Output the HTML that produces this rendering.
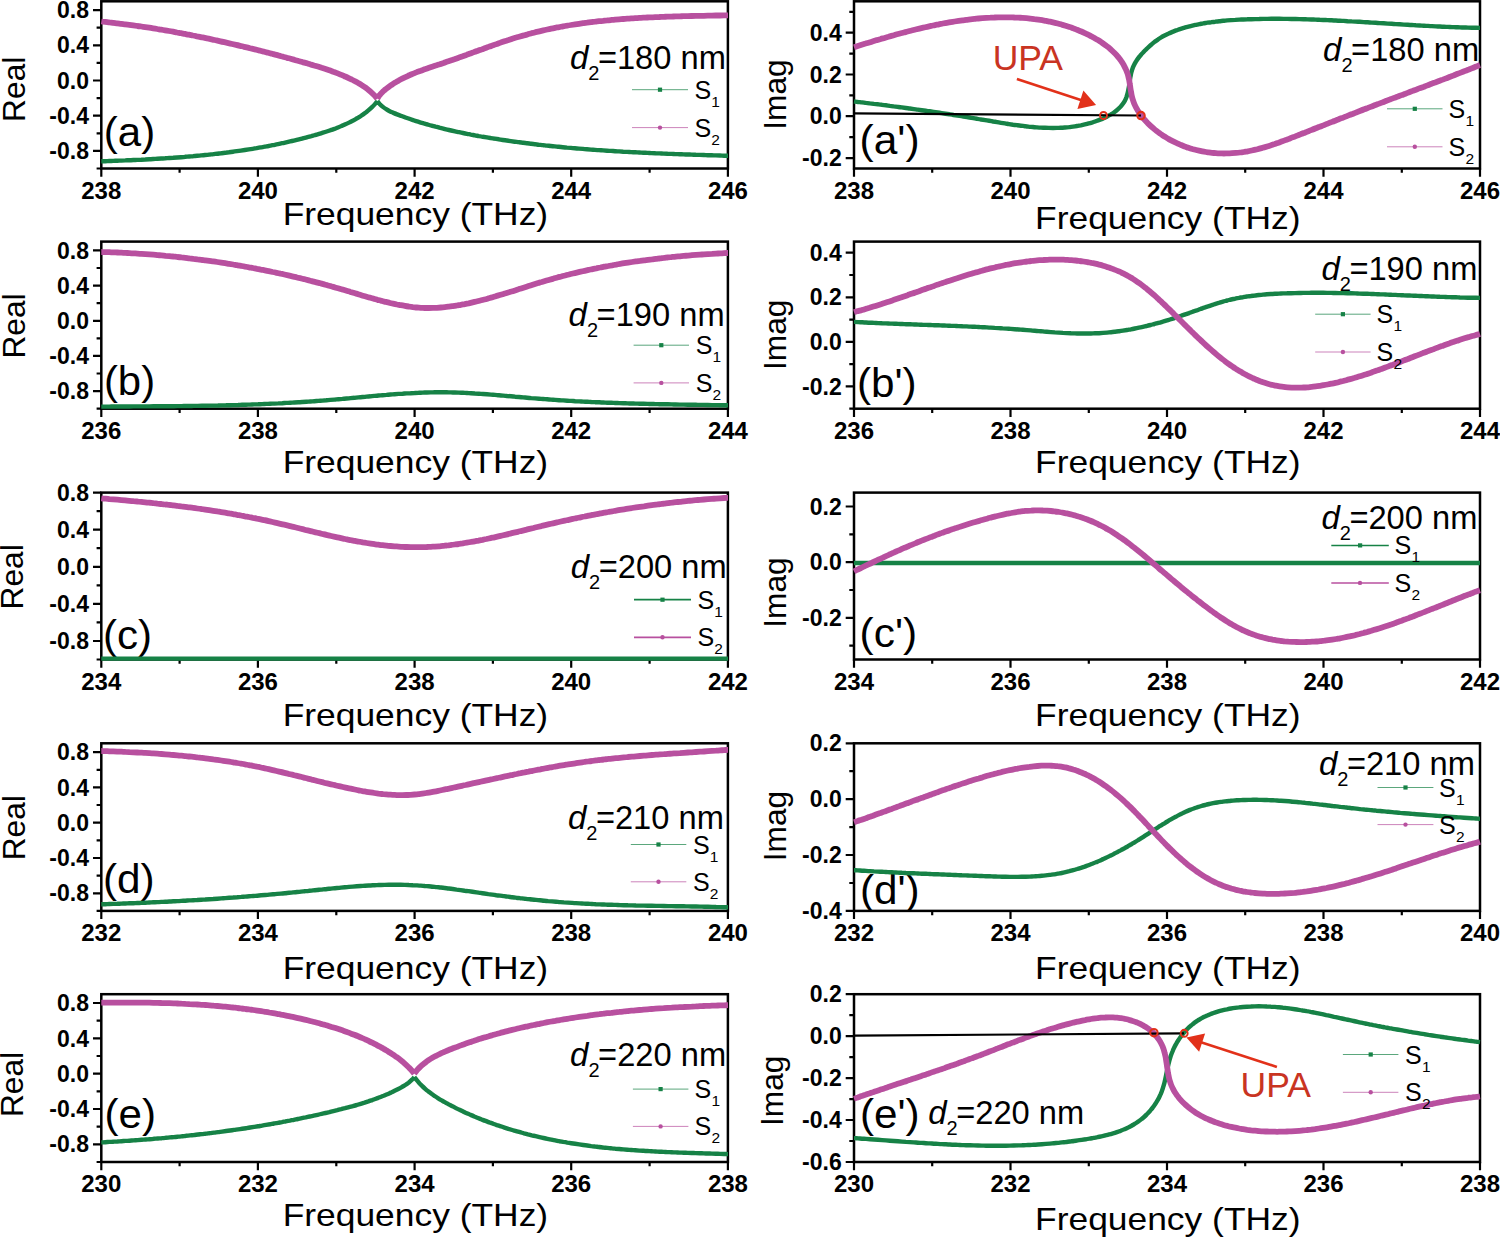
<!DOCTYPE html><html><head><meta charset="utf-8"><title>Figure</title><style>html,body{margin:0;padding:0;background:#fff;width:1500px;height:1237px;overflow:hidden}svg{display:block}text{font-family:"Liberation Sans",sans-serif}</style></head><body>
<svg xmlns="http://www.w3.org/2000/svg" width="1500" height="1237" viewBox="0 0 1500 1237">
<rect width="1500" height="1237" fill="#fff"/>
<defs><clipPath id="c0L"><rect x="100.1" y="0.1" width="629" height="169.6"/></clipPath><clipPath id="c0R"><rect x="852.8" y="0.1" width="628.4" height="169.6"/></clipPath><clipPath id="c1L"><rect x="100.1" y="240.4" width="629" height="169.5"/></clipPath><clipPath id="c1R"><rect x="852.8" y="240.4" width="628.4" height="169.5"/></clipPath><clipPath id="c2L"><rect x="100.1" y="491.4" width="629" height="169.3"/></clipPath><clipPath id="c2R"><rect x="852.8" y="491.4" width="628.4" height="169.3"/></clipPath><clipPath id="c3L"><rect x="100.1" y="742.1" width="629" height="170"/></clipPath><clipPath id="c3R"><rect x="852.8" y="742.1" width="628.4" height="170"/></clipPath><clipPath id="c4L"><rect x="100.1" y="993" width="629" height="170.2"/></clipPath><clipPath id="c4R"><rect x="852.8" y="993" width="628.4" height="170.2"/></clipPath></defs>
<text transform="translate(103.8,145.8) scale(1.051,1)" font-size="40">(a)</text><text x="569.9" y="68.9" font-size="33" font-style="italic">d</text><text x="588.2" y="79.9" font-size="20">2</text><text x="597.9" y="68.9" font-size="33" textLength="128" lengthAdjust="spacingAndGlyphs">=180 nm</text><rect x="101.3" y="1.3" width="626.6" height="167.2" fill="none" stroke="#000" stroke-width="2.5"/><path d="M93,150.9H101.3M93,115.7H101.3M93,80.5H101.3M93,45.3H101.3M93,10.1H101.3M96.6,168.5H101.3M96.6,133.3H101.3M96.6,98.1H101.3M96.6,62.9H101.3M96.6,27.7H101.3M101.3,168.5V176.7M179.6,168.5V172.8M257.9,168.5V176.7M336.3,168.5V172.8M414.6,168.5V176.7M492.9,168.5V172.8M571.2,168.5V176.7M649.6,168.5V172.8M727.9,168.5V176.7" stroke="#000" stroke-width="2.2" fill="none"/><text x="89" y="159" font-size="23" font-weight="bold" text-anchor="end">-0.8</text><text x="89" y="123.8" font-size="23" font-weight="bold" text-anchor="end">-0.4</text><text x="89" y="88.6" font-size="23" font-weight="bold" text-anchor="end">0.0</text><text x="89" y="53.4" font-size="23" font-weight="bold" text-anchor="end">0.4</text><text x="89" y="18.2" font-size="23" font-weight="bold" text-anchor="end">0.8</text><text x="101.3" y="198.5" font-size="24" font-weight="bold" text-anchor="middle">238</text><text x="257.9" y="198.5" font-size="24" font-weight="bold" text-anchor="middle">240</text><text x="414.6" y="198.5" font-size="24" font-weight="bold" text-anchor="middle">242</text><text x="571.2" y="198.5" font-size="24" font-weight="bold" text-anchor="middle">244</text><text x="727.9" y="198.5" font-size="24" font-weight="bold" text-anchor="middle">246</text><text x="415.4" y="224.8" font-size="32" text-anchor="middle" textLength="265.5" lengthAdjust="spacingAndGlyphs">Frequency (THz)</text><text transform="translate(24.7,89.3) rotate(-90)" font-size="31.7" text-anchor="middle">Real</text><g clip-path="url(#c0L)" fill="none" stroke-linejoin="round"><path d="M101.3,161.3C102,161.3 104,161.2 105.3,161.2C106.6,161.1 108,161.1 109.3,161C110.6,161 112,160.9 113.3,160.9C114.6,160.8 116,160.8 117.3,160.7C118.6,160.7 120,160.6 121.3,160.6C122.6,160.5 124,160.4 125.3,160.4C126.6,160.3 128,160.3 129.3,160.2C130.6,160.2 132,160.1 133.3,160C134.6,160 136,159.9 137.3,159.9C138.6,159.8 140,159.7 141.3,159.7C142.6,159.6 143.9,159.5 145.3,159.5C146.6,159.4 147.9,159.3 149.3,159.2C150.6,159.2 151.9,159.1 153.3,159C154.6,158.9 155.9,158.9 157.3,158.8C158.6,158.7 159.9,158.6 161.3,158.5C162.6,158.5 163.9,158.4 165.3,158.3C166.6,158.2 167.9,158.1 169.2,158C170.6,157.9 171.9,157.8 173.2,157.8C174.6,157.7 175.9,157.6 177.2,157.5C178.6,157.4 179.9,157.3 181.2,157.2C182.6,157.1 183.9,157 185.2,156.8C186.5,156.7 187.9,156.6 189.2,156.5C190.5,156.4 191.9,156.3 193.2,156.2C194.5,156 195.8,155.9 197.2,155.8C198.5,155.7 199.8,155.6 201.2,155.4C202.5,155.3 203.8,155.2 205.1,155C206.5,154.9 207.8,154.8 209.1,154.6C210.4,154.5 211.8,154.3 213.1,154.2C214.4,154 215.7,153.9 217.1,153.7C218.4,153.6 219.7,153.4 221,153.3C222.4,153.1 223.7,152.9 225,152.8C226.3,152.6 227.7,152.4 229,152.3C230.3,152.1 231.6,151.9 233,151.7C234.3,151.6 235.6,151.4 236.9,151.2C238.2,151 239.6,150.8 240.9,150.6C242.2,150.4 243.5,150.2 244.8,150C246.2,149.8 247.5,149.6 248.8,149.4C250.1,149.2 251.4,149 252.7,148.8C254.1,148.6 255.4,148.3 256.7,148.1C258,147.9 259.3,147.7 260.6,147.4C261.9,147.2 263.3,146.9 264.6,146.7C265.9,146.5 267.2,146.2 268.5,146C269.8,145.7 271.1,145.5 272.4,145.2C273.7,145 275,144.7 276.4,144.4C277.7,144.2 279,143.9 280.3,143.6C281.6,143.3 282.9,143.1 284.2,142.8C285.5,142.5 286.8,142.2 288.1,141.9C289.4,141.6 290.7,141.3 292,141C293.3,140.7 294.6,140.4 295.9,140.1C297.2,139.8 298.5,139.4 299.8,139.1C301.1,138.8 302.4,138.5 303.6,138.1C304.9,137.8 306.2,137.5 307.5,137.1C308.8,136.8 310.1,136.4 311.4,136.1C312.7,135.7 314,135.4 315.2,135C316.5,134.7 317.8,134.3 319.1,133.9C320.4,133.5 321.6,133.1 322.9,132.7C324.2,132.3 325.5,131.9 326.7,131.5C328,131.1 329.3,130.7 330.5,130.2C331.8,129.8 333,129.4 334.3,128.9C335.5,128.4 336.8,128 338,127.5C339.3,127 340.5,126.5 341.7,125.9C343,125.4 344.2,124.9 345.4,124.3C346.6,123.8 347.8,123.2 349,122.6C350.2,122 351.4,121.4 352.6,120.8C353.7,120.2 354.9,119.5 356.1,118.8C357.2,118.2 358.4,117.5 359.5,116.8C360.6,116.1 361.7,115.3 362.8,114.6C363.9,113.8 365,113 366.1,112.2C367.1,111.4 368.2,110.6 369.2,109.7C370.2,108.8 371.2,107.9 372.1,107C373.1,106.1 374,105.1 374.9,104.1C375.8,103.1 377,101.5 377.4,101M377.4,101C377.8,101.5 379,103.2 379.9,104.2C380.8,105.1 381.8,106 382.9,106.9C383.9,107.7 385,108.5 386.2,109.2C387.3,109.9 388.5,110.6 389.7,111.2C390.9,111.8 392.1,112.3 393.4,112.9C394.6,113.4 395.8,113.9 397.1,114.4C398.3,114.9 399.6,115.4 400.9,115.8C402.1,116.3 403.4,116.8 404.7,117.2C405.9,117.7 407.2,118.1 408.5,118.5C409.7,119 411,119.4 412.3,119.8C413.6,120.2 414.8,120.7 416.1,121.1C417.4,121.5 418.7,121.9 420,122.3C421.3,122.7 422.6,123 423.8,123.4C425.1,123.8 426.4,124.2 427.7,124.5C429,124.9 430.3,125.3 431.6,125.6C432.9,126 434.2,126.3 435.5,126.7C436.8,127 438.1,127.3 439.4,127.7C440.7,128 442,128.3 443.3,128.6C444.6,129 445.9,129.3 447.2,129.6C448.6,129.9 449.9,130.2 451.2,130.5C452.5,130.8 453.8,131.1 455.1,131.4C456.4,131.7 457.7,131.9 459.1,132.2C460.4,132.5 461.7,132.8 463,133C464.3,133.3 465.7,133.6 467,133.8C468.3,134.1 469.6,134.3 470.9,134.6C472.3,134.8 473.6,135.1 474.9,135.3C476.2,135.6 477.5,135.8 478.9,136.1C480.2,136.3 481.5,136.5 482.8,136.8C484.2,137 485.5,137.2 486.8,137.4C488.1,137.7 489.5,137.9 490.8,138.1C492.1,138.3 493.5,138.5 494.8,138.7C496.1,138.9 497.4,139.1 498.8,139.3C500.1,139.6 501.4,139.8 502.8,140C504.1,140.2 505.4,140.4 506.7,140.5C508.1,140.7 509.4,140.9 510.7,141.1C512.1,141.3 513.4,141.5 514.7,141.7C516.1,141.9 517.4,142 518.7,142.2C520.1,142.4 521.4,142.6 522.7,142.7C524.1,142.9 525.4,143.1 526.7,143.2C528.1,143.4 529.4,143.6 530.7,143.7C532.1,143.9 533.4,144.1 534.8,144.2C536.1,144.4 537.4,144.5 538.8,144.7C540.1,144.8 541.4,145 542.8,145.1C544.1,145.3 545.4,145.4 546.8,145.6C548.1,145.7 549.5,145.9 550.8,146C552.1,146.1 553.5,146.3 554.8,146.4C556.1,146.5 557.5,146.7 558.8,146.8C560.2,146.9 561.5,147.1 562.8,147.2C564.2,147.3 565.5,147.4 566.9,147.6C568.2,147.7 569.5,147.8 570.9,147.9C572.2,148.1 573.5,148.2 574.9,148.3C576.2,148.4 577.6,148.5 578.9,148.6C580.3,148.7 581.6,148.8 582.9,148.9C584.3,149.1 585.6,149.2 587,149.3C588.3,149.4 589.6,149.5 591,149.6C592.3,149.7 593.7,149.8 595,149.9C596.3,150 597.7,150.1 599,150.1C600.4,150.2 601.7,150.3 603.1,150.4C604.4,150.5 605.7,150.6 607.1,150.7C608.4,150.8 609.8,150.9 611.1,150.9C612.4,151 613.8,151.1 615.1,151.2C616.5,151.3 617.8,151.4 619.2,151.4C620.5,151.5 621.8,151.6 623.2,151.7C624.5,151.7 625.9,151.8 627.2,151.9C628.6,152 629.9,152 631.2,152.1C632.6,152.2 633.9,152.2 635.3,152.3C636.6,152.4 638,152.4 639.3,152.5C640.6,152.6 642,152.6 643.3,152.7C644.7,152.8 646,152.8 647.4,152.9C648.7,153 650,153 651.4,153.1C652.7,153.1 654.1,153.2 655.4,153.3C656.8,153.3 658.1,153.4 659.5,153.4C660.8,153.5 662.1,153.5 663.5,153.6C664.8,153.6 666.2,153.7 667.5,153.8C668.9,153.8 670.2,153.9 671.5,153.9C672.9,154 674.2,154 675.6,154.1C676.9,154.1 678.3,154.2 679.6,154.2C681,154.3 682.3,154.3 683.6,154.4C685,154.4 686.3,154.5 687.7,154.5C689,154.5 690.4,154.6 691.7,154.6C693.1,154.7 694.4,154.7 695.7,154.8C697.1,154.8 698.4,154.9 699.8,154.9C701.1,155 702.5,155 703.8,155C705.1,155.1 706.5,155.1 707.8,155.2C709.2,155.2 710.5,155.3 711.9,155.3C713.2,155.3 714.6,155.4 715.9,155.4C717.2,155.5 718.6,155.5 719.9,155.5C721.3,155.6 722.6,155.6 724,155.7C725.3,155.7 727.3,155.8 728,155.8" stroke="#168246" stroke-width="4.4"/><path d="M101.3,21.5C102,21.6 104,21.8 105.3,21.9C106.6,22.1 108,22.2 109.3,22.4C110.6,22.5 112,22.7 113.3,22.8C114.6,23 116,23.1 117.3,23.3C118.6,23.5 120,23.6 121.3,23.8C122.6,24 124,24.1 125.3,24.3C126.6,24.5 128,24.7 129.3,24.8C130.6,25 132,25.2 133.3,25.4C134.6,25.6 135.9,25.8 137.3,26C138.6,26.1 139.9,26.3 141.3,26.5C142.6,26.7 143.9,26.9 145.2,27.1C146.6,27.3 147.9,27.5 149.2,27.7C150.6,28 151.9,28.2 153.2,28.4C154.5,28.6 155.9,28.8 157.2,29C158.5,29.2 159.8,29.5 161.2,29.7C162.5,29.9 163.8,30.1 165.1,30.3C166.5,30.6 167.8,30.8 169.1,31C170.4,31.3 171.7,31.5 173.1,31.7C174.4,32 175.7,32.2 177,32.5C178.3,32.7 179.7,33 181,33.2C182.3,33.4 183.6,33.7 184.9,33.9C186.3,34.2 187.6,34.5 188.9,34.7C190.2,35 191.5,35.2 192.9,35.5C194.2,35.7 195.5,36 196.8,36.3C198.1,36.5 199.4,36.8 200.7,37.1C202.1,37.4 203.4,37.6 204.7,37.9C206,38.2 207.3,38.5 208.6,38.7C209.9,39 211.3,39.3 212.6,39.6C213.9,39.9 215.2,40.1 216.5,40.4C217.8,40.7 219.1,41 220.4,41.3C221.8,41.6 223.1,41.9 224.4,42.2C225.7,42.5 227,42.8 228.3,43.1C229.6,43.4 230.9,43.7 232.2,44C233.5,44.3 234.8,44.6 236.1,44.9C237.5,45.2 238.8,45.5 240.1,45.8C241.4,46.1 242.7,46.5 244,46.8C245.3,47.1 246.6,47.4 247.9,47.7C249.2,48 250.5,48.4 251.8,48.7C253.1,49 254.4,49.3 255.7,49.6C257,50 258.3,50.3 259.6,50.6C260.9,51 262.2,51.3 263.5,51.6C264.8,52 266.1,52.3 267.4,52.6C268.7,53 270,53.3 271.3,53.6C272.6,54 273.9,54.3 275.2,54.7C276.5,55 277.8,55.3 279.1,55.7C280.4,56 281.7,56.4 283,56.7C284.3,57.1 285.6,57.4 286.9,57.8C288.2,58.1 289.5,58.5 290.8,58.8C292.1,59.2 293.4,59.5 294.7,59.9C296,60.3 297.3,60.6 298.6,61C299.8,61.3 301.1,61.7 302.4,62.1C303.7,62.4 305,62.8 306.3,63.1C307.6,63.5 308.9,63.9 310.2,64.3C311.5,64.6 312.8,65 314,65.4C315.3,65.8 316.6,66.2 317.9,66.6C319.2,67 320.5,67.4 321.7,67.8C323,68.2 324.3,68.6 325.6,69C326.8,69.4 328.1,69.9 329.4,70.3C330.7,70.8 331.9,71.2 333.2,71.7C334.4,72.1 335.7,72.6 337,73.1C338.2,73.6 339.5,74.1 340.7,74.6C341.9,75.1 343.2,75.6 344.4,76.2C345.6,76.7 346.9,77.2 348.1,77.8C349.3,78.4 350.5,79 351.7,79.5C352.9,80.1 354.1,80.8 355.3,81.4C356.5,82 357.7,82.7 358.8,83.4C360,84 361.1,84.7 362.2,85.5C363.4,86.2 364.5,86.9 365.6,87.7C366.7,88.5 367.7,89.3 368.8,90.2C369.8,91 370.8,91.9 371.8,92.8C372.8,93.7 373.8,94.6 374.7,95.6C375.6,96.6 377,98.1 377.4,98.6M377.4,98.6C377.8,98 378.7,96.3 379.6,95.2C380.4,94.1 381.3,93.2 382.3,92.2C383.2,91.3 384.3,90.4 385.3,89.5C386.3,88.7 387.4,87.9 388.5,87.1C389.6,86.3 390.7,85.5 391.8,84.8C392.9,84 394,83.3 395.2,82.6C396.3,81.9 397.5,81.2 398.7,80.6C399.9,79.9 401,79.3 402.2,78.7C403.4,78.1 404.6,77.5 405.9,76.9C407.1,76.3 408.3,75.8 409.5,75.2C410.8,74.7 412,74.1 413.2,73.6C414.5,73.1 415.7,72.6 417,72.1C418.2,71.7 419.5,71.2 420.8,70.7C422,70.2 423.3,69.8 424.6,69.3C425.8,68.9 427.1,68.5 428.4,68C429.6,67.6 430.9,67.1 432.2,66.7C433.5,66.3 434.7,65.9 436,65.4C437.3,65 438.6,64.6 439.9,64.2C441.1,63.7 442.4,63.3 443.7,62.9C445,62.5 446.2,62 447.5,61.6C448.8,61.2 450.1,60.7 451.3,60.3C452.6,59.9 453.9,59.4 455.1,59C456.4,58.5 457.7,58.1 458.9,57.6C460.2,57.2 461.5,56.7 462.7,56.3C464,55.8 465.3,55.3 466.5,54.9C467.8,54.4 469.1,54 470.3,53.5C471.6,53 472.8,52.6 474.1,52.1C475.4,51.7 476.6,51.2 477.9,50.7C479.2,50.3 480.4,49.8 481.7,49.4C483,48.9 484.2,48.5 485.5,48C486.8,47.5 488,47.1 489.3,46.6C490.6,46.2 491.8,45.7 493.1,45.3C494.4,44.8 495.6,44.4 496.9,44C498.2,43.5 499.4,43.1 500.7,42.6C502,42.2 503.3,41.8 504.5,41.3C505.8,40.9 507.1,40.5 508.4,40.1C509.6,39.7 510.9,39.3 512.2,38.8C513.5,38.4 514.8,38 516.1,37.6C517.3,37.2 518.6,36.9 519.9,36.5C521.2,36.1 522.5,35.7 523.8,35.4C525.1,35 526.4,34.6 527.7,34.3C529,33.9 530.3,33.6 531.6,33.2C532.9,32.9 534.2,32.6 535.5,32.2C536.8,31.9 538.1,31.6 539.4,31.3C540.7,31 542,30.7 543.3,30.4C544.7,30.1 546,29.8 547.3,29.5C548.6,29.2 549.9,28.9 551.2,28.6C552.5,28.4 553.9,28.1 555.2,27.8C556.5,27.6 557.8,27.3 559.1,27.1C560.5,26.8 561.8,26.6 563.1,26.3C564.4,26.1 565.8,25.9 567.1,25.7C568.4,25.4 569.7,25.2 571.1,25C572.4,24.8 573.7,24.6 575.1,24.4C576.4,24.2 577.7,24 579,23.8C580.4,23.6 581.7,23.4 583,23.2C584.4,23 585.7,22.8 587,22.7C588.4,22.5 589.7,22.3 591,22.1C592.4,22 593.7,21.8 595.1,21.7C596.4,21.5 597.7,21.4 599.1,21.2C600.4,21.1 601.7,20.9 603.1,20.8C604.4,20.6 605.7,20.5 607.1,20.4C608.4,20.2 609.8,20.1 611.1,20C612.4,19.9 613.8,19.8 615.1,19.6C616.5,19.5 617.8,19.4 619.1,19.3C620.5,19.2 621.8,19.1 623.2,19C624.5,18.9 625.9,18.8 627.2,18.7C628.5,18.6 629.9,18.5 631.2,18.4C632.6,18.3 633.9,18.3 635.2,18.2C636.6,18.1 637.9,18 639.3,17.9C640.6,17.9 642,17.8 643.3,17.7C644.6,17.6 646,17.6 647.3,17.5C648.7,17.4 650,17.4 651.4,17.3C652.7,17.3 654,17.2 655.4,17.1C656.7,17.1 658.1,17 659.4,17C660.8,16.9 662.1,16.9 663.5,16.8C664.8,16.8 666.1,16.7 667.5,16.7C668.8,16.6 670.2,16.6 671.5,16.6C672.9,16.5 674.2,16.5 675.6,16.4C676.9,16.4 678.2,16.4 679.6,16.3C680.9,16.3 682.3,16.2 683.6,16.2C685,16.2 686.3,16.1 687.7,16.1C689,16.1 690.3,16.1 691.7,16C693,16 694.4,16 695.7,15.9C697.1,15.9 698.4,15.9 699.8,15.9C701.1,15.8 702.4,15.8 703.8,15.8C705.1,15.7 706.5,15.7 707.8,15.7C709.2,15.7 710.5,15.6 711.9,15.6C713.2,15.6 714.6,15.6 715.9,15.5C717.2,15.5 718.6,15.5 719.9,15.5C721.3,15.4 722.6,15.4 724,15.4C725.3,15.4 727.3,15.3 728,15.3" stroke="#b8509f" stroke-width="5.8"/></g><path d="M632,89.7H688" stroke="#168246" stroke-width="1.0" opacity="0.7"/><rect x="657.9" y="87.6" width="4.2" height="4.2" fill="#168246"/><path d="M632,127.6H688" stroke="#b8509f" stroke-width="1.0" opacity="0.7"/><circle cx="660" cy="127.6" r="2.2" fill="#b8509f"/><text x="694.4" y="98.7" font-size="25">S</text><text x="711.3" y="106.7" font-size="15.5">1</text><text x="694.4" y="136.6" font-size="25">S</text><text x="711.3" y="144.6" font-size="15.5">2</text>
<text transform="translate(859.6,154.2) scale(1.062,1)" font-size="40">(a')</text><text x="1323.1" y="60.8" font-size="33" font-style="italic">d</text><text x="1341.4" y="71.8" font-size="20">2</text><text x="1351.1" y="60.8" font-size="33" textLength="128" lengthAdjust="spacingAndGlyphs">=180 nm</text><rect x="854" y="1.3" width="626" height="167.2" fill="none" stroke="#000" stroke-width="2.5"/><path d="M845.7,158.1H854M845.7,116.2H854M845.7,74.5H854M845.7,32.7H854M849.3,137.2H854M849.3,95.4H854M849.3,53.6H854M849.3,11.8H854M854,168.5V176.7M932.2,168.5V172.8M1010.5,168.5V176.7M1088.8,168.5V172.8M1167,168.5V176.7M1245.2,168.5V172.8M1323.5,168.5V176.7M1401.8,168.5V172.8M1480,168.5V176.7" stroke="#000" stroke-width="2.2" fill="none"/><text x="841.7" y="166.2" font-size="23" font-weight="bold" text-anchor="end">-0.2</text><text x="841.7" y="124.3" font-size="23" font-weight="bold" text-anchor="end">0.0</text><text x="841.7" y="82.5" font-size="23" font-weight="bold" text-anchor="end">0.2</text><text x="841.7" y="40.8" font-size="23" font-weight="bold" text-anchor="end">0.4</text><text x="854" y="198.5" font-size="24" font-weight="bold" text-anchor="middle">238</text><text x="1010.5" y="198.5" font-size="24" font-weight="bold" text-anchor="middle">240</text><text x="1167" y="198.5" font-size="24" font-weight="bold" text-anchor="middle">242</text><text x="1323.5" y="198.5" font-size="24" font-weight="bold" text-anchor="middle">244</text><text x="1480" y="198.5" font-size="24" font-weight="bold" text-anchor="middle">246</text><text x="1167.8" y="228.6" font-size="32" text-anchor="middle" textLength="265.5" lengthAdjust="spacingAndGlyphs">Frequency (THz)</text><text transform="translate(786.1,94.5) rotate(-90)" font-size="31.7" text-anchor="middle">Imag</text><g clip-path="url(#c0R)" fill="none" stroke-linejoin="round"><path d="M854,101.5C854.7,101.6 856.7,101.8 858,102C859.3,102.1 860.6,102.3 862,102.4C863.3,102.6 864.6,102.7 866,102.9C867.3,103 868.6,103.2 870,103.4C871.3,103.5 872.6,103.7 873.9,103.9C875.3,104 876.6,104.2 877.9,104.3C879.3,104.5 880.6,104.7 881.9,104.8C883.2,105 884.6,105.2 885.9,105.3C887.2,105.5 888.6,105.7 889.9,105.9C891.2,106 892.5,106.2 893.9,106.4C895.2,106.5 896.5,106.7 897.8,106.9C899.2,107.1 900.5,107.3 901.8,107.4C903.2,107.6 904.5,107.8 905.8,108C907.1,108.2 908.5,108.3 909.8,108.5C911.1,108.7 912.4,108.9 913.8,109.1C915.1,109.3 916.4,109.4 917.7,109.6C919.1,109.8 920.4,110 921.7,110.2C923,110.4 924.4,110.6 925.7,110.8C927,111 928.3,111.1 929.7,111.3C931,111.5 932.3,111.7 933.6,111.9C935,112.1 936.3,112.3 937.6,112.5C938.9,112.7 940.3,112.9 941.6,113.1C942.9,113.3 944.2,113.5 945.6,113.7C946.9,113.9 948.2,114.1 949.5,114.3C950.8,114.5 952.2,114.7 953.5,115C954.8,115.2 956.1,115.4 957.5,115.6C958.8,115.8 960.1,116 961.4,116.2C962.7,116.4 964.1,116.6 965.4,116.8C966.7,117.1 968,117.3 969.4,117.5C970.7,117.7 972,117.9 973.3,118.1C974.6,118.4 976,118.6 977.3,118.8C978.6,119 979.9,119.2 981.2,119.5C982.6,119.7 983.9,119.9 985.2,120.1C986.5,120.4 987.8,120.6 989.2,120.8C990.5,121 991.8,121.2 993.1,121.5C994.4,121.7 995.8,121.9 997.1,122.1C998.4,122.4 999.7,122.6 1001,122.8C1002.4,123 1003.7,123.2 1005,123.4C1006.3,123.6 1007.7,123.9 1009,124.1C1010.3,124.3 1011.6,124.5 1013,124.7C1014.3,124.8 1015.6,125 1016.9,125.2C1018.3,125.4 1019.6,125.6 1020.9,125.7C1022.2,125.9 1023.6,126.1 1024.9,126.2C1026.2,126.4 1027.6,126.5 1028.9,126.7C1030.2,126.8 1031.6,126.9 1032.9,127C1034.2,127.2 1035.6,127.3 1036.9,127.4C1038.2,127.5 1039.6,127.6 1040.9,127.6C1042.2,127.7 1043.6,127.8 1044.9,127.8C1046.2,127.9 1047.6,127.9 1048.9,127.9C1050.3,128 1051.6,128 1052.9,128C1054.3,127.9 1055.6,127.9 1057,127.9C1058.3,127.9 1059.6,127.8 1061,127.7C1062.3,127.7 1063.6,127.6 1065,127.5C1066.3,127.4 1067.6,127.2 1069,127.1C1070.3,126.9 1071.6,126.8 1073,126.6C1074.3,126.4 1075.6,126.2 1076.9,126C1078.3,125.8 1079.6,125.5 1080.9,125.3C1082.2,125 1083.5,124.7 1084.8,124.4C1086.1,124.1 1087.4,123.8 1088.7,123.4C1090,123.1 1091.3,122.7 1092.6,122.3C1093.8,121.9 1095.1,121.5 1096.4,121C1097.6,120.6 1098.9,120.1 1100.1,119.6C1101.4,119.1 1102.6,118.6 1103.8,118.1C1105.1,117.5 1106.3,117 1107.5,116.3C1108.6,115.7 1109.8,115.1 1111,114.4C1112.1,113.7 1113.2,113 1114.3,112.2C1115.4,111.4 1116.5,110.6 1117.5,109.7C1118.5,108.8 1119.5,107.9 1120.4,106.9C1121.3,105.9 1122.1,104.9 1122.9,103.8C1123.7,102.7 1124.4,101.6 1125,100.4C1125.6,99.2 1126.1,98 1126.6,96.7C1127,95.4 1127.4,94.1 1127.7,92.9C1128,91.6 1128.3,90.2 1128.5,88.9C1128.8,87.6 1129,86.3 1129.2,85C1129.4,83.6 1129.6,82.3 1129.8,81C1130,79.7 1130.2,78.3 1130.4,77C1130.7,75.7 1130.9,74.4 1131.2,73.1C1131.5,71.8 1131.9,70.5 1132.3,69.2C1132.7,68 1133.2,66.7 1133.8,65.5C1134.4,64.3 1135,63.1 1135.7,62C1136.4,60.8 1137.1,59.7 1137.9,58.6C1138.7,57.5 1139.5,56.5 1140.4,55.5C1141.3,54.4 1142.2,53.4 1143.1,52.5C1144,51.5 1144.9,50.5 1145.9,49.6C1146.8,48.7 1147.8,47.7 1148.8,46.8C1149.8,45.9 1150.8,45 1151.8,44.2C1152.8,43.3 1153.9,42.5 1154.9,41.6C1156,40.8 1157.1,40 1158.2,39.3C1159.3,38.5 1160.4,37.8 1161.6,37.1C1162.7,36.5 1163.9,35.8 1165.1,35.2C1166.3,34.6 1167.5,34 1168.7,33.5C1170,32.9 1171.2,32.4 1172.4,31.9C1173.7,31.4 1174.9,30.9 1176.2,30.4C1177.4,30 1178.7,29.5 1179.9,29.1C1181.2,28.7 1182.5,28.3 1183.8,27.9C1185.1,27.5 1186.3,27.1 1187.6,26.8C1188.9,26.5 1190.2,26.1 1191.5,25.8C1192.8,25.5 1194.1,25.2 1195.4,24.9C1196.8,24.6 1198.1,24.4 1199.4,24.1C1200.7,23.9 1202,23.6 1203.3,23.4C1204.7,23.2 1206,22.9 1207.3,22.7C1208.6,22.5 1209.9,22.3 1211.3,22.2C1212.6,22 1213.9,21.8 1215.3,21.7C1216.6,21.5 1217.9,21.3 1219.2,21.2C1220.6,21.1 1221.9,20.9 1223.2,20.8C1224.6,20.7 1225.9,20.5 1227.2,20.4C1228.6,20.3 1229.9,20.2 1231.2,20.1C1232.6,20 1233.9,19.9 1235.3,19.9C1236.6,19.8 1237.9,19.7 1239.3,19.6C1240.6,19.6 1241.9,19.5 1243.3,19.5C1244.6,19.4 1246,19.3 1247.3,19.3C1248.6,19.2 1250,19.2 1251.3,19.2C1252.6,19.1 1254,19.1 1255.3,19.1C1256.7,19 1258,19 1259.3,19C1260.7,18.9 1262,18.9 1263.4,18.9C1264.7,18.9 1266,18.9 1267.4,18.9C1268.7,18.8 1270,18.8 1271.4,18.8C1272.7,18.8 1274.1,18.8 1275.4,18.8C1276.7,18.8 1278.1,18.8 1279.4,18.8C1280.8,18.8 1282.1,18.8 1283.4,18.9C1284.8,18.9 1286.1,18.9 1287.4,18.9C1288.8,18.9 1290.1,18.9 1291.5,19C1292.8,19 1294.1,19 1295.5,19C1296.8,19.1 1298.2,19.1 1299.5,19.1C1300.8,19.2 1302.2,19.2 1303.5,19.2C1304.8,19.3 1306.2,19.3 1307.5,19.4C1308.9,19.4 1310.2,19.4 1311.5,19.5C1312.9,19.5 1314.2,19.6 1315.6,19.6C1316.9,19.7 1318.2,19.7 1319.6,19.8C1320.9,19.8 1322.2,19.9 1323.6,20C1324.9,20 1326.3,20.1 1327.6,20.1C1328.9,20.2 1330.3,20.3 1331.6,20.3C1332.9,20.4 1334.3,20.5 1335.6,20.5C1337,20.6 1338.3,20.7 1339.6,20.7C1341,20.8 1342.3,20.9 1343.6,20.9C1345,21 1346.3,21.1 1347.6,21.2C1349,21.2 1350.3,21.3 1351.7,21.4C1353,21.4 1354.3,21.5 1355.7,21.6C1357,21.7 1358.3,21.8 1359.7,21.8C1361,21.9 1362.3,22 1363.7,22.1C1365,22.2 1366.4,22.2 1367.7,22.3C1369,22.4 1370.4,22.5 1371.7,22.6C1373,22.6 1374.4,22.7 1375.7,22.8C1377,22.9 1378.4,23 1379.7,23.1C1381.1,23.1 1382.4,23.2 1383.7,23.3C1385.1,23.4 1386.4,23.5 1387.7,23.6C1389.1,23.6 1390.4,23.7 1391.7,23.8C1393.1,23.9 1394.4,24 1395.8,24.1C1397.1,24.1 1398.4,24.2 1399.8,24.3C1401.1,24.4 1402.4,24.5 1403.8,24.6C1405.1,24.6 1406.4,24.7 1407.8,24.8C1409.1,24.9 1410.5,25 1411.8,25C1413.1,25.1 1414.5,25.2 1415.8,25.3C1417.1,25.3 1418.5,25.4 1419.8,25.5C1421.1,25.6 1422.5,25.6 1423.8,25.7C1425.2,25.8 1426.5,25.9 1427.8,25.9C1429.2,26 1430.5,26.1 1431.8,26.1C1433.2,26.2 1434.5,26.3 1435.8,26.4C1437.2,26.4 1438.5,26.5 1439.9,26.5C1441.2,26.6 1442.5,26.7 1443.9,26.7C1445.2,26.8 1446.5,26.9 1447.9,26.9C1449.2,27 1450.6,27 1451.9,27.1C1453.2,27.1 1454.6,27.2 1455.9,27.2C1457.2,27.3 1458.6,27.3 1459.9,27.4C1461.3,27.4 1462.6,27.5 1463.9,27.5C1465.3,27.5 1466.6,27.6 1468,27.6C1469.3,27.7 1470.6,27.7 1472,27.7C1473.3,27.8 1474.6,27.8 1476,27.8C1477.3,27.9 1479.3,27.9 1480,27.9" stroke="#168246" stroke-width="4.4"/><path d="M854,47.2C854.6,47 856.5,46.4 857.8,46C859.1,45.6 860.4,45.2 861.6,44.8C862.9,44.4 864.2,44 865.5,43.6C866.7,43.2 868,42.9 869.3,42.5C870.6,42.1 871.8,41.7 873.1,41.3C874.4,40.9 875.7,40.5 876.9,40.1C878.2,39.8 879.5,39.4 880.8,39C882,38.6 883.3,38.3 884.6,37.9C885.9,37.5 887.2,37.1 888.4,36.8C889.7,36.4 891,36 892.3,35.7C893.6,35.3 894.9,35 896.1,34.6C897.4,34.2 898.7,33.9 900,33.5C901.3,33.2 902.6,32.8 903.9,32.5C905.1,32.2 906.4,31.8 907.7,31.5C909,31.2 910.3,30.8 911.6,30.5C912.9,30.2 914.2,29.8 915.5,29.5C916.8,29.2 918.1,28.9 919.4,28.6C920.7,28.3 922,28 923.3,27.7C924.6,27.4 925.9,27.1 927.2,26.8C928.5,26.5 929.8,26.2 931.1,25.9C932.4,25.6 933.7,25.4 935,25.1C936.3,24.8 937.6,24.6 938.9,24.3C940.2,24 941.5,23.8 942.8,23.5C944.1,23.3 945.4,23.1 946.8,22.8C948.1,22.6 949.4,22.4 950.7,22.1C952,21.9 953.3,21.7 954.6,21.5C956,21.3 957.3,21.1 958.6,20.9C959.9,20.7 961.2,20.5 962.6,20.3C963.9,20.1 965.2,20 966.5,19.8C967.8,19.6 969.2,19.5 970.5,19.3C971.8,19.2 973.1,19 974.5,18.9C975.8,18.8 977.1,18.6 978.4,18.5C979.8,18.4 981.1,18.3 982.4,18.2C983.8,18.1 985.1,18 986.4,17.9C987.7,17.8 989.1,17.7 990.4,17.7C991.7,17.6 993.1,17.5 994.4,17.5C995.7,17.4 997.1,17.4 998.4,17.4C999.7,17.3 1001.1,17.3 1002.4,17.3C1003.7,17.3 1005.1,17.3 1006.4,17.3C1007.7,17.3 1009.1,17.3 1010.4,17.3C1011.7,17.4 1013.1,17.4 1014.4,17.5C1015.7,17.5 1017.1,17.6 1018.4,17.6C1019.7,17.7 1021.1,17.8 1022.4,17.9C1023.7,18 1025,18.1 1026.4,18.2C1027.7,18.3 1029,18.5 1030.3,18.6C1031.7,18.7 1033,18.9 1034.3,19.1C1035.6,19.2 1037,19.4 1038.3,19.6C1039.6,19.8 1040.9,20 1042.2,20.2C1043.5,20.4 1044.9,20.7 1046.2,20.9C1047.5,21.2 1048.8,21.4 1050.1,21.7C1051.4,22 1052.7,22.3 1054,22.6C1055.3,22.9 1056.6,23.2 1057.9,23.5C1059.2,23.9 1060.5,24.2 1061.7,24.6C1063,24.9 1064.3,25.3 1065.6,25.7C1066.8,26.1 1068.1,26.5 1069.4,26.9C1070.6,27.4 1071.9,27.8 1073.1,28.3C1074.4,28.7 1075.6,29.2 1076.9,29.7C1078.1,30.2 1079.4,30.7 1080.6,31.2C1081.8,31.7 1083,32.3 1084.2,32.8C1085.5,33.4 1086.7,34 1087.9,34.5C1089,35.1 1090.2,35.7 1091.4,36.4C1092.6,37 1093.8,37.6 1094.9,38.3C1096.1,38.9 1097.2,39.6 1098.4,40.3C1099.5,41 1100.6,41.7 1101.7,42.5C1102.8,43.2 1103.9,44 1105,44.8C1106.1,45.6 1107.1,46.4 1108.2,47.2C1109.2,48.1 1110.2,48.9 1111.2,49.8C1112.2,50.7 1113.2,51.6 1114.1,52.6C1115.1,53.5 1116,54.5 1116.9,55.5C1117.7,56.5 1118.6,57.5 1119.4,58.5C1120.2,59.6 1121,60.7 1121.7,61.8C1122.5,62.9 1123.2,64 1123.8,65.2C1124.5,66.4 1125.1,67.6 1125.6,68.8C1126.2,70 1126.7,71.2 1127.1,72.5C1127.6,73.7 1128,75 1128.3,76.3C1128.6,77.6 1128.9,78.9 1129.2,80.2C1129.4,81.5 1129.6,82.8 1129.8,84.1C1130.1,85.5 1130.2,86.8 1130.4,88.1C1130.6,89.4 1130.8,90.7 1131.1,92C1131.3,93.4 1131.5,94.7 1131.8,96C1132.1,97.3 1132.5,98.6 1132.9,99.8C1133.3,101.1 1133.7,102.4 1134.2,103.6C1134.7,104.8 1135.3,106 1135.9,107.2C1136.5,108.4 1137.2,109.6 1137.9,110.7C1138.6,111.8 1139.3,112.9 1140.1,114C1140.9,115.1 1141.7,116.2 1142.5,117.2C1143.3,118.3 1144.2,119.3 1145.1,120.3C1146,121.3 1146.9,122.3 1147.8,123.2C1148.7,124.2 1149.7,125.1 1150.7,126C1151.7,126.9 1152.7,127.8 1153.7,128.6C1154.7,129.5 1155.7,130.3 1156.8,131.1C1157.8,132 1158.9,132.8 1160,133.5C1161.1,134.3 1162.2,135 1163.3,135.8C1164.4,136.5 1165.6,137.2 1166.7,137.9C1167.8,138.6 1169,139.2 1170.2,139.9C1171.3,140.5 1172.5,141.1 1173.7,141.7C1174.9,142.3 1176.1,142.9 1177.3,143.4C1178.5,144 1179.8,144.5 1181,145C1182.2,145.5 1183.5,146 1184.7,146.5C1186,146.9 1187.2,147.4 1188.5,147.8C1189.8,148.2 1191,148.6 1192.3,149C1193.6,149.3 1194.9,149.7 1196.2,150C1197.5,150.3 1198.8,150.6 1200.1,150.9C1201.4,151.2 1202.7,151.5 1204,151.7C1205.3,151.9 1206.6,152.1 1207.9,152.3C1209.3,152.5 1210.6,152.7 1211.9,152.8C1213.2,152.9 1214.6,153.1 1215.9,153.2C1217.2,153.3 1218.6,153.3 1219.9,153.4C1221.2,153.4 1222.6,153.5 1223.9,153.5C1225.2,153.5 1226.6,153.4 1227.9,153.4C1229.2,153.4 1230.6,153.3 1231.9,153.2C1233.2,153.1 1234.5,153 1235.9,152.9C1237.2,152.8 1238.5,152.7 1239.8,152.5C1241.2,152.3 1242.5,152.2 1243.8,152C1245.1,151.8 1246.4,151.5 1247.8,151.3C1249.1,151.1 1250.4,150.8 1251.7,150.5C1253,150.3 1254.3,150 1255.6,149.7C1256.9,149.4 1258.2,149 1259.5,148.7C1260.7,148.3 1262,148 1263.3,147.6C1264.6,147.3 1265.9,146.9 1267.1,146.5C1268.4,146.1 1269.7,145.7 1271,145.3C1272.2,144.9 1273.5,144.4 1274.8,144C1276,143.6 1277.3,143.1 1278.5,142.7C1279.8,142.2 1281,141.8 1282.3,141.3C1283.5,140.9 1284.8,140.4 1286,139.9C1287.3,139.5 1288.5,139 1289.8,138.5C1291,138 1292.3,137.5 1293.5,137.1C1294.7,136.6 1296,136.1 1297.2,135.6C1298.5,135.1 1299.7,134.6 1300.9,134.1C1302.2,133.7 1303.4,133.2 1304.7,132.7C1305.9,132.2 1307.1,131.7 1308.4,131.2C1309.6,130.7 1310.9,130.2 1312.1,129.8C1313.4,129.3 1314.6,128.8 1315.8,128.3C1317.1,127.8 1318.3,127.3 1319.6,126.8C1320.8,126.3 1322,125.9 1323.3,125.4C1324.5,124.9 1325.8,124.4 1327,123.9C1328.2,123.4 1329.5,122.9 1330.7,122.4C1332,121.9 1333.2,121.5 1334.4,121C1335.7,120.5 1336.9,120 1338.2,119.5C1339.4,119 1340.6,118.5 1341.9,118.1C1343.1,117.6 1344.4,117.1 1345.6,116.6C1346.8,116.1 1348.1,115.6 1349.3,115.1C1350.6,114.7 1351.8,114.2 1353.1,113.7C1354.3,113.2 1355.5,112.7 1356.8,112.2C1358,111.8 1359.3,111.3 1360.5,110.8C1361.8,110.3 1363,109.8 1364.2,109.3C1365.5,108.9 1366.7,108.4 1368,107.9C1369.2,107.4 1370.5,106.9 1371.7,106.5C1372.9,106 1374.2,105.5 1375.4,105C1376.7,104.5 1377.9,104.1 1379.2,103.6C1380.4,103.1 1381.7,102.6 1382.9,102.2C1384.1,101.7 1385.4,101.2 1386.6,100.7C1387.9,100.3 1389.1,99.8 1390.4,99.3C1391.6,98.9 1392.9,98.4 1394.1,97.9C1395.4,97.4 1396.6,97 1397.9,96.5C1399.1,96 1400.4,95.6 1401.6,95.1C1402.9,94.6 1404.1,94.2 1405.4,93.7C1406.6,93.2 1407.8,92.8 1409.1,92.3C1410.3,91.8 1411.6,91.4 1412.8,90.9C1414.1,90.4 1415.3,89.9 1416.6,89.5C1417.8,89 1419.1,88.5 1420.3,88.1C1421.6,87.6 1422.8,87.1 1424.1,86.7C1425.3,86.2 1426.6,85.7 1427.8,85.3C1429.1,84.8 1430.3,84.3 1431.6,83.8C1432.8,83.4 1434,82.9 1435.3,82.4C1436.5,82 1437.8,81.5 1439,81C1440.3,80.5 1441.5,80.1 1442.8,79.6C1444,79.1 1445.3,78.6 1446.5,78.2C1447.7,77.7 1449,77.2 1450.2,76.7C1451.5,76.3 1452.7,75.8 1454,75.3C1455.2,74.8 1456.5,74.3 1457.7,73.8C1458.9,73.4 1460.2,72.9 1461.4,72.4C1462.7,71.9 1463.9,71.4 1465.1,70.9C1466.4,70.4 1467.6,70 1468.9,69.5C1470.1,69 1471.3,68.5 1472.6,68C1473.8,67.5 1475.1,67 1476.3,66.5C1477.5,66 1479.4,65.2 1480,65" stroke="#b8509f" stroke-width="5.8"/></g><path d="M1387,108.8H1442.5" stroke="#168246" stroke-width="1.0" opacity="0.7"/><rect x="1412.7" y="106.7" width="4.2" height="4.2" fill="#168246"/><path d="M1387,146.8H1442.5" stroke="#b8509f" stroke-width="1.0" opacity="0.7"/><circle cx="1414.8" cy="146.8" r="2.2" fill="#b8509f"/><text x="1448.5" y="117.8" font-size="25">S</text><text x="1465.4" y="125.8" font-size="15.5">1</text><text x="1448.5" y="155.8" font-size="25">S</text><text x="1465.4" y="163.8" font-size="15.5">2</text>
<text transform="translate(103.9,394.7) scale(1.047,1)" font-size="40">(b)</text><text x="568.6" y="326.4" font-size="33" font-style="italic">d</text><text x="586.9" y="337.4" font-size="20">2</text><text x="596.6" y="326.4" font-size="33" textLength="128" lengthAdjust="spacingAndGlyphs">=190 nm</text><rect x="101.3" y="241.6" width="626.6" height="167.1" fill="none" stroke="#000" stroke-width="2.5"/><path d="M93,391.1H101.3M93,355.9H101.3M93,320.8H101.3M93,285.6H101.3M93,250.4H101.3M96.6,408.7H101.3M96.6,373.5H101.3M96.6,338.3H101.3M96.6,303.2H101.3M96.6,268H101.3M101.3,408.7V416.9M179.6,408.7V413M257.9,408.7V416.9M336.3,408.7V413M414.6,408.7V416.9M492.9,408.7V413M571.2,408.7V416.9M649.6,408.7V413M727.9,408.7V416.9" stroke="#000" stroke-width="2.2" fill="none"/><text x="89" y="399.2" font-size="23" font-weight="bold" text-anchor="end">-0.8</text><text x="89" y="364" font-size="23" font-weight="bold" text-anchor="end">-0.4</text><text x="89" y="328.9" font-size="23" font-weight="bold" text-anchor="end">0.0</text><text x="89" y="293.7" font-size="23" font-weight="bold" text-anchor="end">0.4</text><text x="89" y="258.5" font-size="23" font-weight="bold" text-anchor="end">0.8</text><text x="101.3" y="438.7" font-size="24" font-weight="bold" text-anchor="middle">236</text><text x="257.9" y="438.7" font-size="24" font-weight="bold" text-anchor="middle">238</text><text x="414.6" y="438.7" font-size="24" font-weight="bold" text-anchor="middle">240</text><text x="571.2" y="438.7" font-size="24" font-weight="bold" text-anchor="middle">242</text><text x="727.9" y="438.7" font-size="24" font-weight="bold" text-anchor="middle">244</text><text x="415.4" y="473.4" font-size="32" text-anchor="middle" textLength="265.5" lengthAdjust="spacingAndGlyphs">Frequency (THz)</text><text transform="translate(24.7,326) rotate(-90)" font-size="31.7" text-anchor="middle">Real</text><g clip-path="url(#c1L)" fill="none" stroke-linejoin="round"><path d="M101.3,406.6C102,406.6 104,406.6 105.3,406.6C106.7,406.6 108,406.6 109.3,406.6C110.7,406.6 112,406.5 113.4,406.5C114.7,406.5 116.1,406.5 117.4,406.5C118.7,406.5 120.1,406.5 121.4,406.5C122.8,406.5 124.1,406.5 125.4,406.5C126.8,406.5 128.1,406.5 129.5,406.5C130.8,406.5 132.1,406.5 133.5,406.4C134.8,406.4 136.2,406.4 137.5,406.4C138.8,406.4 140.2,406.4 141.5,406.4C142.9,406.4 144.2,406.4 145.6,406.4C146.9,406.4 148.2,406.4 149.6,406.4C150.9,406.3 152.3,406.3 153.6,406.3C154.9,406.3 156.3,406.3 157.6,406.3C159,406.3 160.3,406.3 161.6,406.3C163,406.3 164.3,406.2 165.7,406.2C167,406.2 168.3,406.2 169.7,406.2C171,406.2 172.4,406.2 173.7,406.2C175.1,406.1 176.4,406.1 177.7,406.1C179.1,406.1 180.4,406.1 181.8,406.1C183.1,406.1 184.4,406 185.8,406C187.1,406 188.5,406 189.8,406C191.1,406 192.5,405.9 193.8,405.9C195.2,405.9 196.5,405.9 197.8,405.9C199.2,405.8 200.5,405.8 201.9,405.8C203.2,405.8 204.5,405.7 205.9,405.7C207.2,405.7 208.6,405.7 209.9,405.6C211.3,405.6 212.6,405.6 213.9,405.6C215.3,405.5 216.6,405.5 218,405.5C219.3,405.4 220.6,405.4 222,405.4C223.3,405.3 224.7,405.3 226,405.3C227.3,405.2 228.7,405.2 230,405.2C231.4,405.1 232.7,405.1 234,405.1C235.4,405 236.7,405 238.1,405C239.4,404.9 240.7,404.9 242.1,404.8C243.4,404.8 244.8,404.7 246.1,404.7C247.4,404.7 248.8,404.6 250.1,404.6C251.5,404.5 252.8,404.5 254.1,404.4C255.5,404.4 256.8,404.3 258.2,404.3C259.5,404.2 260.8,404.2 262.2,404.1C263.5,404 264.9,404 266.2,403.9C267.5,403.9 268.9,403.8 270.2,403.7C271.6,403.7 272.9,403.6 274.2,403.6C275.6,403.5 276.9,403.4 278.3,403.4C279.6,403.3 280.9,403.2 282.3,403.2C283.6,403.1 285,403 286.3,402.9C287.6,402.9 289,402.8 290.3,402.7C291.6,402.6 293,402.6 294.3,402.5C295.7,402.4 297,402.3 298.3,402.2C299.7,402.2 301,402.1 302.4,402C303.7,401.9 305,401.8 306.4,401.7C307.7,401.6 309,401.6 310.4,401.5C311.7,401.4 313.1,401.3 314.4,401.2C315.7,401.1 317.1,401 318.4,400.9C319.7,400.8 321.1,400.7 322.4,400.6C323.8,400.5 325.1,400.4 326.4,400.3C327.8,400.1 329.1,400 330.4,399.9C331.8,399.8 333.1,399.7 334.4,399.6C335.8,399.5 337.1,399.3 338.5,399.2C339.8,399.1 341.1,399 342.5,398.9C343.8,398.7 345.1,398.6 346.5,398.5C347.8,398.4 349.1,398.3 350.5,398.1C351.8,398 353.1,397.9 354.5,397.8C355.8,397.6 357.1,397.5 358.5,397.4C359.8,397.3 361.2,397.1 362.5,397C363.8,396.9 365.2,396.8 366.5,396.6C367.8,396.5 369.2,396.4 370.5,396.3C371.8,396.1 373.2,396 374.5,395.9C375.8,395.8 377.2,395.7 378.5,395.5C379.8,395.4 381.2,395.3 382.5,395.2C383.9,395.1 385.2,395 386.5,394.9C387.9,394.7 389.2,394.6 390.5,394.5C391.9,394.4 393.2,394.3 394.6,394.2C395.9,394.1 397.2,394 398.6,393.9C399.9,393.8 401.2,393.7 402.6,393.7C403.9,393.6 405.3,393.5 406.6,393.4C407.9,393.3 409.3,393.2 410.6,393.2C411.9,393.1 413.3,393 414.6,393C416,392.9 417.3,392.8 418.6,392.8C420,392.7 421.3,392.7 422.7,392.6C424,392.6 425.3,392.5 426.7,392.5C428,392.4 429.4,392.4 430.7,392.4C432,392.4 433.4,392.3 434.7,392.3C436.1,392.3 437.4,392.3 438.8,392.3C440.1,392.3 441.4,392.3 442.8,392.3C444.1,392.3 445.5,392.3 446.8,392.3C448.1,392.3 449.5,392.4 450.8,392.4C452.2,392.4 453.5,392.5 454.8,392.5C456.2,392.6 457.5,392.6 458.9,392.6C460.2,392.7 461.5,392.8 462.9,392.8C464.2,392.9 465.6,392.9 466.9,393C468.2,393.1 469.6,393.1 470.9,393.2C472.3,393.3 473.6,393.4 474.9,393.5C476.3,393.5 477.6,393.6 478.9,393.7C480.3,393.8 481.6,393.9 483,394C484.3,394.1 485.6,394.2 487,394.3C488.3,394.4 489.6,394.5 491,394.6C492.3,394.7 493.7,394.8 495,394.9C496.3,395 497.7,395.2 499,395.3C500.3,395.4 501.7,395.5 503,395.6C504.3,395.7 505.7,395.8 507,396C508.4,396.1 509.7,396.2 511,396.3C512.4,396.4 513.7,396.5 515,396.7C516.4,396.8 517.7,396.9 519,397C520.4,397.1 521.7,397.2 523,397.4C524.4,397.5 525.7,397.6 527.1,397.7C528.4,397.8 529.7,397.9 531.1,398.1C532.4,398.2 533.7,398.3 535.1,398.4C536.4,398.5 537.7,398.6 539.1,398.7C540.4,398.8 541.8,398.9 543.1,399C544.4,399.1 545.8,399.2 547.1,399.3C548.4,399.4 549.8,399.5 551.1,399.6C552.4,399.7 553.8,399.8 555.1,399.9C556.5,400 557.8,400.1 559.1,400.2C560.5,400.3 561.8,400.4 563.2,400.4C564.5,400.5 565.8,400.6 567.2,400.7C568.5,400.8 569.8,400.9 571.2,400.9C572.5,401 573.9,401.1 575.2,401.2C576.5,401.2 577.9,401.3 579.2,401.4C580.6,401.5 581.9,401.5 583.2,401.6C584.6,401.7 585.9,401.7 587.3,401.8C588.6,401.9 589.9,401.9 591.3,402C592.6,402 593.9,402.1 595.3,402.2C596.6,402.2 598,402.3 599.3,402.3C600.6,402.4 602,402.5 603.3,402.5C604.7,402.6 606,402.6 607.3,402.7C608.7,402.7 610,402.8 611.4,402.8C612.7,402.9 614,402.9 615.4,403C616.7,403 618.1,403.1 619.4,403.1C620.7,403.2 622.1,403.2 623.4,403.2C624.8,403.3 626.1,403.3 627.4,403.4C628.8,403.4 630.1,403.5 631.5,403.5C632.8,403.5 634.2,403.6 635.5,403.6C636.8,403.6 638.2,403.7 639.5,403.7C640.9,403.7 642.2,403.8 643.5,403.8C644.9,403.9 646.2,403.9 647.6,403.9C648.9,403.9 650.2,404 651.6,404C652.9,404 654.3,404.1 655.6,404.1C656.9,404.1 658.3,404.2 659.6,404.2C661,404.2 662.3,404.2 663.6,404.3C665,404.3 666.3,404.3 667.7,404.3C669,404.4 670.3,404.4 671.7,404.4C673,404.4 674.4,404.5 675.7,404.5C677.1,404.5 678.4,404.5 679.7,404.6C681.1,404.6 682.4,404.6 683.8,404.6C685.1,404.7 686.4,404.7 687.8,404.7C689.1,404.7 690.5,404.7 691.8,404.8C693.1,404.8 694.5,404.8 695.8,404.8C697.2,404.8 698.5,404.9 699.8,404.9C701.2,404.9 702.5,404.9 703.9,404.9C705.2,405 706.5,405 707.9,405C709.2,405 710.6,405 711.9,405.1C713.3,405.1 714.6,405.1 715.9,405.1C717.3,405.1 718.6,405.2 720,405.2C721.3,405.2 722.6,405.2 724,405.2C725.3,405.3 727.3,405.3 728,405.3" stroke="#168246" stroke-width="4.4"/><path d="M101.3,252C102,252 104,252.1 105.3,252.1C106.7,252.1 108,252.2 109.3,252.2C110.7,252.3 112,252.3 113.3,252.4C114.7,252.4 116,252.5 117.4,252.5C118.7,252.6 120,252.7 121.4,252.7C122.7,252.8 124,252.8 125.4,252.9C126.7,253 128.1,253 129.4,253.1C130.7,253.2 132.1,253.3 133.4,253.3C134.7,253.4 136.1,253.5 137.4,253.6C138.8,253.7 140.1,253.8 141.4,253.8C142.8,253.9 144.1,254 145.4,254.1C146.8,254.2 148.1,254.3 149.4,254.4C150.8,254.5 152.1,254.6 153.4,254.7C154.8,254.8 156.1,254.9 157.4,255.1C158.8,255.2 160.1,255.3 161.5,255.4C162.8,255.5 164.1,255.6 165.5,255.8C166.8,255.9 168.1,256 169.5,256.1C170.8,256.3 172.1,256.4 173.4,256.5C174.8,256.7 176.1,256.8 177.4,257C178.8,257.1 180.1,257.2 181.4,257.4C182.8,257.5 184.1,257.7 185.4,257.8C186.8,258 188.1,258.1 189.4,258.3C190.8,258.4 192.1,258.6 193.4,258.8C194.7,258.9 196.1,259.1 197.4,259.3C198.7,259.4 200.1,259.6 201.4,259.8C202.7,260 204,260.1 205.4,260.3C206.7,260.5 208,260.7 209.3,260.9C210.7,261.1 212,261.2 213.3,261.4C214.6,261.6 216,261.8 217.3,262C218.6,262.2 219.9,262.4 221.3,262.6C222.6,262.8 223.9,263 225.2,263.2C226.6,263.4 227.9,263.7 229.2,263.9C230.5,264.1 231.8,264.3 233.2,264.5C234.5,264.7 235.8,265 237.1,265.2C238.4,265.4 239.8,265.6 241.1,265.9C242.4,266.1 243.7,266.3 245,266.6C246.4,266.8 247.7,267 249,267.3C250.3,267.5 251.6,267.8 252.9,268C254.3,268.3 255.6,268.5 256.9,268.8C258.2,269 259.5,269.3 260.8,269.6C262.1,269.8 263.5,270.1 264.8,270.3C266.1,270.6 267.4,270.9 268.7,271.1C270,271.4 271.3,271.7 272.6,272C273.9,272.2 275.3,272.5 276.6,272.8C277.9,273.1 279.2,273.4 280.5,273.7C281.8,273.9 283.1,274.2 284.4,274.5C285.7,274.8 287,275.1 288.3,275.4C289.6,275.7 290.9,276 292.2,276.3C293.5,276.6 294.8,276.9 296.2,277.2C297.5,277.6 298.8,277.9 300.1,278.2C301.4,278.5 302.7,278.8 304,279.1C305.3,279.5 306.6,279.8 307.9,280.1C309.2,280.4 310.5,280.8 311.7,281.1C313,281.4 314.3,281.8 315.6,282.1C316.9,282.4 318.2,282.8 319.5,283.1C320.8,283.5 322.1,283.8 323.4,284.2C324.7,284.5 326,284.9 327.3,285.2C328.6,285.6 329.9,285.9 331.1,286.3C332.4,286.7 333.7,287 335,287.4C336.3,287.8 337.6,288.1 338.9,288.5C340.2,288.9 341.4,289.3 342.7,289.6C344,290 345.3,290.4 346.6,290.8C347.9,291.2 349.2,291.5 350.4,291.9C351.7,292.3 353,292.7 354.3,293.1C355.6,293.5 356.8,293.8 358.1,294.2C359.4,294.6 360.7,295 362,295.4C363.3,295.8 364.5,296.1 365.8,296.5C367.1,296.9 368.4,297.3 369.7,297.6C371,298 372.3,298.4 373.6,298.7C374.8,299.1 376.1,299.4 377.4,299.8C378.7,300.1 380,300.5 381.3,300.8C382.6,301.2 383.9,301.5 385.2,301.8C386.5,302.1 387.8,302.4 389.1,302.7C390.4,303.1 391.7,303.4 393,303.6C394.3,303.9 395.6,304.2 397,304.5C398.3,304.7 399.6,305 400.9,305.2C402.2,305.5 403.5,305.7 404.9,305.9C406.2,306.2 407.5,306.4 408.8,306.5C410.2,306.7 411.5,306.9 412.8,307.1C414.1,307.2 415.5,307.4 416.8,307.5C418.1,307.6 419.5,307.7 420.8,307.8C422.1,307.9 423.5,307.9 424.8,308C426.2,308 427.5,308 428.8,308C430.2,308 431.5,308 432.9,307.9C434.2,307.9 435.5,307.8 436.9,307.8C438.2,307.7 439.5,307.6 440.9,307.5C442.2,307.4 443.5,307.2 444.9,307.1C446.2,307 447.5,306.8 448.9,306.6C450.2,306.5 451.5,306.3 452.9,306.1C454.2,305.9 455.5,305.7 456.8,305.5C458.1,305.3 459.5,305 460.8,304.8C462.1,304.6 463.4,304.3 464.7,304.1C466,303.8 467.3,303.5 468.7,303.3C470,303 471.3,302.7 472.6,302.4C473.9,302.1 475.2,301.8 476.5,301.5C477.8,301.2 479.1,300.8 480.4,300.5C481.7,300.2 483,299.8 484.3,299.5C485.6,299.2 486.9,298.8 488.2,298.4C489.4,298.1 490.7,297.7 492,297.4C493.3,297 494.6,296.6 495.9,296.2C497.2,295.9 498.5,295.5 499.7,295.1C501,294.7 502.3,294.3 503.6,293.9C504.9,293.6 506.1,293.2 507.4,292.8C508.7,292.4 510,292 511.3,291.6C512.5,291.2 513.8,290.8 515.1,290.4C516.4,290 517.6,289.6 518.9,289.1C520.2,288.7 521.5,288.3 522.7,287.9C524,287.5 525.3,287.1 526.6,286.7C527.9,286.3 529.1,285.9 530.4,285.5C531.7,285.1 533,284.7 534.2,284.3C535.5,283.9 536.8,283.5 538.1,283.1C539.4,282.7 540.6,282.3 541.9,282C543.2,281.6 544.5,281.2 545.8,280.8C547.1,280.4 548.3,280.1 549.6,279.7C550.9,279.3 552.2,278.9 553.5,278.6C554.8,278.2 556.1,277.9 557.4,277.5C558.7,277.2 560,276.8 561.2,276.5C562.5,276.1 563.8,275.8 565.1,275.5C566.4,275.1 567.7,274.8 569,274.5C570.3,274.1 571.6,273.8 572.9,273.5C574.2,273.2 575.5,272.9 576.8,272.6C578.1,272.3 579.4,272 580.7,271.7C582,271.4 583.4,271.1 584.7,270.8C586,270.5 587.3,270.2 588.6,269.9C589.9,269.6 591.2,269.4 592.5,269.1C593.8,268.8 595.1,268.5 596.4,268.3C597.8,268 599.1,267.7 600.4,267.5C601.7,267.2 603,267 604.3,266.7C605.6,266.5 607,266.2 608.3,266C609.6,265.7 610.9,265.5 612.2,265.3C613.6,265 614.9,264.8 616.2,264.6C617.5,264.3 618.8,264.1 620.2,263.9C621.5,263.7 622.8,263.5 624.1,263.2C625.4,263 626.8,262.8 628.1,262.6C629.4,262.4 630.7,262.2 632.1,262C633.4,261.8 634.7,261.6 636,261.4C637.4,261.2 638.7,261 640,260.9C641.3,260.7 642.7,260.5 644,260.3C645.3,260.1 646.6,260 648,259.8C649.3,259.6 650.6,259.4 652,259.3C653.3,259.1 654.6,259 655.9,258.8C657.3,258.6 658.6,258.5 659.9,258.3C661.3,258.2 662.6,258 663.9,257.9C665.3,257.7 666.6,257.6 667.9,257.4C669.2,257.3 670.6,257.2 671.9,257C673.2,256.9 674.6,256.8 675.9,256.6C677.2,256.5 678.6,256.4 679.9,256.3C681.2,256.1 682.6,256 683.9,255.9C685.2,255.8 686.6,255.7 687.9,255.6C689.2,255.5 690.6,255.4 691.9,255.2C693.3,255.1 694.6,255 695.9,254.9C697.3,254.8 698.6,254.7 699.9,254.6C701.3,254.5 702.6,254.5 703.9,254.4C705.3,254.3 706.6,254.2 707.9,254.1C709.3,254 710.6,253.9 712,253.9C713.3,253.8 714.6,253.7 716,253.6C717.3,253.5 718.6,253.5 720,253.4C721.3,253.3 722.7,253.3 724,253.2C725.3,253.1 727.3,253 728,253" stroke="#b8509f" stroke-width="5.8"/></g><path d="M633.6,345.2H689" stroke="#168246" stroke-width="1.0" opacity="0.7"/><rect x="659.2" y="343.1" width="4.2" height="4.2" fill="#168246"/><path d="M633.6,382.9H689" stroke="#b8509f" stroke-width="1.0" opacity="0.7"/><circle cx="661.3" cy="382.9" r="2.2" fill="#b8509f"/><text x="695.7" y="354.2" font-size="25">S</text><text x="712.6" y="362.2" font-size="15.5">1</text><text x="695.7" y="391.9" font-size="25">S</text><text x="712.6" y="399.9" font-size="15.5">2</text>
<text transform="translate(856.9,396.8) scale(1.056,1)" font-size="40">(b')</text><text x="1321.4" y="279.5" font-size="33" font-style="italic">d</text><text x="1339.7" y="290.5" font-size="20">2</text><text x="1349.4" y="279.5" font-size="33" textLength="128" lengthAdjust="spacingAndGlyphs">=190 nm</text><rect x="854" y="241.6" width="626" height="167.1" fill="none" stroke="#000" stroke-width="2.5"/><path d="M845.7,386.4H854M845.7,341.9H854M845.7,297.3H854M845.7,252.7H854M849.3,408.7H854M849.3,364.1H854M849.3,319.6H854M849.3,275H854M854,408.7V416.9M932.2,408.7V413M1010.5,408.7V416.9M1088.8,408.7V413M1167,408.7V416.9M1245.2,408.7V413M1323.5,408.7V416.9M1401.8,408.7V413M1480,408.7V416.9" stroke="#000" stroke-width="2.2" fill="none"/><text x="841.7" y="394.5" font-size="23" font-weight="bold" text-anchor="end">-0.2</text><text x="841.7" y="350" font-size="23" font-weight="bold" text-anchor="end">0.0</text><text x="841.7" y="305.4" font-size="23" font-weight="bold" text-anchor="end">0.2</text><text x="841.7" y="260.8" font-size="23" font-weight="bold" text-anchor="end">0.4</text><text x="854" y="438.7" font-size="24" font-weight="bold" text-anchor="middle">236</text><text x="1010.5" y="438.7" font-size="24" font-weight="bold" text-anchor="middle">238</text><text x="1167" y="438.7" font-size="24" font-weight="bold" text-anchor="middle">240</text><text x="1323.5" y="438.7" font-size="24" font-weight="bold" text-anchor="middle">242</text><text x="1480" y="438.7" font-size="24" font-weight="bold" text-anchor="middle">244</text><text x="1167.8" y="473.4" font-size="32" text-anchor="middle" textLength="265.5" lengthAdjust="spacingAndGlyphs">Frequency (THz)</text><text transform="translate(786,334.8) rotate(-90)" font-size="31.7" text-anchor="middle">Imag</text><g clip-path="url(#c1R)" fill="none" stroke-linejoin="round"><path d="M854,321.9C854.7,321.9 856.7,322 858,322.1C859.4,322.2 860.7,322.3 862,322.3C863.4,322.4 864.7,322.5 866.1,322.5C867.4,322.6 868.7,322.7 870.1,322.7C871.4,322.8 872.7,322.8 874.1,322.9C875.4,323 876.8,323 878.1,323.1C879.4,323.1 880.8,323.2 882.1,323.3C883.5,323.3 884.8,323.4 886.1,323.4C887.5,323.5 888.8,323.5 890.2,323.6C891.5,323.6 892.8,323.7 894.2,323.7C895.5,323.8 896.9,323.8 898.2,323.9C899.5,323.9 900.9,324 902.2,324C903.6,324.1 904.9,324.1 906.2,324.2C907.6,324.2 908.9,324.3 910.3,324.3C911.6,324.4 912.9,324.4 914.3,324.5C915.6,324.5 917,324.6 918.3,324.6C919.6,324.7 921,324.7 922.3,324.8C923.7,324.8 925,324.9 926.3,324.9C927.7,324.9 929,325 930.4,325C931.7,325.1 933,325.1 934.4,325.2C935.7,325.2 937.1,325.3 938.4,325.3C939.7,325.4 941.1,325.4 942.4,325.5C943.8,325.5 945.1,325.6 946.4,325.6C947.8,325.7 949.1,325.7 950.5,325.8C951.8,325.8 953.1,325.9 954.5,325.9C955.8,326 957.2,326 958.5,326.1C959.8,326.1 961.2,326.2 962.5,326.3C963.9,326.3 965.2,326.4 966.5,326.4C967.9,326.5 969.2,326.6 970.6,326.6C971.9,326.7 973.2,326.7 974.6,326.8C975.9,326.9 977.3,326.9 978.6,327C979.9,327.1 981.3,327.1 982.6,327.2C984,327.3 985.3,327.3 986.6,327.4C988,327.5 989.3,327.6 990.7,327.6C992,327.7 993.3,327.8 994.7,327.9C996,327.9 997.3,328 998.7,328.1C1000,328.2 1001.4,328.3 1002.7,328.4C1004,328.4 1005.4,328.5 1006.7,328.6C1008,328.7 1009.4,328.8 1010.7,328.9C1012.1,329 1013.4,329.1 1014.7,329.2C1016.1,329.3 1017.4,329.4 1018.7,329.5C1020.1,329.6 1021.4,329.7 1022.8,329.8C1024.1,329.9 1025.4,330 1026.8,330.1C1028.1,330.2 1029.4,330.3 1030.8,330.4C1032.1,330.6 1033.5,330.7 1034.8,330.8C1036.1,330.9 1037.5,331 1038.8,331.1C1040.1,331.2 1041.5,331.3 1042.8,331.4C1044.1,331.6 1045.5,331.7 1046.8,331.8C1048.2,331.9 1049.5,332 1050.8,332.1C1052.2,332.2 1053.5,332.3 1054.8,332.4C1056.2,332.4 1057.5,332.5 1058.9,332.6C1060.2,332.7 1061.5,332.8 1062.9,332.9C1064.2,332.9 1065.5,333 1066.9,333.1C1068.2,333.1 1069.6,333.2 1070.9,333.3C1072.2,333.3 1073.6,333.3 1074.9,333.4C1076.3,333.4 1077.6,333.5 1078.9,333.5C1080.3,333.5 1081.6,333.5 1083,333.5C1084.3,333.5 1085.7,333.5 1087,333.5C1088.3,333.5 1089.7,333.5 1091,333.5C1092.4,333.4 1093.7,333.4 1095,333.3C1096.4,333.3 1097.7,333.2 1099.1,333.2C1100.4,333.1 1101.7,333 1103.1,332.9C1104.4,332.8 1105.7,332.7 1107.1,332.6C1108.4,332.5 1109.7,332.3 1111.1,332.2C1112.4,332.1 1113.7,331.9 1115.1,331.7C1116.4,331.6 1117.7,331.4 1119.1,331.2C1120.4,331 1121.7,330.8 1123,330.6C1124.4,330.4 1125.7,330.2 1127,330C1128.3,329.8 1129.7,329.5 1131,329.3C1132.3,329.1 1133.6,328.8 1134.9,328.5C1136.2,328.3 1137.6,328 1138.9,327.7C1140.2,327.5 1141.5,327.2 1142.8,326.9C1144.1,326.6 1145.4,326.3 1146.7,326C1148,325.6 1149.3,325.3 1150.6,325C1151.9,324.7 1153.2,324.3 1154.5,324C1155.8,323.6 1157.1,323.3 1158.4,322.9C1159.7,322.6 1161,322.2 1162.3,321.8C1163.6,321.5 1164.8,321.1 1166.1,320.7C1167.4,320.3 1168.7,319.9 1170,319.5C1171.3,319.1 1172.5,318.7 1173.8,318.3C1175.1,317.9 1176.4,317.5 1177.6,317C1178.9,316.6 1180.2,316.2 1181.4,315.7C1182.7,315.3 1184,314.9 1185.2,314.4C1186.5,314 1187.8,313.5 1189,313.1C1190.3,312.6 1191.6,312.2 1192.8,311.7C1194.1,311.3 1195.3,310.8 1196.6,310.4C1197.9,309.9 1199.1,309.5 1200.4,309C1201.7,308.6 1202.9,308.1 1204.2,307.7C1205.4,307.2 1206.7,306.8 1208,306.4C1209.3,305.9 1210.5,305.5 1211.8,305.1C1213.1,304.7 1214.3,304.2 1215.6,303.8C1216.9,303.4 1218.2,303 1219.5,302.7C1220.8,302.3 1222,301.9 1223.3,301.5C1224.6,301.2 1225.9,300.8 1227.2,300.5C1228.5,300.2 1229.8,299.8 1231.1,299.5C1232.4,299.2 1233.7,298.9 1235.1,298.7C1236.4,298.4 1237.7,298.1 1239,297.9C1240.3,297.6 1241.6,297.4 1243,297.2C1244.3,296.9 1245.6,296.7 1246.9,296.5C1248.3,296.3 1249.6,296.1 1250.9,296C1252.2,295.8 1253.6,295.6 1254.9,295.5C1256.2,295.3 1257.6,295.2 1258.9,295C1260.2,294.9 1261.6,294.8 1262.9,294.6C1264.2,294.5 1265.6,294.4 1266.9,294.3C1268.3,294.2 1269.6,294.1 1270.9,294C1272.3,294 1273.6,293.9 1274.9,293.8C1276.3,293.7 1277.6,293.7 1279,293.6C1280.3,293.5 1281.6,293.5 1283,293.4C1284.3,293.4 1285.7,293.3 1287,293.3C1288.3,293.2 1289.7,293.2 1291,293.2C1292.4,293.1 1293.7,293.1 1295,293.1C1296.4,293 1297.7,293 1299.1,293C1300.4,293 1301.7,292.9 1303.1,292.9C1304.4,292.9 1305.8,292.9 1307.1,292.9C1308.5,292.9 1309.8,292.8 1311.1,292.8C1312.5,292.8 1313.8,292.8 1315.2,292.8C1316.5,292.8 1317.8,292.8 1319.2,292.8C1320.5,292.8 1321.9,292.8 1323.2,292.8C1324.5,292.9 1325.9,292.9 1327.2,292.9C1328.6,292.9 1329.9,292.9 1331.2,292.9C1332.6,292.9 1333.9,293 1335.3,293C1336.6,293 1338,293 1339.3,293.1C1340.6,293.1 1342,293.1 1343.3,293.1C1344.7,293.2 1346,293.2 1347.3,293.2C1348.7,293.3 1350,293.3 1351.4,293.3C1352.7,293.4 1354,293.4 1355.4,293.4C1356.7,293.5 1358.1,293.5 1359.4,293.6C1360.7,293.6 1362.1,293.6 1363.4,293.7C1364.8,293.7 1366.1,293.8 1367.4,293.8C1368.8,293.9 1370.1,293.9 1371.5,294C1372.8,294 1374.1,294.1 1375.5,294.1C1376.8,294.2 1378.2,294.2 1379.5,294.3C1380.8,294.3 1382.2,294.4 1383.5,294.4C1384.9,294.5 1386.2,294.5 1387.5,294.6C1388.9,294.7 1390.2,294.7 1391.6,294.8C1392.9,294.8 1394.2,294.9 1395.6,294.9C1396.9,295 1398.3,295.1 1399.6,295.1C1400.9,295.2 1402.3,295.2 1403.6,295.3C1405,295.3 1406.3,295.4 1407.6,295.5C1409,295.5 1410.3,295.6 1411.7,295.6C1413,295.7 1414.3,295.7 1415.7,295.8C1417,295.9 1418.4,295.9 1419.7,296C1421,296 1422.4,296.1 1423.7,296.1C1425.1,296.2 1426.4,296.2 1427.7,296.3C1429.1,296.4 1430.4,296.4 1431.7,296.5C1433.1,296.5 1434.4,296.6 1435.8,296.6C1437.1,296.7 1438.4,296.7 1439.8,296.8C1441.1,296.8 1442.5,296.9 1443.8,296.9C1445.1,297 1446.5,297 1447.8,297.1C1449.2,297.1 1450.5,297.2 1451.8,297.2C1453.2,297.2 1454.5,297.3 1455.9,297.3C1457.2,297.4 1458.6,297.4 1459.9,297.5C1461.2,297.5 1462.6,297.5 1463.9,297.6C1465.3,297.6 1466.6,297.6 1467.9,297.7C1469.3,297.7 1470.6,297.7 1472,297.8C1473.3,297.8 1474.6,297.8 1476,297.8C1477.3,297.9 1479.3,297.9 1480,297.9" stroke="#168246" stroke-width="4.4"/><path d="M854,312.2C854.6,312 856.6,311.5 857.9,311.1C859.2,310.8 860.5,310.4 861.8,310.1C863,309.7 864.3,309.3 865.6,308.9C866.9,308.6 868.2,308.2 869.5,307.8C870.7,307.4 872,307 873.3,306.6C874.6,306.2 875.9,305.8 877.1,305.4C878.4,305 879.7,304.6 881,304.2C882.3,303.8 883.5,303.4 884.8,302.9C886.1,302.5 887.3,302.1 888.6,301.7C889.9,301.3 891.2,300.8 892.4,300.4C893.7,300 895,299.5 896.2,299.1C897.5,298.7 898.8,298.2 900,297.8C901.3,297.4 902.6,296.9 903.8,296.5C905.1,296.1 906.4,295.6 907.6,295.2C908.9,294.7 910.2,294.3 911.4,293.8C912.7,293.4 914,293 915.2,292.5C916.5,292.1 917.8,291.6 919,291.2C920.3,290.7 921.5,290.3 922.8,289.8C924.1,289.4 925.3,289 926.6,288.5C927.9,288.1 929.1,287.6 930.4,287.2C931.7,286.7 932.9,286.3 934.2,285.9C935.5,285.4 936.7,285 938,284.6C939.3,284.1 940.5,283.7 941.8,283.3C943.1,282.8 944.3,282.4 945.6,282C946.9,281.5 948.2,281.1 949.4,280.7C950.7,280.3 952,279.8 953.2,279.4C954.5,279 955.8,278.6 957.1,278.2C958.3,277.8 959.6,277.4 960.9,277C962.2,276.6 963.5,276.2 964.7,275.8C966,275.4 967.3,275 968.6,274.6C969.9,274.2 971.1,273.8 972.4,273.4C973.7,273.1 975,272.7 976.3,272.3C977.6,272 978.9,271.6 980.2,271.2C981.5,270.9 982.7,270.5 984,270.2C985.3,269.8 986.6,269.5 987.9,269.2C989.2,268.8 990.5,268.5 991.8,268.2C993.1,267.9 994.4,267.6 995.7,267.2C997,266.9 998.4,266.6 999.7,266.3C1001,266.1 1002.3,265.8 1003.6,265.5C1004.9,265.2 1006.2,264.9 1007.5,264.7C1008.8,264.4 1010.2,264.2 1011.5,263.9C1012.8,263.7 1014.1,263.5 1015.4,263.2C1016.8,263 1018.1,262.8 1019.4,262.6C1020.7,262.4 1022.1,262.2 1023.4,262C1024.7,261.8 1026,261.6 1027.4,261.5C1028.7,261.3 1030,261.1 1031.4,261C1032.7,260.8 1034,260.7 1035.4,260.6C1036.7,260.5 1038,260.3 1039.4,260.2C1040.7,260.1 1042,260 1043.4,260C1044.7,259.9 1046.1,259.8 1047.4,259.8C1048.7,259.7 1050.1,259.7 1051.4,259.6C1052.7,259.6 1054.1,259.6 1055.4,259.6C1056.8,259.6 1058.1,259.6 1059.5,259.6C1060.8,259.6 1062.1,259.7 1063.5,259.7C1064.8,259.8 1066.1,259.8 1067.5,259.9C1068.8,260 1070.2,260.1 1071.5,260.2C1072.8,260.3 1074.2,260.4 1075.5,260.5C1076.8,260.6 1078.2,260.8 1079.5,261C1080.8,261.1 1082.2,261.3 1083.5,261.5C1084.8,261.7 1086.1,261.9 1087.5,262.1C1088.8,262.4 1090.1,262.6 1091.4,262.9C1092.7,263.1 1094,263.4 1095.3,263.7C1096.6,264 1097.9,264.3 1099.2,264.7C1100.5,265 1101.8,265.3 1103.1,265.7C1104.4,266.1 1105.7,266.5 1107,266.9C1108.2,267.3 1109.5,267.7 1110.8,268.2C1112,268.6 1113.3,269.1 1114.5,269.6C1115.8,270.1 1117,270.6 1118.2,271.1C1119.5,271.7 1120.7,272.2 1121.9,272.8C1123.1,273.4 1124.3,274 1125.5,274.6C1126.7,275.2 1127.9,275.9 1129,276.5C1130.2,277.2 1131.3,277.9 1132.5,278.6C1133.6,279.3 1134.7,280 1135.9,280.8C1137,281.5 1138.1,282.3 1139.2,283.1C1140.2,283.9 1141.3,284.7 1142.4,285.5C1143.5,286.3 1144.5,287.1 1145.6,287.9C1146.6,288.8 1147.7,289.6 1148.7,290.5C1149.7,291.3 1150.7,292.2 1151.7,293.1C1152.8,294 1153.8,294.8 1154.8,295.7C1155.8,296.6 1156.8,297.5 1157.7,298.4C1158.7,299.3 1159.7,300.3 1160.7,301.2C1161.7,302.1 1162.6,303 1163.6,303.9C1164.6,304.9 1165.5,305.8 1166.5,306.7C1167.5,307.7 1168.4,308.6 1169.4,309.5C1170.3,310.5 1171.3,311.4 1172.3,312.3C1173.2,313.3 1174.2,314.2 1175.1,315.2C1176.1,316.1 1177,317.1 1178,318C1178.9,318.9 1179.9,319.9 1180.8,320.8C1181.8,321.8 1182.7,322.7 1183.7,323.7C1184.6,324.6 1185.6,325.6 1186.5,326.5C1187.5,327.5 1188.4,328.4 1189.4,329.3C1190.3,330.3 1191.3,331.2 1192.2,332.2C1193.2,333.1 1194.2,334 1195.1,335C1196.1,335.9 1197.1,336.8 1198,337.7C1199,338.7 1200,339.6 1200.9,340.5C1201.9,341.4 1202.9,342.4 1203.9,343.3C1204.8,344.2 1205.8,345.1 1206.8,346C1207.8,346.9 1208.8,347.8 1209.8,348.7C1210.8,349.6 1211.8,350.5 1212.8,351.3C1213.9,352.2 1214.9,353.1 1215.9,353.9C1216.9,354.8 1218,355.7 1219,356.5C1220,357.3 1221.1,358.2 1222.1,359C1223.2,359.8 1224.3,360.6 1225.3,361.4C1226.4,362.3 1227.5,363 1228.6,363.8C1229.7,364.6 1230.8,365.4 1231.9,366.1C1233,366.9 1234.1,367.6 1235.2,368.4C1236.3,369.1 1237.5,369.8 1238.6,370.5C1239.8,371.2 1240.9,371.9 1242.1,372.6C1243.2,373.2 1244.4,373.9 1245.6,374.5C1246.8,375.2 1247.9,375.8 1249.1,376.4C1250.3,377 1251.5,377.6 1252.8,378.1C1254,378.7 1255.2,379.2 1256.4,379.8C1257.7,380.3 1258.9,380.8 1260.2,381.3C1261.4,381.7 1262.7,382.2 1264,382.6C1265.2,383 1266.5,383.4 1267.8,383.8C1269.1,384.2 1270.4,384.5 1271.7,384.8C1273,385.2 1274.3,385.4 1275.6,385.7C1276.9,386 1278.2,386.2 1279.6,386.4C1280.9,386.6 1282.2,386.8 1283.6,386.9C1284.9,387.1 1286.2,387.2 1287.6,387.3C1288.9,387.4 1290.2,387.5 1291.6,387.6C1292.9,387.6 1294.2,387.7 1295.6,387.7C1296.9,387.7 1298.3,387.7 1299.6,387.7C1300.9,387.6 1302.3,387.6 1303.6,387.5C1305,387.5 1306.3,387.4 1307.6,387.3C1309,387.2 1310.3,387 1311.6,386.9C1313,386.8 1314.3,386.6 1315.6,386.4C1317,386.3 1318.3,386.1 1319.6,385.9C1320.9,385.7 1322.3,385.5 1323.6,385.2C1324.9,385 1326.2,384.8 1327.5,384.5C1328.9,384.3 1330.2,384 1331.5,383.7C1332.8,383.4 1334.1,383.2 1335.4,382.9C1336.7,382.6 1338,382.3 1339.3,381.9C1340.6,381.6 1341.9,381.3 1343.2,381C1344.5,380.6 1345.8,380.3 1347.1,379.9C1348.4,379.6 1349.7,379.2 1351,378.9C1352.3,378.5 1353.6,378.1 1354.8,377.8C1356.1,377.4 1357.4,377 1358.7,376.6C1360,376.2 1361.3,375.8 1362.5,375.4C1363.8,375 1365.1,374.6 1366.4,374.2C1367.6,373.7 1368.9,373.3 1370.2,372.9C1371.4,372.5 1372.7,372 1374,371.6C1375.2,371.2 1376.5,370.7 1377.8,370.3C1379,369.8 1380.3,369.4 1381.6,368.9C1382.8,368.5 1384.1,368 1385.3,367.5C1386.6,367.1 1387.9,366.6 1389.1,366.1C1390.4,365.7 1391.6,365.2 1392.9,364.7C1394.1,364.2 1395.4,363.8 1396.6,363.3C1397.9,362.8 1399.1,362.3 1400.4,361.9C1401.6,361.4 1402.9,360.9 1404.1,360.4C1405.4,359.9 1406.6,359.4 1407.9,359C1409.1,358.5 1410.4,358 1411.6,357.5C1412.9,357 1414.1,356.5 1415.4,356C1416.6,355.6 1417.9,355.1 1419.1,354.6C1420.4,354.1 1421.6,353.6 1422.9,353.1C1424.1,352.7 1425.4,352.2 1426.6,351.7C1427.9,351.2 1429.1,350.7 1430.4,350.3C1431.6,349.8 1432.9,349.3 1434.2,348.9C1435.4,348.4 1436.7,347.9 1437.9,347.5C1439.2,347 1440.4,346.5 1441.7,346.1C1443,345.6 1444.2,345.2 1445.5,344.7C1446.7,344.3 1448,343.8 1449.3,343.4C1450.5,342.9 1451.8,342.5 1453.1,342.1C1454.3,341.6 1455.6,341.2 1456.9,340.8C1458.2,340.4 1459.4,339.9 1460.7,339.5C1462,339.1 1463.3,338.7 1464.5,338.3C1465.8,337.9 1467.1,337.5 1468.4,337.2C1469.7,336.8 1471,336.4 1472.2,336C1473.5,335.7 1474.8,335.3 1476.1,334.9C1477.4,334.6 1479.4,334.1 1480,333.9" stroke="#b8509f" stroke-width="5.8"/></g><path d="M1315.2,314.2H1370.6" stroke="#168246" stroke-width="1.0" opacity="0.7"/><rect x="1340.8" y="312.1" width="4.2" height="4.2" fill="#168246"/><path d="M1315.2,352H1370.6" stroke="#b8509f" stroke-width="1.0" opacity="0.7"/><circle cx="1342.9" cy="352" r="2.2" fill="#b8509f"/><text x="1376.6" y="323.2" font-size="25">S</text><text x="1393.5" y="331.2" font-size="15.5">1</text><text x="1376.6" y="361" font-size="25">S</text><text x="1393.5" y="369" font-size="15.5">2</text>
<text transform="translate(102.9,649.4) scale(1.051,1)" font-size="40">(c)</text><text x="570.7" y="577.5" font-size="33" font-style="italic">d</text><text x="589" y="588.5" font-size="20">2</text><text x="598.7" y="577.5" font-size="33" textLength="128" lengthAdjust="spacingAndGlyphs">=200 nm</text><rect x="101.3" y="492.6" width="626.6" height="166.9" fill="none" stroke="#000" stroke-width="2.5"/><path d="M93,641H101.3M93,603.9H101.3M93,566.8H101.3M93,529.7H101.3M93,492.6H101.3M96.6,659.5H101.3M96.6,622.4H101.3M96.6,585.3H101.3M96.6,548.2H101.3M96.6,511.1H101.3M101.3,659.5V667.7M179.6,659.5V663.8M257.9,659.5V667.7M336.3,659.5V663.8M414.6,659.5V667.7M492.9,659.5V663.8M571.2,659.5V667.7M649.6,659.5V663.8M727.9,659.5V667.7" stroke="#000" stroke-width="2.2" fill="none"/><text x="89" y="649.1" font-size="23" font-weight="bold" text-anchor="end">-0.8</text><text x="89" y="612" font-size="23" font-weight="bold" text-anchor="end">-0.4</text><text x="89" y="574.9" font-size="23" font-weight="bold" text-anchor="end">0.0</text><text x="89" y="537.8" font-size="23" font-weight="bold" text-anchor="end">0.4</text><text x="89" y="500.7" font-size="23" font-weight="bold" text-anchor="end">0.8</text><text x="101.3" y="689.5" font-size="24" font-weight="bold" text-anchor="middle">234</text><text x="257.9" y="689.5" font-size="24" font-weight="bold" text-anchor="middle">236</text><text x="414.6" y="689.5" font-size="24" font-weight="bold" text-anchor="middle">238</text><text x="571.2" y="689.5" font-size="24" font-weight="bold" text-anchor="middle">240</text><text x="727.9" y="689.5" font-size="24" font-weight="bold" text-anchor="middle">242</text><text x="415.4" y="726.1" font-size="32" text-anchor="middle" textLength="265.5" lengthAdjust="spacingAndGlyphs">Frequency (THz)</text><text transform="translate(22.8,576.9) rotate(-90)" font-size="31.7" text-anchor="middle">Real</text><g clip-path="url(#c2L)" fill="none" stroke-linejoin="round"><path d="M101.3,658.7L728,658.7" stroke="#168246" stroke-width="4.4"/><path d="M101.3,498.4C102,498.5 104,498.6 105.3,498.7C106.6,498.8 108,498.9 109.3,499.1C110.7,499.2 112,499.3 113.3,499.4C114.7,499.5 116,499.6 117.3,499.7C118.7,499.8 120,500 121.3,500.1C122.7,500.2 124,500.3 125.3,500.4C126.7,500.6 128,500.7 129.4,500.8C130.7,500.9 132,501 133.4,501.2C134.7,501.3 136,501.4 137.4,501.5C138.7,501.7 140,501.8 141.4,501.9C142.7,502.1 144,502.2 145.4,502.3C146.7,502.5 148,502.6 149.4,502.7C150.7,502.9 152,503 153.4,503.2C154.7,503.3 156,503.4 157.4,503.6C158.7,503.7 160,503.9 161.4,504C162.7,504.2 164,504.3 165.4,504.5C166.7,504.6 168,504.8 169.4,504.9C170.7,505.1 172,505.2 173.4,505.4C174.7,505.6 176,505.7 177.4,505.9C178.7,506 180,506.2 181.3,506.4C182.7,506.5 184,506.7 185.3,506.9C186.7,507.1 188,507.2 189.3,507.4C190.7,507.6 192,507.8 193.3,507.9C194.6,508.1 196,508.3 197.3,508.5C198.6,508.7 200,508.9 201.3,509C202.6,509.2 203.9,509.4 205.3,509.6C206.6,509.8 207.9,510 209.2,510.2C210.6,510.4 211.9,510.6 213.2,510.8C214.5,511 215.9,511.2 217.2,511.4C218.5,511.6 219.8,511.9 221.2,512.1C222.5,512.3 223.8,512.5 225.1,512.7C226.5,512.9 227.8,513.2 229.1,513.4C230.4,513.6 231.7,513.9 233.1,514.1C234.4,514.3 235.7,514.6 237,514.8C238.3,515 239.7,515.3 241,515.5C242.3,515.8 243.6,516 244.9,516.3C246.2,516.5 247.6,516.8 248.9,517C250.2,517.3 251.5,517.5 252.8,517.8C254.1,518 255.5,518.3 256.8,518.6C258.1,518.8 259.4,519.1 260.7,519.4C262,519.7 263.3,519.9 264.6,520.2C266,520.5 267.3,520.8 268.6,521.1C269.9,521.4 271.2,521.7 272.5,522C273.8,522.3 275.1,522.6 276.4,522.9C277.7,523.2 279,523.5 280.3,523.8C281.6,524.1 282.9,524.4 284.3,524.7C285.6,525 286.9,525.3 288.2,525.6C289.5,525.9 290.8,526.3 292.1,526.6C293.4,526.9 294.7,527.2 296,527.5C297.3,527.8 298.6,528.2 299.9,528.5C301.2,528.8 302.5,529.1 303.8,529.4C305.1,529.8 306.4,530.1 307.7,530.4C309,530.7 310.3,531 311.6,531.3C312.9,531.7 314.2,532 315.5,532.3C316.8,532.6 318.1,532.9 319.4,533.2C320.7,533.5 322,533.9 323.3,534.2C324.7,534.5 326,534.8 327.3,535.1C328.6,535.4 329.9,535.7 331.2,536C332.5,536.3 333.8,536.6 335.1,536.9C336.4,537.2 337.7,537.5 339,537.7C340.3,538 341.7,538.3 343,538.6C344.3,538.9 345.6,539.1 346.9,539.4C348.2,539.7 349.5,539.9 350.8,540.2C352.2,540.4 353.5,540.7 354.8,540.9C356.1,541.2 357.4,541.4 358.8,541.7C360.1,541.9 361.4,542.1 362.7,542.4C364,542.6 365.4,542.8 366.7,543C368,543.2 369.3,543.4 370.7,543.6C372,543.8 373.3,544 374.6,544.2C376,544.4 377.3,544.6 378.6,544.7C380,544.9 381.3,545.1 382.6,545.2C384,545.4 385.3,545.5 386.6,545.6C388,545.8 389.3,545.9 390.6,546C392,546.1 393.3,546.2 394.6,546.3C396,546.4 397.3,546.5 398.7,546.6C400,546.7 401.3,546.8 402.7,546.8C404,546.9 405.3,547 406.7,547C408,547.1 409.4,547.1 410.7,547.1C412,547.2 413.4,547.2 414.7,547.2C416.1,547.2 417.4,547.2 418.8,547.2C420.1,547.2 421.4,547.1 422.8,547.1C424.1,547.1 425.5,547 426.8,547C428.1,546.9 429.5,546.9 430.8,546.8C432.2,546.7 433.5,546.7 434.8,546.6C436.2,546.5 437.5,546.4 438.8,546.3C440.2,546.2 441.5,546 442.8,545.9C444.2,545.8 445.5,545.6 446.8,545.5C448.2,545.3 449.5,545.2 450.8,545C452.2,544.9 453.5,544.7 454.8,544.5C456.2,544.3 457.5,544.1 458.8,544C460.1,543.8 461.5,543.6 462.8,543.4C464.1,543.1 465.4,542.9 466.8,542.7C468.1,542.5 469.4,542.3 470.7,542C472,541.8 473.4,541.6 474.7,541.3C476,541.1 477.3,540.8 478.6,540.6C479.9,540.3 481.3,540 482.6,539.8C483.9,539.5 485.2,539.2 486.5,539C487.8,538.7 489.1,538.4 490.5,538.1C491.8,537.8 493.1,537.6 494.4,537.3C495.7,537 497,536.7 498.3,536.4C499.6,536.1 500.9,535.8 502.2,535.5C503.5,535.2 504.8,534.9 506.1,534.6C507.5,534.3 508.8,534 510.1,533.7C511.4,533.3 512.7,533 514,532.7C515.3,532.4 516.6,532.1 517.9,531.8C519.2,531.5 520.5,531.1 521.8,530.8C523.1,530.5 524.4,530.2 525.7,529.9C527,529.5 528.3,529.2 529.6,528.9C530.9,528.6 532.2,528.3 533.5,528C534.8,527.6 536.1,527.3 537.4,527C538.7,526.7 540,526.4 541.3,526.1C542.6,525.7 543.9,525.4 545.2,525.1C546.5,524.8 547.9,524.5 549.2,524.2C550.5,523.9 551.8,523.6 553.1,523.3C554.4,523 555.7,522.7 557,522.4C558.3,522.1 559.6,521.8 560.9,521.5C562.2,521.2 563.5,520.9 564.8,520.6C566.2,520.3 567.5,520.1 568.8,519.8C570.1,519.5 571.4,519.2 572.7,518.9C574,518.6 575.3,518.4 576.6,518.1C578,517.8 579.3,517.6 580.6,517.3C581.9,517 583.2,516.7 584.5,516.5C585.8,516.2 587.2,516 588.5,515.7C589.8,515.4 591.1,515.2 592.4,514.9C593.7,514.7 595.1,514.4 596.4,514.2C597.7,513.9 599,513.7 600.3,513.4C601.6,513.2 603,512.9 604.3,512.7C605.6,512.5 606.9,512.2 608.2,512C609.6,511.8 610.9,511.5 612.2,511.3C613.5,511.1 614.8,510.8 616.2,510.6C617.5,510.4 618.8,510.2 620.1,509.9C621.5,509.7 622.8,509.5 624.1,509.3C625.4,509.1 626.7,508.9 628.1,508.6C629.4,508.4 630.7,508.2 632,508C633.4,507.8 634.7,507.6 636,507.4C637.3,507.2 638.7,507 640,506.8C641.3,506.6 642.7,506.4 644,506.3C645.3,506.1 646.6,505.9 648,505.7C649.3,505.5 650.6,505.3 651.9,505.1C653.3,505 654.6,504.8 655.9,504.6C657.3,504.4 658.6,504.3 659.9,504.1C661.3,503.9 662.6,503.8 663.9,503.6C665.2,503.4 666.6,503.3 667.9,503.1C669.2,503 670.6,502.8 671.9,502.7C673.2,502.5 674.6,502.4 675.9,502.2C677.2,502.1 678.6,501.9 679.9,501.8C681.2,501.6 682.6,501.5 683.9,501.3C685.2,501.2 686.6,501.1 687.9,500.9C689.2,500.8 690.6,500.7 691.9,500.6C693.2,500.4 694.6,500.3 695.9,500.2C697.2,500.1 698.6,499.9 699.9,499.8C701.3,499.7 702.6,499.6 703.9,499.5C705.3,499.4 706.6,499.3 707.9,499.2C709.3,499.1 710.6,499 711.9,498.9C713.3,498.8 714.6,498.7 716,498.6C717.3,498.5 718.6,498.4 720,498.3C721.3,498.2 722.6,498.1 724,498C725.3,498 727.3,497.8 728,497.8" stroke="#b8509f" stroke-width="5.8"/></g><path d="M634,599.7H691" stroke="#168246" stroke-width="1.7" opacity="1"/><rect x="660.4" y="597.6" width="4.2" height="4.2" fill="#168246"/><path d="M634,637.3H691" stroke="#b8509f" stroke-width="1.7" opacity="1"/><circle cx="662.5" cy="637.3" r="2.2" fill="#b8509f"/><text x="697.4" y="608.7" font-size="25">S</text><text x="714.3" y="616.7" font-size="15.5">1</text><text x="697.4" y="646.3" font-size="25">S</text><text x="714.3" y="654.3" font-size="15.5">2</text>
<text transform="translate(859.6,646.8) scale(1.060,1)" font-size="40">(c')</text><text x="1321.4" y="528.8" font-size="33" font-style="italic">d</text><text x="1339.7" y="539.8" font-size="20">2</text><text x="1349.4" y="528.8" font-size="33" textLength="128" lengthAdjust="spacingAndGlyphs">=200 nm</text><rect x="854" y="492.6" width="626" height="166.9" fill="none" stroke="#000" stroke-width="2.5"/><path d="M845.7,617.8H854M845.7,562.1H854M845.7,506.5H854M849.3,645.6H854M849.3,590H854M849.3,534.3H854M854,659.5V667.7M932.2,659.5V663.8M1010.5,659.5V667.7M1088.8,659.5V663.8M1167,659.5V667.7M1245.2,659.5V663.8M1323.5,659.5V667.7M1401.8,659.5V663.8M1480,659.5V667.7" stroke="#000" stroke-width="2.2" fill="none"/><text x="841.7" y="625.9" font-size="23" font-weight="bold" text-anchor="end">-0.2</text><text x="841.7" y="570.2" font-size="23" font-weight="bold" text-anchor="end">0.0</text><text x="841.7" y="514.6" font-size="23" font-weight="bold" text-anchor="end">0.2</text><text x="854" y="689.5" font-size="24" font-weight="bold" text-anchor="middle">234</text><text x="1010.5" y="689.5" font-size="24" font-weight="bold" text-anchor="middle">236</text><text x="1167" y="689.5" font-size="24" font-weight="bold" text-anchor="middle">238</text><text x="1323.5" y="689.5" font-size="24" font-weight="bold" text-anchor="middle">240</text><text x="1480" y="689.5" font-size="24" font-weight="bold" text-anchor="middle">242</text><text x="1167.8" y="726.1" font-size="32" text-anchor="middle" textLength="265.5" lengthAdjust="spacingAndGlyphs">Frequency (THz)</text><text transform="translate(786,592.5) rotate(-90)" font-size="31.7" text-anchor="middle">Imag</text><g clip-path="url(#c2R)" fill="none" stroke-linejoin="round"><path d="M854,563L1480,563" stroke="#168246" stroke-width="4.4"/><path d="M854,571.4C854.6,571.1 856.4,570.2 857.6,569.6C858.8,569 860,568.5 861.2,567.9C862.4,567.3 863.6,566.7 864.8,566.1C866,565.6 867.2,565 868.4,564.4C869.6,563.8 870.8,563.2 872,562.7C873.2,562.1 874.4,561.5 875.6,561C876.8,560.4 878,559.8 879.3,559.3C880.5,558.7 881.7,558.1 882.9,557.6C884.1,557 885.3,556.4 886.5,555.9C887.7,555.3 888.9,554.8 890.2,554.2C891.4,553.7 892.6,553.1 893.8,552.6C895,552 896.2,551.5 897.5,550.9C898.7,550.4 899.9,549.9 901.1,549.3C902.4,548.8 903.6,548.3 904.8,547.7C906,547.2 907.3,546.7 908.5,546.2C909.7,545.6 910.9,545.1 912.2,544.6C913.4,544.1 914.6,543.6 915.9,543.1C917.1,542.5 918.3,542 919.6,541.5C920.8,541 922,540.5 923.3,540C924.5,539.5 925.8,539.1 927,538.6C928.2,538.1 929.5,537.6 930.7,537.1C932,536.6 933.2,536.2 934.5,535.7C935.7,535.2 937,534.7 938.2,534.3C939.5,533.8 940.7,533.4 942,532.9C943.2,532.4 944.5,532 945.7,531.5C947,531.1 948.3,530.7 949.5,530.2C950.8,529.8 952,529.4 953.3,528.9C954.6,528.5 955.8,528.1 957.1,527.7C958.4,527.2 959.6,526.8 960.9,526.4C962.2,526 963.5,525.6 964.7,525.2C966,524.8 967.3,524.4 968.5,524C969.8,523.6 971.1,523.2 972.4,522.8C973.7,522.4 974.9,522.1 976.2,521.7C977.5,521.3 978.8,520.9 980.1,520.6C981.3,520.2 982.6,519.9 983.9,519.5C985.2,519.1 986.5,518.8 987.8,518.4C989.1,518.1 990.4,517.7 991.6,517.4C992.9,517.1 994.2,516.7 995.5,516.4C996.8,516.1 998.1,515.8 999.4,515.5C1000.7,515.2 1002,514.9 1003.3,514.6C1004.6,514.3 1005.9,514 1007.2,513.7C1008.5,513.5 1009.9,513.2 1011.2,513C1012.5,512.7 1013.8,512.5 1015.1,512.3C1016.4,512.1 1017.7,511.9 1019.1,511.7C1020.4,511.5 1021.7,511.4 1023,511.2C1024.4,511.1 1025.7,510.9 1027,510.8C1028.4,510.7 1029.7,510.6 1031,510.6C1032.4,510.5 1033.7,510.5 1035,510.4C1036.4,510.4 1037.7,510.4 1039,510.4C1040.4,510.4 1041.7,510.4 1043,510.5C1044.4,510.5 1045.7,510.6 1047,510.7C1048.4,510.8 1049.7,510.9 1051,511C1052.3,511.1 1053.7,511.3 1055,511.5C1056.3,511.6 1057.6,511.8 1059,512C1060.3,512.2 1061.6,512.4 1062.9,512.7C1064.2,512.9 1065.5,513.2 1066.8,513.4C1068.1,513.7 1069.4,514 1070.7,514.3C1072,514.7 1073.3,515 1074.6,515.3C1075.9,515.7 1077.2,516.1 1078.5,516.5C1079.7,516.8 1081,517.3 1082.3,517.7C1083.5,518.1 1084.8,518.5 1086,519C1087.3,519.5 1088.5,520 1089.8,520.5C1091,521 1092.2,521.5 1093.5,522C1094.7,522.6 1095.9,523.1 1097.1,523.7C1098.3,524.3 1099.5,524.8 1100.7,525.5C1101.9,526.1 1103.1,526.7 1104.2,527.3C1105.4,528 1106.6,528.6 1107.7,529.3C1108.9,530 1110,530.6 1111.2,531.3C1112.3,532 1113.4,532.7 1114.6,533.5C1115.7,534.2 1116.8,534.9 1117.9,535.7C1119,536.4 1120.1,537.2 1121.2,537.9C1122.3,538.7 1123.4,539.5 1124.5,540.2C1125.6,541 1126.6,541.8 1127.7,542.6C1128.8,543.4 1129.8,544.2 1130.9,545C1131.9,545.8 1133,546.7 1134.1,547.5C1135.1,548.3 1136.1,549.1 1137.2,550C1138.2,550.8 1139.3,551.7 1140.3,552.5C1141.3,553.3 1142.4,554.2 1143.4,555C1144.4,555.9 1145.4,556.8 1146.4,557.6C1147.5,558.5 1148.5,559.3 1149.5,560.2C1150.5,561.1 1151.5,561.9 1152.5,562.8C1153.6,563.7 1154.6,564.5 1155.6,565.4C1156.6,566.3 1157.6,567.2 1158.6,568C1159.6,568.9 1160.6,569.8 1161.7,570.6C1162.7,571.5 1163.7,572.4 1164.7,573.2C1165.7,574.1 1166.7,575 1167.7,575.8C1168.8,576.7 1169.8,577.6 1170.8,578.4C1171.8,579.3 1172.8,580.1 1173.9,581C1174.9,581.9 1175.9,582.7 1176.9,583.6C1177.9,584.4 1179,585.3 1180,586.1C1181,587 1182.1,587.8 1183.1,588.7C1184.1,589.5 1185.2,590.4 1186.2,591.2C1187.2,592.1 1188.3,592.9 1189.3,593.7C1190.3,594.6 1191.4,595.4 1192.4,596.2C1193.5,597.1 1194.5,597.9 1195.6,598.7C1196.6,599.6 1197.7,600.4 1198.7,601.2C1199.8,602 1200.8,602.8 1201.9,603.6C1202.9,604.5 1204,605.3 1205.1,606.1C1206.1,606.9 1207.2,607.7 1208.3,608.5C1209.3,609.3 1210.4,610.1 1211.5,610.9C1212.6,611.6 1213.6,612.4 1214.7,613.2C1215.8,614 1216.9,614.7 1218,615.5C1219.1,616.3 1220.2,617 1221.3,617.8C1222.4,618.5 1223.5,619.2 1224.7,620C1225.8,620.7 1226.9,621.4 1228,622.1C1229.2,622.8 1230.3,623.5 1231.5,624.1C1232.6,624.8 1233.8,625.5 1235,626.1C1236.1,626.8 1237.3,627.4 1238.5,628C1239.7,628.6 1240.9,629.2 1242.1,629.8C1243.3,630.4 1244.5,630.9 1245.7,631.5C1246.9,632 1248.2,632.5 1249.4,633C1250.7,633.5 1251.9,634 1253.2,634.4C1254.4,634.9 1255.7,635.3 1256.9,635.7C1258.2,636.1 1259.5,636.5 1260.8,636.9C1262.1,637.2 1263.4,637.6 1264.6,637.9C1265.9,638.2 1267.2,638.5 1268.5,638.8C1269.9,639.1 1271.2,639.3 1272.5,639.6C1273.8,639.8 1275.1,640.1 1276.4,640.3C1277.7,640.5 1279.1,640.7 1280.4,640.8C1281.7,641 1283,641.1 1284.4,641.3C1285.7,641.4 1287,641.5 1288.3,641.6C1289.7,641.7 1291,641.8 1292.3,641.9C1293.7,641.9 1295,642 1296.3,642C1297.7,642.1 1299,642.1 1300.3,642.1C1301.7,642.1 1303,642.1 1304.3,642.1C1305.7,642 1307,642 1308.4,641.9C1309.7,641.9 1311,641.8 1312.4,641.7C1313.7,641.7 1315,641.6 1316.3,641.5C1317.7,641.4 1319,641.2 1320.3,641.1C1321.7,641 1323,640.8 1324.3,640.7C1325.6,640.5 1327,640.4 1328.3,640.2C1329.6,640 1330.9,639.8 1332.2,639.6C1333.6,639.4 1334.9,639.2 1336.2,639C1337.5,638.8 1338.8,638.5 1340.1,638.3C1341.5,638.1 1342.8,637.8 1344.1,637.5C1345.4,637.3 1346.7,637 1348,636.7C1349.3,636.5 1350.6,636.2 1351.9,635.9C1353.2,635.6 1354.5,635.3 1355.8,634.9C1357.1,634.6 1358.4,634.3 1359.7,634C1361,633.6 1362.3,633.3 1363.6,633C1364.8,632.6 1366.1,632.3 1367.4,631.9C1368.7,631.5 1370,631.2 1371.3,630.8C1372.5,630.4 1373.8,630 1375.1,629.6C1376.4,629.3 1377.7,628.9 1378.9,628.5C1380.2,628.1 1381.5,627.6 1382.7,627.2C1384,626.8 1385.3,626.4 1386.5,626C1387.8,625.6 1389.1,625.1 1390.3,624.7C1391.6,624.3 1392.9,623.8 1394.1,623.4C1395.4,622.9 1396.6,622.5 1397.9,622C1399.1,621.6 1400.4,621.1 1401.6,620.7C1402.9,620.2 1404.2,619.7 1405.4,619.3C1406.7,618.8 1407.9,618.3 1409.1,617.9C1410.4,617.4 1411.6,616.9 1412.9,616.5C1414.1,616 1415.4,615.5 1416.6,615C1417.9,614.5 1419.1,614 1420.4,613.6C1421.6,613.1 1422.8,612.6 1424.1,612.1C1425.3,611.6 1426.6,611.1 1427.8,610.6C1429,610.1 1430.3,609.6 1431.5,609.1C1432.8,608.6 1434,608.1 1435.2,607.7C1436.5,607.2 1437.7,606.7 1439,606.2C1440.2,605.7 1441.4,605.2 1442.7,604.7C1443.9,604.2 1445.2,603.7 1446.4,603.2C1447.6,602.7 1448.9,602.2 1450.1,601.7C1451.3,601.2 1452.6,600.7 1453.8,600.2C1455.1,599.7 1456.3,599.2 1457.6,598.7C1458.8,598.3 1460,597.8 1461.3,597.3C1462.5,596.8 1463.8,596.3 1465,595.8C1466.3,595.4 1467.5,594.9 1468.7,594.4C1470,593.9 1471.2,593.5 1472.5,593C1473.7,592.5 1475,592 1476.2,591.6C1477.5,591.1 1479.4,590.4 1480,590.2" stroke="#b8509f" stroke-width="5.8"/></g><path d="M1331.3,545.4H1388.8" stroke="#168246" stroke-width="1.5" opacity="1"/><rect x="1358" y="543.3" width="4.2" height="4.2" fill="#168246"/><path d="M1331.3,582.9H1388.8" stroke="#b8509f" stroke-width="1.5" opacity="1"/><circle cx="1360" cy="582.9" r="2.2" fill="#b8509f"/><text x="1394.5" y="554.4" font-size="25">S</text><text x="1411.4" y="562.4" font-size="15.5">1</text><text x="1394.5" y="591.9" font-size="25">S</text><text x="1411.4" y="599.9" font-size="15.5">2</text>
<text transform="translate(102.9,893) scale(1.058,1)" font-size="40">(d)</text><text x="567.9" y="828.9" font-size="33" font-style="italic">d</text><text x="586.2" y="839.9" font-size="20">2</text><text x="595.9" y="828.9" font-size="33" textLength="128" lengthAdjust="spacingAndGlyphs">=210 nm</text><rect x="101.3" y="743.3" width="626.6" height="167.6" fill="none" stroke="#000" stroke-width="2.5"/><path d="M93,893.3H101.3M93,858H101.3M93,822.7H101.3M93,787.4H101.3M93,752.1H101.3M96.6,910.9H101.3M96.6,875.6H101.3M96.6,840.3H101.3M96.6,805H101.3M96.6,769.8H101.3M101.3,910.9V919.1M179.6,910.9V915.2M257.9,910.9V919.1M336.3,910.9V915.2M414.6,910.9V919.1M492.9,910.9V915.2M571.2,910.9V919.1M649.6,910.9V915.2M727.9,910.9V919.1" stroke="#000" stroke-width="2.2" fill="none"/><text x="89" y="901.4" font-size="23" font-weight="bold" text-anchor="end">-0.8</text><text x="89" y="866.1" font-size="23" font-weight="bold" text-anchor="end">-0.4</text><text x="89" y="830.8" font-size="23" font-weight="bold" text-anchor="end">0.0</text><text x="89" y="795.5" font-size="23" font-weight="bold" text-anchor="end">0.4</text><text x="89" y="760.2" font-size="23" font-weight="bold" text-anchor="end">0.8</text><text x="101.3" y="940.9" font-size="24" font-weight="bold" text-anchor="middle">232</text><text x="257.9" y="940.9" font-size="24" font-weight="bold" text-anchor="middle">234</text><text x="414.6" y="940.9" font-size="24" font-weight="bold" text-anchor="middle">236</text><text x="571.2" y="940.9" font-size="24" font-weight="bold" text-anchor="middle">238</text><text x="727.9" y="940.9" font-size="24" font-weight="bold" text-anchor="middle">240</text><text x="415.4" y="978.6" font-size="32" text-anchor="middle" textLength="265.5" lengthAdjust="spacingAndGlyphs">Frequency (THz)</text><text transform="translate(24.7,827.7) rotate(-90)" font-size="31.7" text-anchor="middle">Real</text><g clip-path="url(#c3L)" fill="none" stroke-linejoin="round"><path d="M101.3,904.3C102,904.3 104,904.2 105.3,904.2C106.6,904.1 108,904.1 109.3,904C110.6,904 112,904 113.3,903.9C114.6,903.9 116,903.8 117.3,903.8C118.6,903.7 120,903.7 121.3,903.6C122.6,903.6 124,903.5 125.3,903.5C126.6,903.4 128,903.4 129.3,903.3C130.6,903.3 132,903.2 133.3,903.2C134.6,903.1 136,903.1 137.3,903C138.6,903 140,902.9 141.3,902.9C142.6,902.8 144,902.7 145.3,902.7C146.6,902.6 148,902.6 149.3,902.5C150.6,902.4 152,902.4 153.3,902.3C154.6,902.3 156,902.2 157.3,902.1C158.6,902.1 160,902 161.3,901.9C162.6,901.9 164,901.8 165.3,901.7C166.6,901.7 168,901.6 169.3,901.5C170.6,901.5 172,901.4 173.3,901.3C174.6,901.3 176,901.2 177.3,901.1C178.6,901.1 180,901 181.3,900.9C182.6,900.8 184,900.8 185.3,900.7C186.6,900.6 188,900.5 189.3,900.4C190.6,900.4 192,900.3 193.3,900.2C194.6,900.1 196,900.1 197.3,900C198.6,899.9 199.9,899.8 201.3,899.7C202.6,899.6 203.9,899.6 205.3,899.5C206.6,899.4 207.9,899.3 209.3,899.2C210.6,899.1 211.9,899 213.3,899C214.6,898.9 215.9,898.8 217.3,898.7C218.6,898.6 219.9,898.5 221.3,898.4C222.6,898.3 223.9,898.2 225.2,898.1C226.6,898 227.9,897.9 229.2,897.8C230.6,897.7 231.9,897.6 233.2,897.5C234.6,897.4 235.9,897.3 237.2,897.2C238.6,897.1 239.9,897 241.2,896.9C242.5,896.8 243.9,896.7 245.2,896.6C246.5,896.5 247.9,896.4 249.2,896.3C250.5,896.2 251.9,896.1 253.2,896C254.5,895.9 255.9,895.8 257.2,895.7C258.5,895.6 259.8,895.4 261.2,895.3C262.5,895.2 263.8,895.1 265.2,895C266.5,894.9 267.8,894.8 269.1,894.6C270.5,894.5 271.8,894.4 273.1,894.3C274.5,894.2 275.8,894 277.1,893.9C278.5,893.8 279.8,893.7 281.1,893.6C282.4,893.4 283.8,893.3 285.1,893.2C286.4,893.1 287.8,892.9 289.1,892.8C290.4,892.7 291.7,892.6 293.1,892.4C294.4,892.3 295.7,892.2 297.1,892C298.4,891.9 299.7,891.8 301,891.6C302.4,891.5 303.7,891.4 305,891.2C306.3,891.1 307.7,891 309,890.8C310.3,890.7 311.7,890.6 313,890.4C314.3,890.3 315.6,890.1 317,890C318.3,889.9 319.6,889.7 320.9,889.6C322.3,889.5 323.6,889.3 324.9,889.2C326.3,889.1 327.6,888.9 328.9,888.8C330.2,888.7 331.6,888.5 332.9,888.4C334.2,888.3 335.6,888.1 336.9,888C338.2,887.9 339.5,887.8 340.9,887.6C342.2,887.5 343.5,887.4 344.9,887.3C346.2,887.2 347.5,887.1 348.8,886.9C350.2,886.8 351.5,886.7 352.8,886.6C354.2,886.5 355.5,886.4 356.8,886.3C358.2,886.2 359.5,886.1 360.8,886C362.2,885.9 363.5,885.9 364.8,885.8C366.2,885.7 367.5,885.6 368.8,885.5C370.1,885.5 371.5,885.4 372.8,885.3C374.1,885.3 375.5,885.2 376.8,885.1C378.1,885.1 379.5,885 380.8,885C382.1,884.9 383.5,884.9 384.8,884.9C386.1,884.8 387.5,884.8 388.8,884.8C390.2,884.8 391.5,884.8 392.8,884.8C394.2,884.7 395.5,884.7 396.8,884.7C398.2,884.8 399.5,884.8 400.8,884.8C402.2,884.8 403.5,884.8 404.8,884.9C406.2,884.9 407.5,884.9 408.8,885C410.2,885 411.5,885.1 412.8,885.2C414.2,885.2 415.5,885.3 416.8,885.4C418.2,885.5 419.5,885.6 420.8,885.6C422.2,885.7 423.5,885.8 424.8,886C426.1,886.1 427.5,886.2 428.8,886.3C430.1,886.4 431.5,886.6 432.8,886.7C434.1,886.8 435.4,887 436.8,887.1C438.1,887.2 439.4,887.4 440.8,887.5C442.1,887.7 443.4,887.9 444.7,888C446.1,888.2 447.4,888.3 448.7,888.5C450,888.7 451.3,888.9 452.7,889C454,889.2 455.3,889.4 456.6,889.6C458,889.7 459.3,889.9 460.6,890.1C461.9,890.3 463.2,890.5 464.6,890.7C465.9,890.8 467.2,891 468.5,891.2C469.9,891.4 471.2,891.6 472.5,891.8C473.8,892 475.1,892.2 476.5,892.4C477.8,892.6 479.1,892.7 480.4,892.9C481.7,893.1 483.1,893.3 484.4,893.5C485.7,893.7 487,893.9 488.3,894.1C489.7,894.2 491,894.4 492.3,894.6C493.6,894.8 495,895 496.3,895.2C497.6,895.3 498.9,895.5 500.2,895.7C501.6,895.9 502.9,896 504.2,896.2C505.5,896.4 506.9,896.5 508.2,896.7C509.5,896.9 510.8,897 512.2,897.2C513.5,897.4 514.8,897.5 516.1,897.7C517.5,897.8 518.8,898 520.1,898.2C521.4,898.3 522.8,898.5 524.1,898.6C525.4,898.8 526.7,898.9 528.1,899.1C529.4,899.2 530.7,899.4 532,899.5C533.4,899.6 534.7,899.8 536,899.9C537.4,900 538.7,900.2 540,900.3C541.3,900.4 542.7,900.6 544,900.7C545.3,900.8 546.7,900.9 548,901.1C549.3,901.2 550.6,901.3 552,901.4C553.3,901.5 554.6,901.6 556,901.7C557.3,901.8 558.6,902 560,902.1C561.3,902.2 562.6,902.3 563.9,902.4C565.3,902.4 566.6,902.5 567.9,902.6C569.3,902.7 570.6,902.8 571.9,902.9C573.3,903 574.6,903.1 575.9,903.1C577.3,903.2 578.6,903.3 579.9,903.4C581.3,903.5 582.6,903.5 583.9,903.6C585.3,903.7 586.6,903.7 587.9,903.8C589.3,903.9 590.6,903.9 591.9,904C593.3,904.1 594.6,904.1 595.9,904.2C597.3,904.2 598.6,904.3 599.9,904.4C601.3,904.4 602.6,904.5 603.9,904.5C605.3,904.6 606.6,904.6 607.9,904.7C609.3,904.7 610.6,904.8 611.9,904.8C613.3,904.8 614.6,904.9 615.9,904.9C617.3,905 618.6,905 619.9,905.1C621.3,905.1 622.6,905.1 623.9,905.2C625.3,905.2 626.6,905.2 627.9,905.3C629.3,905.3 630.6,905.3 631.9,905.4C633.3,905.4 634.6,905.4 635.9,905.5C637.3,905.5 638.6,905.5 639.9,905.6C641.3,905.6 642.6,905.6 643.9,905.6C645.3,905.7 646.6,905.7 647.9,905.7C649.3,905.7 650.6,905.8 651.9,905.8C653.3,905.8 654.6,905.8 656,905.9C657.3,905.9 658.6,905.9 660,905.9C661.3,906 662.6,906 664,906C665.3,906 666.6,906 668,906.1C669.3,906.1 670.6,906.1 672,906.1C673.3,906.2 674.6,906.2 676,906.2C677.3,906.2 678.6,906.2 680,906.3C681.3,906.3 682.6,906.3 684,906.3C685.3,906.3 686.6,906.4 688,906.4C689.3,906.4 690.6,906.4 692,906.5C693.3,906.5 694.6,906.5 696,906.5C697.3,906.6 698.6,906.6 700,906.6C701.3,906.6 702.7,906.7 704,906.7C705.3,906.7 706.7,906.8 708,906.8C709.3,906.8 710.7,906.8 712,906.9C713.3,906.9 714.7,906.9 716,907C717.3,907 718.7,907 720,907.1C721.3,907.1 722.7,907.1 724,907.2C725.3,907.2 727.3,907.3 728,907.3" stroke="#168246" stroke-width="4.4"/><path d="M101.3,751C102,751 104,751.1 105.3,751.1C106.7,751.2 108,751.2 109.3,751.3C110.7,751.3 112,751.4 113.3,751.4C114.7,751.4 116,751.5 117.4,751.6C118.7,751.6 120,751.7 121.4,751.7C122.7,751.8 124,751.8 125.4,751.9C126.7,751.9 128.1,752 129.4,752.1C130.7,752.1 132.1,752.2 133.4,752.3C134.7,752.3 136.1,752.4 137.4,752.5C138.7,752.6 140.1,752.6 141.4,752.7C142.8,752.8 144.1,752.9 145.4,752.9C146.8,753 148.1,753.1 149.4,753.2C150.8,753.3 152.1,753.4 153.4,753.4C154.8,753.5 156.1,753.6 157.4,753.7C158.8,753.8 160.1,753.9 161.5,754C162.8,754.1 164.1,754.2 165.5,754.3C166.8,754.4 168.1,754.5 169.5,754.6C170.8,754.8 172.1,754.9 173.5,755C174.8,755.1 176.1,755.2 177.5,755.3C178.8,755.5 180.1,755.6 181.5,755.7C182.8,755.8 184.1,756 185.5,756.1C186.8,756.2 188.1,756.4 189.4,756.5C190.8,756.6 192.1,756.8 193.4,756.9C194.8,757.1 196.1,757.2 197.4,757.4C198.8,757.5 200.1,757.7 201.4,757.8C202.8,758 204.1,758.2 205.4,758.3C206.7,758.5 208.1,758.7 209.4,758.8C210.7,759 212,759.2 213.4,759.4C214.7,759.5 216,759.7 217.4,759.9C218.7,760.1 220,760.3 221.3,760.5C222.6,760.7 224,760.9 225.3,761.1C226.6,761.3 227.9,761.5 229.3,761.7C230.6,761.9 231.9,762.1 233.2,762.3C234.6,762.5 235.9,762.8 237.2,763C238.5,763.2 239.8,763.4 241.1,763.7C242.5,763.9 243.8,764.1 245.1,764.4C246.4,764.6 247.7,764.9 249,765.1C250.4,765.4 251.7,765.6 253,765.9C254.3,766.1 255.6,766.4 256.9,766.7C258.2,766.9 259.6,767.2 260.9,767.5C262.2,767.8 263.5,768 264.8,768.3C266.1,768.6 267.4,768.9 268.7,769.2C270,769.5 271.3,769.8 272.6,770.1C273.9,770.4 275.2,770.7 276.5,771C277.8,771.3 279.1,771.6 280.4,771.9C281.8,772.2 283.1,772.5 284.4,772.8C285.7,773.1 287,773.4 288.3,773.8C289.6,774.1 290.9,774.4 292.2,774.7C293.5,775 294.8,775.4 296.1,775.7C297.4,776 298.7,776.3 300,776.6C301.3,777 302.6,777.3 303.9,777.6C305.1,777.9 306.4,778.3 307.7,778.6C309,778.9 310.3,779.2 311.6,779.6C312.9,779.9 314.2,780.2 315.5,780.5C316.8,780.9 318.1,781.2 319.4,781.5C320.7,781.8 322,782.1 323.3,782.4C324.6,782.8 325.9,783.1 327.2,783.4C328.5,783.7 329.8,784 331.1,784.3C332.4,784.6 333.8,784.9 335.1,785.2C336.4,785.6 337.7,785.9 339,786.1C340.3,786.4 341.6,786.7 342.9,787C344.2,787.3 345.5,787.6 346.8,787.9C348.1,788.2 349.4,788.5 350.7,788.7C352,789 353.4,789.3 354.7,789.5C356,789.8 357.3,790.1 358.6,790.3C359.9,790.6 361.2,790.8 362.6,791.1C363.9,791.3 365.2,791.6 366.5,791.8C367.8,792 369.1,792.2 370.5,792.4C371.8,792.6 373.1,792.8 374.4,793C375.8,793.2 377.1,793.4 378.4,793.6C379.7,793.7 381.1,793.9 382.4,794C383.7,794.2 385.1,794.3 386.4,794.4C387.7,794.5 389.1,794.6 390.4,794.7C391.7,794.8 393.1,794.9 394.4,794.9C395.8,795 397.1,795.1 398.4,795.1C399.8,795.1 401.1,795.1 402.4,795.1C403.8,795.1 405.1,795.1 406.5,795C407.8,795 409.1,794.9 410.5,794.8C411.8,794.7 413.1,794.6 414.5,794.5C415.8,794.4 417.1,794.3 418.5,794.1C419.8,793.9 421.1,793.8 422.4,793.6C423.8,793.4 425.1,793.2 426.4,793C427.7,792.8 429.1,792.6 430.4,792.3C431.7,792.1 433,791.9 434.3,791.6C435.6,791.4 437,791.1 438.3,790.8C439.6,790.6 440.9,790.3 442.2,790C443.5,789.8 444.8,789.5 446.1,789.2C447.4,788.9 448.8,788.7 450.1,788.4C451.4,788.1 452.7,787.8 454,787.5C455.3,787.2 456.6,787 457.9,786.7C459.2,786.4 460.5,786.1 461.8,785.8C463.1,785.5 464.5,785.2 465.8,785C467.1,784.7 468.4,784.4 469.7,784.1C471,783.8 472.3,783.5 473.6,783.2C474.9,783 476.2,782.7 477.5,782.4C478.8,782.1 480.1,781.8 481.4,781.5C482.8,781.2 484.1,781 485.4,780.7C486.7,780.4 488,780.1 489.3,779.8C490.6,779.5 491.9,779.3 493.2,779C494.5,778.7 495.8,778.4 497.1,778.1C498.5,777.8 499.8,777.6 501.1,777.3C502.4,777 503.7,776.7 505,776.4C506.3,776.2 507.6,775.9 508.9,775.6C510.2,775.3 511.5,775.1 512.9,774.8C514.2,774.5 515.5,774.2 516.8,774C518.1,773.7 519.4,773.4 520.7,773.2C522,772.9 523.3,772.6 524.7,772.4C526,772.1 527.3,771.8 528.6,771.6C529.9,771.3 531.2,771.1 532.5,770.8C533.9,770.6 535.2,770.3 536.5,770C537.8,769.8 539.1,769.5 540.4,769.3C541.7,769 543.1,768.8 544.4,768.5C545.7,768.3 547,768.1 548.3,767.8C549.6,767.6 551,767.3 552.3,767.1C553.6,766.9 554.9,766.6 556.2,766.4C557.5,766.2 558.9,766 560.2,765.7C561.5,765.5 562.8,765.3 564.1,765.1C565.5,764.9 566.8,764.6 568.1,764.4C569.4,764.2 570.8,764 572.1,763.8C573.4,763.6 574.7,763.4 576,763.2C577.4,763 578.7,762.8 580,762.6C581.3,762.4 582.7,762.2 584,762C585.3,761.8 586.6,761.7 588,761.5C589.3,761.3 590.6,761.1 591.9,761C593.3,760.8 594.6,760.6 595.9,760.4C597.3,760.3 598.6,760.1 599.9,760C601.2,759.8 602.6,759.6 603.9,759.5C605.2,759.3 606.6,759.2 607.9,759C609.2,758.9 610.6,758.8 611.9,758.6C613.2,758.5 614.6,758.3 615.9,758.2C617.2,758.1 618.5,757.9 619.9,757.8C621.2,757.7 622.5,757.5 623.9,757.4C625.2,757.3 626.5,757.2 627.9,757C629.2,756.9 630.5,756.8 631.9,756.7C633.2,756.6 634.5,756.4 635.9,756.3C637.2,756.2 638.5,756.1 639.9,756C641.2,755.9 642.5,755.8 643.9,755.7C645.2,755.6 646.5,755.4 647.9,755.3C649.2,755.2 650.5,755.1 651.9,755C653.2,754.9 654.6,754.8 655.9,754.7C657.2,754.6 658.6,754.5 659.9,754.4C661.2,754.3 662.6,754.2 663.9,754.2C665.2,754.1 666.6,754 667.9,753.9C669.2,753.8 670.6,753.7 671.9,753.6C673.2,753.5 674.6,753.4 675.9,753.3C677.3,753.2 678.6,753.1 679.9,753.1C681.3,753 682.6,752.9 683.9,752.8C685.3,752.7 686.6,752.6 687.9,752.5C689.3,752.4 690.6,752.4 691.9,752.3C693.3,752.2 694.6,752.1 696,752C697.3,751.9 698.6,751.8 700,751.7C701.3,751.6 702.6,751.6 704,751.5C705.3,751.4 706.6,751.3 708,751.2C709.3,751.1 710.6,751 712,750.9C713.3,750.8 714.6,750.7 716,750.7C717.3,750.6 718.7,750.5 720,750.4C721.3,750.3 722.7,750.2 724,750.1C725.3,750 727.3,749.8 728,749.8" stroke="#b8509f" stroke-width="5.8"/></g><path d="M630.8,844.5H686.3" stroke="#168246" stroke-width="1.0" opacity="0.7"/><rect x="656.4" y="842.4" width="4.2" height="4.2" fill="#168246"/><path d="M630.8,881.8H686.3" stroke="#b8509f" stroke-width="1.0" opacity="0.7"/><circle cx="658.5" cy="881.8" r="2.2" fill="#b8509f"/><text x="692.9" y="853.5" font-size="25">S</text><text x="709.8" y="861.5" font-size="15.5">1</text><text x="692.9" y="890.8" font-size="25">S</text><text x="709.8" y="898.8" font-size="15.5">2</text>
<text transform="translate(859.9,904) scale(1.056,1)" font-size="40">(d')</text><text x="1318.9" y="775.1" font-size="33" font-style="italic">d</text><text x="1337.2" y="786.1" font-size="20">2</text><text x="1346.9" y="775.1" font-size="33" textLength="128" lengthAdjust="spacingAndGlyphs">=210 nm</text><rect x="854" y="743.3" width="626" height="167.6" fill="none" stroke="#000" stroke-width="2.5"/><path d="M845.7,910.9H854M845.7,855H854M845.7,799.2H854M845.7,743.3H854M849.3,883H854M849.3,827.1H854M849.3,771.2H854M854,910.9V919.1M932.2,910.9V915.2M1010.5,910.9V919.1M1088.8,910.9V915.2M1167,910.9V919.1M1245.2,910.9V915.2M1323.5,910.9V919.1M1401.8,910.9V915.2M1480,910.9V919.1" stroke="#000" stroke-width="2.2" fill="none"/><text x="841.7" y="919" font-size="23" font-weight="bold" text-anchor="end">-0.4</text><text x="841.7" y="863.1" font-size="23" font-weight="bold" text-anchor="end">-0.2</text><text x="841.7" y="807.3" font-size="23" font-weight="bold" text-anchor="end">0.0</text><text x="841.7" y="751.4" font-size="23" font-weight="bold" text-anchor="end">0.2</text><text x="854" y="940.9" font-size="24" font-weight="bold" text-anchor="middle">232</text><text x="1010.5" y="940.9" font-size="24" font-weight="bold" text-anchor="middle">234</text><text x="1167" y="940.9" font-size="24" font-weight="bold" text-anchor="middle">236</text><text x="1323.5" y="940.9" font-size="24" font-weight="bold" text-anchor="middle">238</text><text x="1480" y="940.9" font-size="24" font-weight="bold" text-anchor="middle">240</text><text x="1167.8" y="978.6" font-size="32" text-anchor="middle" textLength="265.5" lengthAdjust="spacingAndGlyphs">Frequency (THz)</text><text transform="translate(786,826) rotate(-90)" font-size="31.7" text-anchor="middle">Imag</text><g clip-path="url(#c3R)" fill="none" stroke-linejoin="round"><path d="M854,870.2C854.7,870.2 856.7,870.4 858,870.4C859.3,870.5 860.7,870.6 862,870.7C863.3,870.8 864.6,870.8 866,870.9C867.3,871 868.6,871.1 870,871.1C871.3,871.2 872.6,871.3 874,871.4C875.3,871.4 876.6,871.5 878,871.6C879.3,871.7 880.6,871.7 881.9,871.8C883.3,871.9 884.6,871.9 885.9,872C887.3,872.1 888.6,872.1 889.9,872.2C891.3,872.3 892.6,872.3 893.9,872.4C895.3,872.5 896.6,872.5 897.9,872.6C899.3,872.7 900.6,872.7 901.9,872.8C903.3,872.8 904.6,872.9 905.9,873C907.2,873 908.6,873.1 909.9,873.2C911.2,873.2 912.6,873.3 913.9,873.3C915.2,873.4 916.6,873.4 917.9,873.5C919.2,873.6 920.6,873.6 921.9,873.7C923.2,873.7 924.6,873.8 925.9,873.8C927.2,873.9 928.6,873.9 929.9,874C931.2,874.1 932.6,874.1 933.9,874.2C935.2,874.2 936.5,874.3 937.9,874.3C939.2,874.4 940.5,874.4 941.9,874.5C943.2,874.5 944.5,874.6 945.9,874.6C947.2,874.7 948.5,874.7 949.9,874.8C951.2,874.9 952.5,874.9 953.9,875C955.2,875 956.5,875.1 957.9,875.1C959.2,875.2 960.5,875.2 961.9,875.3C963.2,875.3 964.5,875.4 965.9,875.4C967.2,875.5 968.5,875.5 969.9,875.6C971.2,875.6 972.5,875.7 973.8,875.7C975.2,875.8 976.5,875.8 977.8,875.9C979.2,875.9 980.5,876 981.8,876C983.2,876.1 984.5,876.1 985.8,876.2C987.2,876.2 988.5,876.3 989.8,876.3C991.2,876.4 992.5,876.4 993.8,876.5C995.2,876.5 996.5,876.6 997.8,876.6C999.2,876.6 1000.5,876.7 1001.8,876.7C1003.2,876.7 1004.5,876.8 1005.8,876.8C1007.2,876.8 1008.5,876.8 1009.8,876.9C1011.2,876.9 1012.5,876.9 1013.8,876.9C1015.2,876.9 1016.5,876.9 1017.8,876.9C1019.2,876.9 1020.5,876.9 1021.8,876.8C1023.2,876.8 1024.5,876.8 1025.8,876.7C1027.1,876.7 1028.5,876.7 1029.8,876.6C1031.1,876.5 1032.5,876.5 1033.8,876.4C1035.1,876.3 1036.5,876.2 1037.8,876.1C1039.1,876 1040.5,875.9 1041.8,875.8C1043.1,875.7 1044.4,875.5 1045.8,875.4C1047.1,875.3 1048.4,875.1 1049.7,874.9C1051.1,874.7 1052.4,874.6 1053.7,874.4C1055,874.2 1056.3,873.9 1057.6,873.7C1058.9,873.5 1060.3,873.2 1061.6,873C1062.9,872.7 1064.2,872.4 1065.5,872.1C1066.8,871.8 1068.1,871.5 1069.4,871.2C1070.7,870.8 1071.9,870.5 1073.2,870.1C1074.5,869.8 1075.8,869.4 1077.1,869C1078.3,868.6 1079.6,868.2 1080.9,867.8C1082.1,867.4 1083.4,867 1084.7,866.6C1085.9,866.1 1087.2,865.7 1088.4,865.2C1089.7,864.7 1090.9,864.3 1092.2,863.8C1093.4,863.3 1094.6,862.8 1095.9,862.3C1097.1,861.8 1098.3,861.2 1099.6,860.7C1100.8,860.2 1102,859.6 1103.2,859.1C1104.4,858.5 1105.6,858 1106.8,857.4C1108,856.8 1109.2,856.2 1110.4,855.6C1111.6,855.1 1112.8,854.5 1114,853.8C1115.2,853.2 1116.4,852.6 1117.6,852C1118.7,851.4 1119.9,850.7 1121.1,850.1C1122.2,849.5 1123.4,848.8 1124.6,848.2C1125.7,847.5 1126.9,846.8 1128,846.2C1129.2,845.5 1130.3,844.8 1131.5,844.2C1132.6,843.5 1133.8,842.8 1134.9,842.1C1136.1,841.4 1137.2,840.7 1138.3,840C1139.5,839.3 1140.6,838.6 1141.7,837.9C1142.8,837.2 1144,836.4 1145.1,835.7C1146.2,835 1147.3,834.3 1148.4,833.6C1149.6,832.8 1150.7,832.1 1151.8,831.4C1152.9,830.7 1154,829.9 1155.2,829.2C1156.3,828.5 1157.4,827.8 1158.5,827C1159.6,826.3 1160.8,825.6 1161.9,824.9C1163,824.2 1164.2,823.5 1165.3,822.8C1166.4,822.1 1167.6,821.4 1168.7,820.7C1169.9,820 1171,819.4 1172.2,818.7C1173.3,818 1174.5,817.4 1175.7,816.8C1176.8,816.1 1178,815.5 1179.2,814.9C1180.4,814.3 1181.6,813.7 1182.8,813.1C1184,812.5 1185.2,812 1186.4,811.4C1187.6,810.9 1188.9,810.4 1190.1,809.9C1191.3,809.4 1192.6,808.9 1193.8,808.5C1195.1,808 1196.4,807.6 1197.6,807.2C1198.9,806.8 1200.2,806.4 1201.4,806C1202.7,805.6 1204,805.3 1205.3,805C1206.6,804.6 1207.9,804.3 1209.2,804C1210.5,803.8 1211.8,803.5 1213.1,803.2C1214.4,803 1215.7,802.8 1217.1,802.5C1218.4,802.3 1219.7,802.1 1221,801.9C1222.3,801.7 1223.6,801.6 1225,801.4C1226.3,801.3 1227.6,801.1 1228.9,801C1230.3,800.9 1231.6,800.7 1232.9,800.6C1234.3,800.5 1235.6,800.4 1236.9,800.3C1238.3,800.3 1239.6,800.2 1240.9,800.1C1242.2,800.1 1243.6,800 1244.9,800C1246.2,799.9 1247.6,799.9 1248.9,799.9C1250.2,799.9 1251.6,799.8 1252.9,799.8C1254.2,799.8 1255.6,799.8 1256.9,799.8C1258.2,799.8 1259.6,799.9 1260.9,799.9C1262.2,799.9 1263.6,799.9 1264.9,800C1266.2,800 1267.6,800.1 1268.9,800.1C1270.2,800.2 1271.6,800.2 1272.9,800.3C1274.2,800.4 1275.6,800.4 1276.9,800.5C1278.2,800.6 1279.6,800.7 1280.9,800.7C1282.2,800.8 1283.5,800.9 1284.9,801C1286.2,801.1 1287.5,801.2 1288.9,801.3C1290.2,801.4 1291.5,801.6 1292.8,801.7C1294.2,801.8 1295.5,801.9 1296.8,802C1298.2,802.2 1299.5,802.3 1300.8,802.4C1302.1,802.6 1303.5,802.7 1304.8,802.8C1306.1,803 1307.4,803.1 1308.8,803.2C1310.1,803.4 1311.4,803.5 1312.7,803.7C1314.1,803.8 1315.4,804 1316.7,804.1C1318,804.3 1319.4,804.4 1320.7,804.6C1322,804.7 1323.3,804.9 1324.7,805C1326,805.2 1327.3,805.3 1328.6,805.5C1330,805.7 1331.3,805.8 1332.6,806C1333.9,806.1 1335.3,806.3 1336.6,806.4C1337.9,806.6 1339.2,806.7 1340.5,806.9C1341.9,807 1343.2,807.2 1344.5,807.3C1345.8,807.5 1347.2,807.6 1348.5,807.8C1349.8,807.9 1351.1,808.1 1352.5,808.2C1353.8,808.4 1355.1,808.5 1356.4,808.6C1357.8,808.8 1359.1,808.9 1360.4,809.1C1361.8,809.2 1363.1,809.3 1364.4,809.5C1365.7,809.6 1367.1,809.8 1368.4,809.9C1369.7,810 1371,810.1 1372.4,810.3C1373.7,810.4 1375,810.5 1376.3,810.7C1377.7,810.8 1379,810.9 1380.3,811C1381.7,811.2 1383,811.3 1384.3,811.4C1385.6,811.5 1387,811.7 1388.3,811.8C1389.6,811.9 1390.9,812 1392.3,812.1C1393.6,812.3 1394.9,812.4 1396.3,812.5C1397.6,812.6 1398.9,812.7 1400.2,812.9C1401.6,813 1402.9,813.1 1404.2,813.2C1405.6,813.3 1406.9,813.4 1408.2,813.5C1409.5,813.6 1410.9,813.7 1412.2,813.9C1413.5,814 1414.9,814.1 1416.2,814.2C1417.5,814.3 1418.8,814.4 1420.2,814.5C1421.5,814.6 1422.8,814.7 1424.2,814.8C1425.5,814.9 1426.8,815 1428.1,815.1C1429.5,815.2 1430.8,815.3 1432.1,815.4C1433.5,815.5 1434.8,815.6 1436.1,815.7C1437.4,815.8 1438.8,815.9 1440.1,816C1441.4,816.1 1442.8,816.2 1444.1,816.3C1445.4,816.4 1446.8,816.5 1448.1,816.6C1449.4,816.7 1450.7,816.8 1452.1,816.9C1453.4,817 1454.7,817.1 1456.1,817.2C1457.4,817.3 1458.7,817.4 1460,817.4C1461.4,817.5 1462.7,817.6 1464,817.7C1465.4,817.8 1466.7,817.9 1468,818C1469.4,818.1 1470.7,818.2 1472,818.3C1473.3,818.4 1474.7,818.4 1476,818.5C1477.3,818.6 1479.3,818.8 1480,818.8" stroke="#168246" stroke-width="4.4"/><path d="M854,822.3C854.6,822.1 856.5,821.4 857.8,821C859.1,820.6 860.3,820.1 861.6,819.7C862.8,819.2 864.1,818.8 865.4,818.4C866.6,817.9 867.9,817.5 869.1,817C870.4,816.6 871.7,816.1 872.9,815.7C874.2,815.2 875.4,814.8 876.7,814.3C877.9,813.9 879.2,813.4 880.5,813C881.7,812.5 883,812.1 884.2,811.6C885.5,811.1 886.7,810.7 888,810.2C889.3,809.8 890.5,809.3 891.8,808.9C893,808.4 894.3,807.9 895.5,807.5C896.8,807 898,806.6 899.3,806.1C900.5,805.6 901.8,805.2 903.1,804.7C904.3,804.3 905.6,803.8 906.8,803.3C908.1,802.9 909.3,802.4 910.6,802C911.8,801.5 913.1,801 914.3,800.6C915.6,800.1 916.9,799.7 918.1,799.2C919.4,798.8 920.6,798.3 921.9,797.8C923.1,797.4 924.4,796.9 925.6,796.5C926.9,796 928.2,795.6 929.4,795.1C930.7,794.7 931.9,794.2 933.2,793.8C934.4,793.3 935.7,792.9 937,792.4C938.2,792 939.5,791.5 940.7,791.1C942,790.6 943.3,790.2 944.5,789.8C945.8,789.3 947,788.9 948.3,788.4C949.6,788 950.8,787.6 952.1,787.1C953.4,786.7 954.6,786.3 955.9,785.8C957.2,785.4 958.4,785 959.7,784.6C961,784.1 962.2,783.7 963.5,783.3C964.8,782.9 966,782.5 967.3,782.1C968.6,781.6 969.9,781.2 971.1,780.8C972.4,780.4 973.7,780 974.9,779.6C976.2,779.2 977.5,778.8 978.8,778.4C980,778 981.3,777.6 982.6,777.3C983.9,776.9 985.2,776.5 986.4,776.1C987.7,775.7 989,775.4 990.3,775C991.6,774.6 992.9,774.3 994.2,773.9C995.5,773.6 996.7,773.3 998,772.9C999.3,772.6 1000.6,772.3 1001.9,771.9C1003.2,771.6 1004.5,771.3 1005.8,771C1007.1,770.7 1008.4,770.4 1009.7,770.1C1011,769.9 1012.4,769.6 1013.7,769.3C1015,769.1 1016.3,768.8 1017.6,768.6C1018.9,768.3 1020.2,768.1 1021.6,767.9C1022.9,767.7 1024.2,767.5 1025.5,767.3C1026.8,767.1 1028.2,766.9 1029.5,766.8C1030.8,766.6 1032.1,766.4 1033.5,766.3C1034.8,766.2 1036.1,766.1 1037.5,766C1038.8,765.9 1040.1,765.8 1041.5,765.7C1042.8,765.7 1044.1,765.6 1045.5,765.6C1046.8,765.6 1048.1,765.6 1049.5,765.7C1050.8,765.7 1052.2,765.8 1053.5,765.8C1054.8,765.9 1056.1,766 1057.5,766.2C1058.8,766.3 1060.1,766.5 1061.4,766.7C1062.8,766.9 1064.1,767.2 1065.4,767.4C1066.7,767.7 1068,768 1069.3,768.4C1070.6,768.7 1071.9,769.1 1073.1,769.5C1074.4,769.9 1075.7,770.3 1077,770.7C1078.2,771.2 1079.5,771.7 1080.7,772.2C1081.9,772.7 1083.2,773.2 1084.4,773.7C1085.6,774.3 1086.8,774.8 1088,775.4C1089.2,776 1090.4,776.7 1091.6,777.3C1092.7,777.9 1093.9,778.6 1095.1,779.2C1096.2,779.9 1097.4,780.6 1098.5,781.3C1099.6,782 1100.7,782.7 1101.9,783.5C1103,784.2 1104.1,785 1105.2,785.8C1106.3,786.5 1107.3,787.3 1108.4,788.1C1109.5,788.9 1110.6,789.7 1111.6,790.5C1112.7,791.3 1113.7,792.2 1114.7,793C1115.8,793.9 1116.8,794.7 1117.8,795.6C1118.8,796.5 1119.8,797.3 1120.8,798.2C1121.8,799.1 1122.8,800 1123.8,800.9C1124.8,801.8 1125.8,802.7 1126.7,803.6C1127.7,804.6 1128.7,805.5 1129.6,806.4C1130.6,807.4 1131.5,808.3 1132.5,809.2C1133.4,810.2 1134.4,811.1 1135.3,812.1C1136.2,813.1 1137.2,814 1138.1,815C1139,816 1139.9,816.9 1140.8,817.9C1141.8,818.9 1142.7,819.8 1143.6,820.8C1144.5,821.8 1145.4,822.8 1146.3,823.8C1147.2,824.7 1148.1,825.7 1149,826.7C1149.9,827.7 1150.8,828.7 1151.8,829.6C1152.7,830.6 1153.6,831.6 1154.5,832.6C1155.4,833.6 1156.3,834.5 1157.2,835.5C1158.1,836.5 1159,837.5 1160,838.4C1160.9,839.4 1161.8,840.4 1162.7,841.3C1163.7,842.3 1164.6,843.2 1165.5,844.2C1166.5,845.1 1167.4,846.1 1168.4,847C1169.3,848 1170.3,848.9 1171.2,849.8C1172.2,850.8 1173.1,851.7 1174.1,852.6C1175.1,853.5 1176.1,854.5 1177,855.4C1178,856.3 1179,857.2 1180,858C1181,858.9 1182,859.8 1183,860.7C1184,861.6 1185.1,862.4 1186.1,863.3C1187.1,864.1 1188.1,865 1189.2,865.8C1190.2,866.6 1191.3,867.4 1192.4,868.3C1193.4,869.1 1194.5,869.9 1195.6,870.6C1196.7,871.4 1197.8,872.2 1198.9,872.9C1200,873.7 1201.1,874.4 1202.2,875.1C1203.3,875.9 1204.5,876.6 1205.6,877.2C1206.8,877.9 1207.9,878.6 1209.1,879.2C1210.3,879.9 1211.4,880.5 1212.6,881.1C1213.8,881.7 1215,882.3 1216.2,882.9C1217.5,883.4 1218.7,884 1219.9,884.5C1221.1,885 1222.4,885.5 1223.6,886C1224.9,886.4 1226.1,886.9 1227.4,887.3C1228.7,887.7 1230,888.1 1231.2,888.5C1232.5,888.9 1233.8,889.2 1235.1,889.6C1236.4,889.9 1237.7,890.2 1239,890.5C1240.3,890.8 1241.6,891 1242.9,891.3C1244.2,891.5 1245.6,891.8 1246.9,892C1248.2,892.2 1249.5,892.4 1250.9,892.5C1252.2,892.7 1253.5,892.9 1254.8,893C1256.2,893.1 1257.5,893.2 1258.8,893.3C1260.2,893.4 1261.5,893.5 1262.8,893.6C1264.2,893.7 1265.5,893.7 1266.8,893.8C1268.2,893.8 1269.5,893.8 1270.8,893.8C1272.2,893.9 1273.5,893.9 1274.8,893.8C1276.2,893.8 1277.5,893.8 1278.9,893.8C1280.2,893.7 1281.5,893.7 1282.9,893.6C1284.2,893.5 1285.5,893.5 1286.9,893.4C1288.2,893.3 1289.5,893.2 1290.9,893.1C1292.2,893 1293.5,892.9 1294.9,892.8C1296.2,892.6 1297.5,892.5 1298.8,892.3C1300.2,892.2 1301.5,892 1302.8,891.9C1304.1,891.7 1305.5,891.5 1306.8,891.4C1308.1,891.2 1309.4,891 1310.8,890.8C1312.1,890.6 1313.4,890.4 1314.7,890.1C1316,889.9 1317.4,889.7 1318.7,889.5C1320,889.2 1321.3,889 1322.6,888.7C1323.9,888.5 1325.2,888.2 1326.5,888C1327.9,887.7 1329.2,887.4 1330.5,887.1C1331.8,886.9 1333.1,886.6 1334.4,886.3C1335.7,886 1337,885.7 1338.3,885.4C1339.6,885.1 1340.9,884.7 1342.2,884.4C1343.5,884.1 1344.8,883.8 1346.1,883.4C1347.4,883.1 1348.7,882.8 1350,882.4C1351.2,882.1 1352.5,881.7 1353.8,881.4C1355.1,881 1356.4,880.7 1357.7,880.3C1359,880 1360.3,879.6 1361.5,879.2C1362.8,878.8 1364.1,878.5 1365.4,878.1C1366.7,877.7 1367.9,877.3 1369.2,876.9C1370.5,876.6 1371.8,876.2 1373.1,875.8C1374.3,875.4 1375.6,875 1376.9,874.6C1378.2,874.2 1379.4,873.8 1380.7,873.4C1382,873 1383.2,872.6 1384.5,872.1C1385.8,871.7 1387.1,871.3 1388.3,870.9C1389.6,870.5 1390.9,870.1 1392.1,869.7C1393.4,869.2 1394.7,868.8 1395.9,868.4C1397.2,868 1398.5,867.5 1399.7,867.1C1401,866.7 1402.3,866.3 1403.5,865.8C1404.8,865.4 1406.1,865 1407.3,864.6C1408.6,864.1 1409.9,863.7 1411.1,863.3C1412.4,862.8 1413.7,862.4 1414.9,862C1416.2,861.6 1417.5,861.1 1418.7,860.7C1420,860.3 1421.3,859.9 1422.5,859.4C1423.8,859 1425.1,858.6 1426.3,858.1C1427.6,857.7 1428.9,857.3 1430.1,856.9C1431.4,856.5 1432.7,856 1433.9,855.6C1435.2,855.2 1436.5,854.8 1437.7,854.4C1439,853.9 1440.3,853.5 1441.6,853.1C1442.8,852.7 1444.1,852.3 1445.4,851.9C1446.6,851.5 1447.9,851.1 1449.2,850.7C1450.5,850.3 1451.7,849.9 1453,849.5C1454.3,849.1 1455.6,848.7 1456.9,848.3C1458.1,847.9 1459.4,847.5 1460.7,847.2C1462,846.8 1463.3,846.4 1464.5,846C1465.8,845.7 1467.1,845.3 1468.4,844.9C1469.7,844.6 1471,844.2 1472.3,843.9C1473.5,843.5 1474.8,843.2 1476.1,842.8C1477.4,842.5 1479.4,842 1480,841.8" stroke="#b8509f" stroke-width="5.8"/></g><path d="M1377.5,787.5H1433.4" stroke="#168246" stroke-width="1.0" opacity="0.7"/><rect x="1403.4" y="785.4" width="4.2" height="4.2" fill="#168246"/><path d="M1377.5,824.6H1433.4" stroke="#b8509f" stroke-width="1.0" opacity="0.7"/><circle cx="1405.5" cy="824.6" r="2.2" fill="#b8509f"/><text x="1439.1" y="796.5" font-size="25">S</text><text x="1456" y="804.5" font-size="15.5">1</text><text x="1439.1" y="833.6" font-size="25">S</text><text x="1456" y="841.6" font-size="15.5">2</text>
<text transform="translate(104.5,1127.9) scale(1.053,1)" font-size="40">(e)</text><text x="570.1" y="1065.6" font-size="33" font-style="italic">d</text><text x="588.4" y="1076.6" font-size="20">2</text><text x="598.1" y="1065.6" font-size="33" textLength="128" lengthAdjust="spacingAndGlyphs">=220 nm</text><rect x="101.3" y="994.2" width="626.6" height="167.8" fill="none" stroke="#000" stroke-width="2.5"/><path d="M93,1144.3H101.3M93,1109H101.3M93,1073.7H101.3M93,1038.4H101.3M93,1003H101.3M96.6,1162H101.3M96.6,1126.7H101.3M96.6,1091.3H101.3M96.6,1056H101.3M96.6,1020.7H101.3M101.3,1162V1170.2M179.6,1162V1166.3M257.9,1162V1170.2M336.3,1162V1166.3M414.6,1162V1170.2M492.9,1162V1166.3M571.2,1162V1170.2M649.6,1162V1166.3M727.9,1162V1170.2" stroke="#000" stroke-width="2.2" fill="none"/><text x="89" y="1152.4" font-size="23" font-weight="bold" text-anchor="end">-0.8</text><text x="89" y="1117.1" font-size="23" font-weight="bold" text-anchor="end">-0.4</text><text x="89" y="1081.8" font-size="23" font-weight="bold" text-anchor="end">0.0</text><text x="89" y="1046.5" font-size="23" font-weight="bold" text-anchor="end">0.4</text><text x="89" y="1011.1" font-size="23" font-weight="bold" text-anchor="end">0.8</text><text x="101.3" y="1192" font-size="24" font-weight="bold" text-anchor="middle">230</text><text x="257.9" y="1192" font-size="24" font-weight="bold" text-anchor="middle">232</text><text x="414.6" y="1192" font-size="24" font-weight="bold" text-anchor="middle">234</text><text x="571.2" y="1192" font-size="24" font-weight="bold" text-anchor="middle">236</text><text x="727.9" y="1192" font-size="24" font-weight="bold" text-anchor="middle">238</text><text x="415.4" y="1225.6" font-size="32" text-anchor="middle" textLength="265.5" lengthAdjust="spacingAndGlyphs">Frequency (THz)</text><text transform="translate(22.8,1084.5) rotate(-90)" font-size="31.7" text-anchor="middle">Real</text><g clip-path="url(#c4L)" fill="none" stroke-linejoin="round"><path d="M101.3,1142.4C102,1142.4 104,1142.3 105.3,1142.2C106.7,1142.1 108,1142 109.4,1141.9C110.7,1141.9 112.1,1141.8 113.4,1141.7C114.8,1141.6 116.1,1141.5 117.4,1141.5C118.8,1141.4 120.1,1141.3 121.5,1141.2C122.8,1141.1 124.2,1141 125.5,1140.9C126.9,1140.9 128.2,1140.8 129.5,1140.7C130.9,1140.6 132.2,1140.5 133.6,1140.4C134.9,1140.3 136.3,1140.2 137.6,1140.1C139,1140 140.3,1139.9 141.6,1139.8C143,1139.7 144.3,1139.6 145.7,1139.5C147,1139.4 148.4,1139.3 149.7,1139.2C151.1,1139.1 152.4,1139 153.7,1138.8C155.1,1138.7 156.4,1138.6 157.8,1138.5C159.1,1138.4 160.5,1138.3 161.8,1138.2C163.1,1138 164.5,1137.9 165.8,1137.8C167.2,1137.7 168.5,1137.6 169.8,1137.4C171.2,1137.3 172.5,1137.2 173.9,1137.1C175.2,1136.9 176.6,1136.8 177.9,1136.7C179.2,1136.5 180.6,1136.4 181.9,1136.3C183.3,1136.1 184.6,1136 185.9,1135.8C187.3,1135.7 188.6,1135.6 190,1135.4C191.3,1135.3 192.6,1135.1 194,1135C195.3,1134.8 196.7,1134.7 198,1134.5C199.3,1134.4 200.7,1134.2 202,1134.1C203.4,1133.9 204.7,1133.8 206,1133.6C207.4,1133.4 208.7,1133.3 210,1133.1C211.4,1132.9 212.7,1132.8 214.1,1132.6C215.4,1132.4 216.7,1132.3 218.1,1132.1C219.4,1131.9 220.7,1131.8 222.1,1131.6C223.4,1131.4 224.7,1131.2 226.1,1131C227.4,1130.9 228.8,1130.7 230.1,1130.5C231.4,1130.3 232.8,1130.1 234.1,1129.9C235.4,1129.7 236.8,1129.6 238.1,1129.4C239.4,1129.2 240.8,1129 242.1,1128.8C243.4,1128.6 244.8,1128.4 246.1,1128.2C247.4,1128 248.8,1127.8 250.1,1127.5C251.4,1127.3 252.7,1127.1 254.1,1126.9C255.4,1126.7 256.7,1126.5 258.1,1126.3C259.4,1126.1 260.7,1125.8 262.1,1125.6C263.4,1125.4 264.7,1125.2 266,1124.9C267.4,1124.7 268.7,1124.5 270,1124.3C271.4,1124 272.7,1123.8 274,1123.5C275.3,1123.3 276.7,1123.1 278,1122.8C279.3,1122.6 280.6,1122.3 282,1122.1C283.3,1121.8 284.6,1121.6 285.9,1121.3C287.3,1121.1 288.6,1120.8 289.9,1120.6C291.2,1120.3 292.6,1120.1 293.9,1119.8C295.2,1119.5 296.5,1119.3 297.8,1119C299.2,1118.7 300.5,1118.5 301.8,1118.2C303.1,1117.9 304.4,1117.6 305.8,1117.4C307.1,1117.1 308.4,1116.8 309.7,1116.5C311,1116.2 312.3,1116 313.7,1115.7C315,1115.4 316.3,1115.1 317.6,1114.8C318.9,1114.5 320.2,1114.2 321.6,1113.9C322.9,1113.6 324.2,1113.3 325.5,1113C326.8,1112.7 328.1,1112.4 329.4,1112.1C330.7,1111.7 332,1111.4 333.4,1111.1C334.7,1110.8 336,1110.5 337.3,1110.2C338.6,1109.8 339.9,1109.5 341.2,1109.2C342.5,1108.8 343.8,1108.5 345.1,1108.2C346.4,1107.8 347.7,1107.5 349,1107.1C350.3,1106.8 351.6,1106.4 352.9,1106.1C354.2,1105.7 355.5,1105.3 356.8,1105C358.1,1104.6 359.4,1104.2 360.7,1103.8C362,1103.4 363.3,1103 364.6,1102.6C365.8,1102.2 367.1,1101.8 368.4,1101.4C369.7,1100.9 371,1100.5 372.2,1100.1C373.5,1099.6 374.8,1099.2 376,1098.7C377.3,1098.2 378.6,1097.8 379.8,1097.3C381.1,1096.8 382.3,1096.3 383.6,1095.8C384.8,1095.3 386.1,1094.7 387.3,1094.2C388.5,1093.7 389.8,1093.1 391,1092.6C392.2,1092 393.4,1091.4 394.6,1090.8C395.9,1090.2 397.1,1089.6 398.3,1089C399.5,1088.4 400.6,1087.8 401.8,1087.1C403,1086.4 404.2,1085.8 405.3,1085C406.4,1084.3 407.5,1083.5 408.6,1082.7C409.6,1081.9 410.7,1081 411.6,1080C412.6,1079.1 413.9,1077.5 414.3,1077M414.3,1077C414.7,1077.5 415.9,1079.1 416.8,1080.2C417.6,1081.2 418.5,1082.2 419.4,1083.2C420.4,1084.2 421.3,1085.2 422.3,1086.1C423.2,1087 424.2,1087.9 425.2,1088.8C426.2,1089.7 427.3,1090.6 428.3,1091.4C429.4,1092.2 430.5,1093 431.5,1093.8C432.6,1094.6 433.7,1095.4 434.8,1096.2C436,1096.9 437.1,1097.6 438.2,1098.3C439.4,1099.1 440.5,1099.8 441.7,1100.4C442.8,1101.1 444,1101.8 445.2,1102.4C446.4,1103.1 447.5,1103.7 448.7,1104.4C449.9,1105 451.1,1105.6 452.3,1106.2C453.5,1106.9 454.7,1107.5 455.9,1108.1C457.1,1108.7 458.3,1109.3 459.5,1109.8C460.7,1110.4 461.9,1111 463.2,1111.6C464.4,1112.1 465.6,1112.7 466.8,1113.2C468.1,1113.8 469.3,1114.3 470.5,1114.9C471.8,1115.4 473,1115.9 474.2,1116.5C475.5,1117 476.7,1117.5 478,1118C479.2,1118.5 480.4,1119 481.7,1119.5C483,1120 484.2,1120.5 485.5,1120.9C486.7,1121.4 488,1121.9 489.2,1122.4C490.5,1122.8 491.8,1123.3 493,1123.7C494.3,1124.2 495.6,1124.6 496.8,1125.1C498.1,1125.5 499.4,1125.9 500.7,1126.3C501.9,1126.8 503.2,1127.2 504.5,1127.6C505.8,1128 507.1,1128.4 508.3,1128.8C509.6,1129.2 510.9,1129.6 512.2,1130C513.5,1130.4 514.8,1130.7 516.1,1131.1C517.4,1131.5 518.7,1131.8 520,1132.2C521.3,1132.6 522.6,1132.9 523.9,1133.3C525.2,1133.6 526.5,1133.9 527.8,1134.3C529.1,1134.6 530.4,1134.9 531.7,1135.3C533,1135.6 534.3,1135.9 535.6,1136.2C536.9,1136.5 538.2,1136.8 539.5,1137.1C540.8,1137.4 542.1,1137.7 543.5,1138C544.8,1138.3 546.1,1138.6 547.4,1138.8C548.7,1139.1 550,1139.4 551.4,1139.6C552.7,1139.9 554,1140.2 555.3,1140.4C556.6,1140.7 558,1140.9 559.3,1141.2C560.6,1141.4 561.9,1141.6 563.2,1141.9C564.6,1142.1 565.9,1142.3 567.2,1142.6C568.5,1142.8 569.9,1143 571.2,1143.2C572.5,1143.4 573.9,1143.6 575.2,1143.8C576.5,1144 577.8,1144.2 579.2,1144.4C580.5,1144.6 581.8,1144.8 583.2,1145C584.5,1145.2 585.8,1145.4 587.2,1145.5C588.5,1145.7 589.8,1145.9 591.2,1146.1C592.5,1146.2 593.8,1146.4 595.2,1146.6C596.5,1146.7 597.8,1146.9 599.2,1147C600.5,1147.2 601.8,1147.3 603.2,1147.5C604.5,1147.6 605.9,1147.8 607.2,1147.9C608.5,1148 609.9,1148.2 611.2,1148.3C612.5,1148.4 613.9,1148.5 615.2,1148.7C616.6,1148.8 617.9,1148.9 619.2,1149C620.6,1149.1 621.9,1149.3 623.3,1149.4C624.6,1149.5 625.9,1149.6 627.3,1149.7C628.6,1149.8 630,1149.9 631.3,1150C632.6,1150.1 634,1150.2 635.3,1150.3C636.7,1150.4 638,1150.5 639.3,1150.6C640.7,1150.6 642,1150.7 643.4,1150.8C644.7,1150.9 646.1,1151 647.4,1151C648.7,1151.1 650.1,1151.2 651.4,1151.3C652.8,1151.4 654.1,1151.4 655.4,1151.5C656.8,1151.6 658.1,1151.6 659.5,1151.7C660.8,1151.8 662.2,1151.8 663.5,1151.9C664.8,1152 666.2,1152 667.5,1152.1C668.9,1152.1 670.2,1152.2 671.6,1152.2C672.9,1152.3 674.3,1152.4 675.6,1152.4C676.9,1152.5 678.3,1152.5 679.6,1152.6C681,1152.6 682.3,1152.7 683.7,1152.7C685,1152.8 686.3,1152.8 687.7,1152.9C689,1152.9 690.4,1152.9 691.7,1153C693.1,1153 694.4,1153.1 695.7,1153.1C697.1,1153.2 698.4,1153.2 699.8,1153.2C701.1,1153.3 702.5,1153.3 703.8,1153.4C705.2,1153.4 706.5,1153.5 707.8,1153.5C709.2,1153.5 710.5,1153.6 711.9,1153.6C713.2,1153.7 714.6,1153.7 715.9,1153.7C717.2,1153.8 718.6,1153.8 719.9,1153.9C721.3,1153.9 722.6,1153.9 724,1154C725.3,1154 727.3,1154.1 728,1154.1" stroke="#168246" stroke-width="4.4"/><path d="M101.3,1002.7C102,1002.7 104,1002.7 105.3,1002.7C106.6,1002.6 108,1002.6 109.3,1002.6C110.7,1002.6 112,1002.6 113.3,1002.6C114.7,1002.6 116,1002.6 117.3,1002.6C118.7,1002.6 120,1002.6 121.3,1002.6C122.7,1002.6 124,1002.6 125.4,1002.6C126.7,1002.6 128,1002.6 129.4,1002.6C130.7,1002.6 132,1002.6 133.4,1002.6C134.7,1002.6 136,1002.6 137.4,1002.6C138.7,1002.6 140.1,1002.6 141.4,1002.6C142.7,1002.6 144.1,1002.7 145.4,1002.7C146.7,1002.7 148.1,1002.7 149.4,1002.7C150.7,1002.8 152.1,1002.8 153.4,1002.8C154.8,1002.8 156.1,1002.9 157.4,1002.9C158.8,1002.9 160.1,1002.9 161.4,1003C162.8,1003 164.1,1003 165.4,1003.1C166.8,1003.1 168.1,1003.2 169.5,1003.2C170.8,1003.3 172.1,1003.3 173.5,1003.3C174.8,1003.4 176.1,1003.4 177.5,1003.5C178.8,1003.6 180.1,1003.6 181.5,1003.7C182.8,1003.7 184.1,1003.8 185.5,1003.9C186.8,1003.9 188.1,1004 189.5,1004.1C190.8,1004.1 192.1,1004.2 193.5,1004.3C194.8,1004.4 196.2,1004.4 197.5,1004.5C198.8,1004.6 200.2,1004.7 201.5,1004.8C202.8,1004.9 204.2,1004.9 205.5,1005C206.8,1005.1 208.2,1005.2 209.5,1005.3C210.8,1005.4 212.2,1005.5 213.5,1005.7C214.8,1005.8 216.1,1005.9 217.5,1006C218.8,1006.1 220.1,1006.2 221.5,1006.3C222.8,1006.5 224.1,1006.6 225.5,1006.7C226.8,1006.9 228.1,1007 229.5,1007.1C230.8,1007.3 232.1,1007.4 233.4,1007.5C234.8,1007.7 236.1,1007.8 237.4,1008C238.8,1008.1 240.1,1008.3 241.4,1008.5C242.7,1008.6 244.1,1008.8 245.4,1009C246.7,1009.1 248,1009.3 249.4,1009.5C250.7,1009.7 252,1009.8 253.3,1010C254.7,1010.2 256,1010.4 257.3,1010.6C258.6,1010.8 259.9,1011 261.3,1011.2C262.6,1011.4 263.9,1011.6 265.2,1011.8C266.5,1012 267.9,1012.2 269.2,1012.5C270.5,1012.7 271.8,1012.9 273.1,1013.1C274.5,1013.4 275.8,1013.6 277.1,1013.8C278.4,1014.1 279.7,1014.3 281,1014.6C282.3,1014.8 283.6,1015.1 285,1015.3C286.3,1015.6 287.6,1015.9 288.9,1016.1C290.2,1016.4 291.5,1016.7 292.8,1016.9C294.1,1017.2 295.4,1017.5 296.7,1017.8C298,1018.1 299.3,1018.4 300.6,1018.7C301.9,1019 303.2,1019.3 304.5,1019.6C305.8,1019.9 307.1,1020.2 308.4,1020.5C309.7,1020.9 311,1021.2 312.3,1021.5C313.6,1021.8 314.9,1022.2 316.2,1022.5C317.5,1022.9 318.8,1023.2 320.1,1023.6C321.4,1023.9 322.7,1024.3 323.9,1024.6C325.2,1025 326.5,1025.4 327.8,1025.7C329.1,1026.1 330.4,1026.5 331.6,1026.9C332.9,1027.3 334.2,1027.7 335.5,1028.1C336.7,1028.5 338,1028.9 339.3,1029.3C340.5,1029.8 341.8,1030.2 343.1,1030.6C344.3,1031.1 345.6,1031.5 346.9,1032C348.1,1032.4 349.4,1032.9 350.6,1033.4C351.9,1033.8 353.1,1034.3 354.4,1034.8C355.6,1035.3 356.8,1035.8 358.1,1036.3C359.3,1036.8 360.5,1037.3 361.8,1037.9C363,1038.4 364.2,1038.9 365.4,1039.5C366.7,1040 367.9,1040.6 369.1,1041.2C370.3,1041.7 371.5,1042.3 372.7,1042.9C373.9,1043.5 375.1,1044.1 376.3,1044.7C377.4,1045.4 378.6,1046 379.8,1046.6C381,1047.3 382.1,1047.9 383.3,1048.6C384.4,1049.2 385.6,1049.9 386.7,1050.6C387.9,1051.3 389,1052 390.2,1052.7C391.3,1053.4 392.4,1054.2 393.5,1054.9C394.6,1055.7 395.7,1056.4 396.8,1057.2C397.9,1058 399,1058.8 400,1059.6C401.1,1060.4 402.1,1061.3 403.1,1062.1C404.1,1063 405.1,1063.9 406.1,1064.8C407.1,1065.7 408.1,1066.6 409,1067.6C409.9,1068.5 410.9,1069.5 411.7,1070.5C412.6,1071.5 413.9,1073.1 414.3,1073.6M414.3,1073.6C414.7,1073.1 415.9,1071.5 416.8,1070.4C417.7,1069.4 418.6,1068.4 419.6,1067.5C420.5,1066.5 421.5,1065.6 422.5,1064.8C423.5,1063.9 424.6,1063.1 425.7,1062.3C426.7,1061.4 427.9,1060.7 429,1059.9C430.1,1059.2 431.2,1058.5 432.4,1057.8C433.6,1057.1 434.7,1056.5 435.9,1055.9C437.1,1055.2 438.3,1054.6 439.5,1054.1C440.7,1053.5 442,1052.9 443.2,1052.4C444.4,1051.8 445.7,1051.3 446.9,1050.8C448.1,1050.3 449.4,1049.8 450.6,1049.3C451.9,1048.8 453.1,1048.3 454.4,1047.8C455.6,1047.3 456.9,1046.8 458.2,1046.4C459.4,1045.9 460.7,1045.4 461.9,1045C463.2,1044.5 464.5,1044.1 465.7,1043.6C467,1043.2 468.3,1042.7 469.5,1042.3C470.8,1041.9 472.1,1041.4 473.4,1041C474.6,1040.6 475.9,1040.2 477.2,1039.8C478.5,1039.3 479.8,1038.9 481,1038.5C482.3,1038.1 483.6,1037.7 484.9,1037.3C486.2,1037 487.5,1036.6 488.8,1036.2C490,1035.8 491.3,1035.4 492.6,1035.1C493.9,1034.7 495.2,1034.3 496.5,1034C497.8,1033.6 499.1,1033.3 500.4,1032.9C501.7,1032.6 503,1032.2 504.3,1031.9C505.6,1031.6 506.9,1031.2 508.2,1030.9C509.5,1030.6 510.8,1030.2 512.1,1029.9C513.4,1029.6 514.7,1029.3 516,1029C517.3,1028.7 518.6,1028.3 520,1028C521.3,1027.7 522.6,1027.4 523.9,1027.1C525.2,1026.8 526.5,1026.6 527.8,1026.3C529.1,1026 530.4,1025.7 531.8,1025.4C533.1,1025.1 534.4,1024.9 535.7,1024.6C537,1024.3 538.3,1024.1 539.7,1023.8C541,1023.5 542.3,1023.3 543.6,1023C544.9,1022.8 546.3,1022.5 547.6,1022.2C548.9,1022 550.2,1021.8 551.5,1021.5C552.9,1021.3 554.2,1021 555.5,1020.8C556.8,1020.6 558.2,1020.3 559.5,1020.1C560.8,1019.9 562.1,1019.6 563.4,1019.4C564.8,1019.2 566.1,1019 567.4,1018.8C568.8,1018.5 570.1,1018.3 571.4,1018.1C572.7,1017.9 574.1,1017.7 575.4,1017.5C576.7,1017.3 578,1017.1 579.4,1016.9C580.7,1016.7 582,1016.5 583.4,1016.3C584.7,1016.1 586,1015.9 587.4,1015.8C588.7,1015.6 590,1015.4 591.4,1015.2C592.7,1015 594,1014.9 595.4,1014.7C596.7,1014.5 598,1014.3 599.4,1014.2C600.7,1014 602,1013.8 603.4,1013.7C604.7,1013.5 606,1013.4 607.4,1013.2C608.7,1013.1 610,1012.9 611.4,1012.8C612.7,1012.6 614,1012.5 615.4,1012.3C616.7,1012.2 618,1012 619.4,1011.9C620.7,1011.7 622.1,1011.6 623.4,1011.5C624.7,1011.3 626.1,1011.2 627.4,1011.1C628.7,1011 630.1,1010.8 631.4,1010.7C632.8,1010.6 634.1,1010.5 635.4,1010.3C636.8,1010.2 638.1,1010.1 639.4,1010C640.8,1009.9 642.1,1009.8 643.5,1009.6C644.8,1009.5 646.1,1009.4 647.5,1009.3C648.8,1009.2 650.2,1009.1 651.5,1009C652.8,1008.9 654.2,1008.8 655.5,1008.7C656.9,1008.6 658.2,1008.5 659.5,1008.4C660.9,1008.3 662.2,1008.2 663.6,1008.2C664.9,1008.1 666.2,1008 667.6,1007.9C668.9,1007.8 670.3,1007.7 671.6,1007.7C673,1007.6 674.3,1007.5 675.6,1007.4C677,1007.3 678.3,1007.3 679.7,1007.2C681,1007.1 682.3,1007 683.7,1007C685,1006.9 686.4,1006.8 687.7,1006.8C689.1,1006.7 690.4,1006.6 691.7,1006.6C693.1,1006.5 694.4,1006.4 695.8,1006.4C697.1,1006.3 698.5,1006.3 699.8,1006.2C701.1,1006.1 702.5,1006.1 703.8,1006C705.2,1006 706.5,1005.9 707.9,1005.9C709.2,1005.8 710.5,1005.8 711.9,1005.7C713.2,1005.7 714.6,1005.6 715.9,1005.6C717.3,1005.5 718.6,1005.5 719.9,1005.4C721.3,1005.4 722.6,1005.4 724,1005.3C725.3,1005.3 727.3,1005.2 728,1005.2" stroke="#b8509f" stroke-width="5.8"/></g><path d="M632.9,1089.1H688.4" stroke="#168246" stroke-width="1.0" opacity="0.7"/><rect x="658.5" y="1087" width="4.2" height="4.2" fill="#168246"/><path d="M632.9,1126.4H688.4" stroke="#b8509f" stroke-width="1.0" opacity="0.7"/><circle cx="660.6" cy="1126.4" r="2.2" fill="#b8509f"/><text x="694.6" y="1098.1" font-size="25">S</text><text x="711.5" y="1106.1" font-size="15.5">1</text><text x="694.6" y="1135.4" font-size="25">S</text><text x="711.5" y="1143.4" font-size="15.5">2</text>
<text transform="translate(859.9,1127.5) scale(1.056,1)" font-size="40">(e')</text><text x="928.2" y="1124" font-size="33" font-style="italic">d</text><text x="946.5" y="1135" font-size="20">2</text><text x="956.2" y="1124" font-size="33" textLength="128" lengthAdjust="spacingAndGlyphs">=220 nm</text><rect x="854" y="994.2" width="626" height="167.8" fill="none" stroke="#000" stroke-width="2.5"/><path d="M845.7,1162H854M845.7,1120H854M845.7,1078.1H854M845.7,1036.2H854M845.7,994.2H854M849.3,1141H854M849.3,1099.1H854M849.3,1057.1H854M849.3,1015.2H854M854,1162V1170.2M932.2,1162V1166.3M1010.5,1162V1170.2M1088.8,1162V1166.3M1167,1162V1170.2M1245.2,1162V1166.3M1323.5,1162V1170.2M1401.8,1162V1166.3M1480,1162V1170.2" stroke="#000" stroke-width="2.2" fill="none"/><text x="841.7" y="1170.1" font-size="23" font-weight="bold" text-anchor="end">-0.6</text><text x="841.7" y="1128.1" font-size="23" font-weight="bold" text-anchor="end">-0.4</text><text x="841.7" y="1086.2" font-size="23" font-weight="bold" text-anchor="end">-0.2</text><text x="841.7" y="1044.2" font-size="23" font-weight="bold" text-anchor="end">0.0</text><text x="841.7" y="1002.3" font-size="23" font-weight="bold" text-anchor="end">0.2</text><text x="854" y="1192" font-size="24" font-weight="bold" text-anchor="middle">230</text><text x="1010.5" y="1192" font-size="24" font-weight="bold" text-anchor="middle">232</text><text x="1167" y="1192" font-size="24" font-weight="bold" text-anchor="middle">234</text><text x="1323.5" y="1192" font-size="24" font-weight="bold" text-anchor="middle">236</text><text x="1480" y="1192" font-size="24" font-weight="bold" text-anchor="middle">238</text><text x="1167.8" y="1229.5" font-size="32" text-anchor="middle" textLength="265.5" lengthAdjust="spacingAndGlyphs">Frequency (THz)</text><text transform="translate(782.8,1090.8) rotate(-90)" font-size="31.7" text-anchor="middle">Imag</text><g clip-path="url(#c4R)" fill="none" stroke-linejoin="round"><path d="M854,1138.1C854.7,1138.1 856.7,1138.3 858,1138.4C859.3,1138.5 860.7,1138.6 862,1138.7C863.3,1138.8 864.7,1138.8 866,1138.9C867.3,1139 868.6,1139.1 870,1139.2C871.3,1139.3 872.6,1139.4 874,1139.5C875.3,1139.6 876.6,1139.7 878,1139.8C879.3,1139.9 880.6,1140 882,1140.1C883.3,1140.2 884.6,1140.3 886,1140.4C887.3,1140.5 888.6,1140.6 889.9,1140.7C891.3,1140.8 892.6,1140.9 893.9,1141C895.3,1141.1 896.6,1141.2 897.9,1141.3C899.3,1141.4 900.6,1141.5 901.9,1141.6C903.3,1141.7 904.6,1141.8 905.9,1141.9C907.3,1141.9 908.6,1142 909.9,1142.1C911.3,1142.2 912.6,1142.3 913.9,1142.4C915.2,1142.5 916.6,1142.6 917.9,1142.7C919.2,1142.8 920.6,1142.9 921.9,1142.9C923.2,1143 924.6,1143.1 925.9,1143.2C927.2,1143.3 928.6,1143.4 929.9,1143.4C931.2,1143.5 932.6,1143.6 933.9,1143.7C935.2,1143.8 936.6,1143.8 937.9,1143.9C939.2,1144 940.6,1144.1 941.9,1144.1C943.2,1144.2 944.6,1144.3 945.9,1144.3C947.2,1144.4 948.6,1144.5 949.9,1144.5C951.2,1144.6 952.6,1144.7 953.9,1144.7C955.2,1144.8 956.6,1144.8 957.9,1144.9C959.2,1145 960.6,1145 961.9,1145.1C963.2,1145.1 964.6,1145.2 965.9,1145.2C967.2,1145.3 968.6,1145.3 969.9,1145.3C971.2,1145.4 972.6,1145.4 973.9,1145.4C975.2,1145.5 976.6,1145.5 977.9,1145.5C979.2,1145.6 980.6,1145.6 981.9,1145.6C983.2,1145.6 984.6,1145.7 985.9,1145.7C987.2,1145.7 988.6,1145.7 989.9,1145.7C991.3,1145.7 992.6,1145.7 993.9,1145.8C995.3,1145.8 996.6,1145.8 997.9,1145.8C999.3,1145.8 1000.6,1145.7 1001.9,1145.7C1003.3,1145.7 1004.6,1145.7 1005.9,1145.7C1007.3,1145.7 1008.6,1145.7 1009.9,1145.6C1011.3,1145.6 1012.6,1145.6 1013.9,1145.5C1015.3,1145.5 1016.6,1145.5 1017.9,1145.4C1019.3,1145.4 1020.6,1145.3 1021.9,1145.3C1023.3,1145.2 1024.6,1145.2 1025.9,1145.1C1027.3,1145.1 1028.6,1145 1030,1145C1031.3,1144.9 1032.6,1144.8 1033.9,1144.7C1035.3,1144.7 1036.6,1144.6 1037.9,1144.5C1039.3,1144.4 1040.6,1144.3 1041.9,1144.2C1043.3,1144.1 1044.6,1144 1045.9,1143.9C1047.3,1143.8 1048.6,1143.7 1049.9,1143.6C1051.3,1143.5 1052.6,1143.4 1053.9,1143.2C1055.2,1143.1 1056.6,1143 1057.9,1142.9C1059.2,1142.7 1060.6,1142.6 1061.9,1142.4C1063.2,1142.3 1064.5,1142.1 1065.9,1142C1067.2,1141.8 1068.5,1141.7 1069.8,1141.5C1071.2,1141.3 1072.5,1141.2 1073.8,1141C1075.1,1140.8 1076.5,1140.6 1077.8,1140.4C1079.1,1140.3 1080.4,1140.1 1081.7,1139.9C1083.1,1139.7 1084.4,1139.5 1085.7,1139.3C1087,1139 1088.3,1138.8 1089.6,1138.6C1091,1138.4 1092.3,1138.1 1093.6,1137.9C1094.9,1137.7 1096.2,1137.4 1097.5,1137.2C1098.8,1136.9 1100.1,1136.6 1101.4,1136.3C1102.7,1136.1 1104.1,1135.8 1105.3,1135.4C1106.6,1135.1 1107.9,1134.8 1109.2,1134.4C1110.5,1134.1 1111.8,1133.7 1113.1,1133.3C1114.4,1133 1115.6,1132.6 1116.9,1132.1C1118.2,1131.7 1119.4,1131.2 1120.7,1130.8C1121.9,1130.3 1123.1,1129.8 1124.4,1129.3C1125.6,1128.7 1126.8,1128.2 1128,1127.6C1129.2,1127 1130.4,1126.4 1131.6,1125.8C1132.7,1125.1 1133.9,1124.4 1135,1123.7C1136.1,1123 1137.3,1122.3 1138.3,1121.5C1139.4,1120.7 1140.5,1119.9 1141.5,1119.1C1142.6,1118.2 1143.6,1117.4 1144.6,1116.5C1145.6,1115.6 1146.5,1114.6 1147.4,1113.7C1148.4,1112.7 1149.3,1111.7 1150.2,1110.7C1151,1109.7 1151.9,1108.7 1152.7,1107.6C1153.5,1106.6 1154.3,1105.5 1155,1104.4C1155.8,1103.3 1156.5,1102.1 1157.1,1101C1157.8,1099.8 1158.5,1098.7 1159.1,1097.5C1159.7,1096.3 1160.2,1095.1 1160.8,1093.8C1161.3,1092.6 1161.8,1091.4 1162.2,1090.1C1162.7,1088.9 1163.1,1087.6 1163.4,1086.3C1163.8,1085 1164.2,1083.7 1164.5,1082.4C1164.8,1081.1 1165.1,1079.8 1165.4,1078.5C1165.7,1077.2 1166,1075.9 1166.2,1074.6C1166.5,1073.3 1166.8,1072 1167,1070.7C1167.3,1069.4 1167.6,1068.1 1167.9,1066.8C1168.2,1065.5 1168.4,1064.2 1168.8,1062.9C1169.1,1061.6 1169.4,1060.3 1169.8,1059C1170.2,1057.7 1170.6,1056.5 1171,1055.2C1171.5,1053.9 1172,1052.7 1172.5,1051.5C1173,1050.2 1173.5,1049 1174.1,1047.8C1174.7,1046.6 1175.3,1045.4 1176,1044.2C1176.6,1043.1 1177.3,1041.9 1178,1040.8C1178.7,1039.7 1179.4,1038.6 1180.2,1037.5C1181,1036.4 1181.8,1035.3 1182.6,1034.3C1183.5,1033.2 1184.3,1032.2 1185.2,1031.2C1186.1,1030.2 1187,1029.3 1188,1028.3C1188.9,1027.4 1189.9,1026.5 1190.9,1025.6C1192,1024.8 1193,1023.9 1194.1,1023.1C1195.1,1022.3 1196.2,1021.6 1197.3,1020.8C1198.5,1020.1 1199.6,1019.4 1200.8,1018.7C1201.9,1018.1 1203.1,1017.4 1204.3,1016.8C1205.5,1016.3 1206.7,1015.7 1207.9,1015.2C1209.1,1014.6 1210.4,1014.1 1211.6,1013.6C1212.9,1013.2 1214.1,1012.7 1215.4,1012.3C1216.7,1011.9 1218,1011.5 1219.2,1011.1C1220.5,1010.8 1221.8,1010.4 1223.1,1010.1C1224.4,1009.8 1225.7,1009.5 1227,1009.3C1228.3,1009 1229.6,1008.7 1231,1008.5C1232.3,1008.3 1233.6,1008.1 1234.9,1007.9C1236.2,1007.7 1237.6,1007.5 1238.9,1007.4C1240.2,1007.2 1241.5,1007.1 1242.9,1007C1244.2,1006.9 1245.5,1006.8 1246.9,1006.7C1248.2,1006.6 1249.5,1006.5 1250.9,1006.5C1252.2,1006.4 1253.5,1006.4 1254.9,1006.4C1256.2,1006.3 1257.5,1006.3 1258.9,1006.3C1260.2,1006.3 1261.5,1006.3 1262.9,1006.4C1264.2,1006.4 1265.5,1006.4 1266.9,1006.5C1268.2,1006.5 1269.5,1006.6 1270.9,1006.7C1272.2,1006.7 1273.5,1006.8 1274.9,1006.9C1276.2,1007 1277.5,1007.2 1278.9,1007.3C1280.2,1007.4 1281.5,1007.5 1282.8,1007.7C1284.2,1007.8 1285.5,1008 1286.8,1008.1C1288.1,1008.3 1289.5,1008.5 1290.8,1008.6C1292.1,1008.8 1293.4,1009 1294.8,1009.2C1296.1,1009.4 1297.4,1009.6 1298.7,1009.8C1300,1010 1301.3,1010.2 1302.7,1010.5C1304,1010.7 1305.3,1010.9 1306.6,1011.2C1307.9,1011.4 1309.2,1011.6 1310.5,1011.9C1311.9,1012.1 1313.2,1012.4 1314.5,1012.6C1315.8,1012.9 1317.1,1013.2 1318.4,1013.4C1319.7,1013.7 1321,1014 1322.3,1014.2C1323.6,1014.5 1324.9,1014.8 1326.2,1015.1C1327.6,1015.3 1328.9,1015.6 1330.2,1015.9C1331.5,1016.2 1332.8,1016.5 1334.1,1016.8C1335.4,1017 1336.7,1017.3 1338,1017.6C1339.3,1017.9 1340.6,1018.2 1341.9,1018.5C1343.2,1018.8 1344.5,1019.1 1345.8,1019.3C1347.1,1019.6 1348.4,1019.9 1349.7,1020.2C1351,1020.5 1352.3,1020.8 1353.6,1021C1354.9,1021.3 1356.2,1021.6 1357.6,1021.9C1358.9,1022.2 1360.2,1022.4 1361.5,1022.7C1362.8,1023 1364.1,1023.2 1365.4,1023.5C1366.7,1023.8 1368,1024 1369.3,1024.3C1370.6,1024.6 1371.9,1024.8 1373.2,1025.1C1374.6,1025.3 1375.9,1025.6 1377.2,1025.9C1378.5,1026.1 1379.8,1026.4 1381.1,1026.6C1382.4,1026.9 1383.7,1027.1 1385,1027.4C1386.4,1027.6 1387.7,1027.9 1389,1028.1C1390.3,1028.3 1391.6,1028.6 1392.9,1028.8C1394.2,1029.1 1395.5,1029.3 1396.9,1029.5C1398.2,1029.8 1399.5,1030 1400.8,1030.2C1402.1,1030.5 1403.4,1030.7 1404.7,1030.9C1406.1,1031.2 1407.4,1031.4 1408.7,1031.6C1410,1031.8 1411.3,1032.1 1412.6,1032.3C1414,1032.5 1415.3,1032.7 1416.6,1032.9C1417.9,1033.2 1419.2,1033.4 1420.5,1033.6C1421.9,1033.8 1423.2,1034 1424.5,1034.2C1425.8,1034.4 1427.1,1034.6 1428.4,1034.9C1429.8,1035.1 1431.1,1035.3 1432.4,1035.5C1433.7,1035.7 1435,1035.9 1436.4,1036.1C1437.7,1036.3 1439,1036.5 1440.3,1036.7C1441.6,1036.9 1443,1037.1 1444.3,1037.3C1445.6,1037.4 1446.9,1037.6 1448.2,1037.8C1449.6,1038 1450.9,1038.2 1452.2,1038.4C1453.5,1038.6 1454.9,1038.8 1456.2,1039C1457.5,1039.1 1458.8,1039.3 1460.1,1039.5C1461.5,1039.7 1462.8,1039.9 1464.1,1040C1465.4,1040.2 1466.8,1040.4 1468.1,1040.6C1469.4,1040.7 1470.7,1040.9 1472.1,1041.1C1473.4,1041.3 1474.7,1041.4 1476,1041.6C1477.4,1041.8 1479.3,1042 1480,1042.1" stroke="#168246" stroke-width="4.4"/><path d="M854,1098.7C854.6,1098.5 856.5,1097.8 857.8,1097.4C859,1097 860.3,1096.5 861.6,1096.1C862.8,1095.6 864.1,1095.2 865.4,1094.8C866.6,1094.4 867.9,1093.9 869.2,1093.5C870.4,1093.1 871.7,1092.6 873,1092.2C874.2,1091.8 875.5,1091.3 876.7,1090.9C878,1090.5 879.3,1090.1 880.5,1089.6C881.8,1089.2 883.1,1088.8 884.3,1088.4C885.6,1087.9 886.9,1087.5 888.1,1087.1C889.4,1086.7 890.7,1086.2 891.9,1085.8C893.2,1085.4 894.5,1085 895.7,1084.6C897,1084.1 898.3,1083.7 899.5,1083.3C900.8,1082.9 902.1,1082.4 903.3,1082C904.6,1081.6 905.9,1081.2 907.1,1080.7C908.4,1080.3 909.7,1079.9 910.9,1079.5C912.2,1079 913.5,1078.6 914.7,1078.2C916,1077.8 917.3,1077.3 918.5,1076.9C919.8,1076.5 921.1,1076.1 922.3,1075.6C923.6,1075.2 924.9,1074.8 926.1,1074.4C927.4,1073.9 928.7,1073.5 929.9,1073.1C931.2,1072.6 932.4,1072.2 933.7,1071.8C935,1071.3 936.2,1070.9 937.5,1070.5C938.8,1070 940,1069.6 941.3,1069.2C942.6,1068.7 943.8,1068.3 945.1,1067.9C946.3,1067.4 947.6,1067 948.9,1066.5C950.1,1066.1 951.4,1065.6 952.6,1065.2C953.9,1064.8 955.2,1064.3 956.4,1063.9C957.7,1063.4 958.9,1063 960.2,1062.5C961.4,1062.1 962.7,1061.6 964,1061.2C965.2,1060.7 966.5,1060.2 967.7,1059.8C969,1059.3 970.2,1058.9 971.5,1058.4C972.7,1057.9 974,1057.5 975.2,1057C976.5,1056.5 977.7,1056.1 979,1055.6C980.2,1055.1 981.5,1054.7 982.7,1054.2C984,1053.7 985.2,1053.2 986.5,1052.8C987.7,1052.3 989,1051.8 990.2,1051.3C991.5,1050.8 992.7,1050.3 993.9,1049.9C995.2,1049.4 996.4,1048.9 997.7,1048.4C998.9,1047.9 1000.2,1047.4 1001.4,1047C1002.7,1046.5 1003.9,1046 1005.2,1045.5C1006.4,1045 1007.6,1044.5 1008.9,1044.1C1010.1,1043.6 1011.4,1043.1 1012.6,1042.6C1013.9,1042.1 1015.1,1041.7 1016.4,1041.2C1017.6,1040.7 1018.9,1040.2 1020.1,1039.8C1021.4,1039.3 1022.6,1038.8 1023.9,1038.4C1025.1,1037.9 1026.4,1037.4 1027.6,1037C1028.9,1036.5 1030.1,1036.1 1031.4,1035.6C1032.6,1035.1 1033.9,1034.7 1035.2,1034.3C1036.4,1033.8 1037.7,1033.4 1038.9,1032.9C1040.2,1032.5 1041.5,1032.1 1042.7,1031.6C1044,1031.2 1045.3,1030.8 1046.5,1030.4C1047.8,1030 1049.1,1029.5 1050.4,1029.1C1051.6,1028.7 1052.9,1028.3 1054.2,1028C1055.5,1027.6 1056.7,1027.2 1058,1026.8C1059.3,1026.4 1060.6,1026 1061.9,1025.7C1063.1,1025.3 1064.4,1025 1065.7,1024.6C1067,1024.3 1068.3,1023.9 1069.6,1023.6C1070.9,1023.3 1072.2,1023 1073.5,1022.6C1074.8,1022.3 1076.1,1022 1077.4,1021.7C1078.7,1021.4 1080,1021.2 1081.3,1020.9C1082.6,1020.6 1083.9,1020.3 1085.2,1020.1C1086.5,1019.8 1087.9,1019.6 1089.2,1019.4C1090.5,1019.1 1091.8,1018.9 1093.1,1018.7C1094.4,1018.5 1095.8,1018.3 1097.1,1018.2C1098.4,1018 1099.7,1017.9 1101.1,1017.7C1102.4,1017.6 1103.7,1017.5 1105.1,1017.5C1106.4,1017.4 1107.7,1017.3 1109.1,1017.3C1110.4,1017.3 1111.8,1017.4 1113.1,1017.4C1114.4,1017.5 1115.8,1017.6 1117.1,1017.7C1118.4,1017.8 1119.7,1018 1121.1,1018.2C1122.4,1018.4 1123.7,1018.6 1125,1018.9C1126.3,1019.1 1127.6,1019.4 1128.9,1019.8C1130.2,1020.1 1131.5,1020.5 1132.7,1020.9C1134,1021.3 1135.3,1021.8 1136.5,1022.3C1137.7,1022.8 1139,1023.3 1140.2,1023.9C1141.4,1024.5 1142.6,1025.1 1143.7,1025.8C1144.9,1026.4 1146,1027.1 1147.1,1027.9C1148.2,1028.6 1149.3,1029.4 1150.3,1030.3C1151.4,1031.1 1152.4,1032 1153.3,1032.9C1154.3,1033.9 1155.2,1034.8 1156.1,1035.9C1156.9,1036.9 1157.7,1037.9 1158.5,1039C1159.3,1040.1 1160,1041.3 1160.6,1042.4C1161.3,1043.6 1161.9,1044.8 1162.4,1046C1162.9,1047.3 1163.4,1048.5 1163.8,1049.8C1164.2,1051.1 1164.5,1052.3 1164.8,1053.6C1165.2,1054.9 1165.4,1056.3 1165.7,1057.6C1165.9,1058.9 1166.1,1060.2 1166.3,1061.5C1166.6,1062.8 1166.7,1064.2 1166.9,1065.5C1167.1,1066.8 1167.3,1068.1 1167.5,1069.4C1167.7,1070.8 1167.9,1072.1 1168.1,1073.4C1168.4,1074.7 1168.6,1076 1168.9,1077.3C1169.2,1078.6 1169.5,1079.9 1169.9,1081.2C1170.3,1082.5 1170.7,1083.8 1171.2,1085C1171.7,1086.2 1172.3,1087.5 1172.9,1088.6C1173.5,1089.8 1174.1,1091 1174.8,1092.1C1175.5,1093.3 1176.3,1094.4 1177.1,1095.5C1177.9,1096.5 1178.7,1097.6 1179.5,1098.6C1180.4,1099.6 1181.3,1100.6 1182.2,1101.6C1183.1,1102.6 1184.1,1103.5 1185.1,1104.4C1186,1105.3 1187.1,1106.2 1188.1,1107C1189.1,1107.9 1190.2,1108.7 1191.2,1109.5C1192.3,1110.3 1193.4,1111.1 1194.5,1111.8C1195.6,1112.6 1196.7,1113.3 1197.9,1114C1199,1114.7 1200.2,1115.3 1201.4,1116C1202.5,1116.6 1203.7,1117.2 1204.9,1117.8C1206.1,1118.4 1207.3,1118.9 1208.6,1119.5C1209.8,1120 1211,1120.5 1212.3,1121C1213.5,1121.5 1214.7,1122 1216,1122.4C1217.3,1122.9 1218.5,1123.3 1219.8,1123.7C1221.1,1124.1 1222.3,1124.5 1223.6,1124.9C1224.9,1125.3 1226.2,1125.6 1227.5,1125.9C1228.8,1126.3 1230.1,1126.6 1231.4,1126.9C1232.7,1127.2 1234,1127.5 1235.3,1127.7C1236.6,1128 1237.9,1128.3 1239.2,1128.5C1240.6,1128.7 1241.9,1129 1243.2,1129.2C1244.5,1129.4 1245.8,1129.6 1247.2,1129.8C1248.5,1129.9 1249.8,1130.1 1251.1,1130.3C1252.5,1130.4 1253.8,1130.6 1255.1,1130.7C1256.4,1130.8 1257.8,1131 1259.1,1131.1C1260.4,1131.2 1261.8,1131.3 1263.1,1131.3C1264.4,1131.4 1265.8,1131.5 1267.1,1131.5C1268.4,1131.6 1269.8,1131.6 1271.1,1131.7C1272.4,1131.7 1273.8,1131.7 1275.1,1131.7C1276.4,1131.8 1277.8,1131.8 1279.1,1131.7C1280.4,1131.7 1281.8,1131.7 1283.1,1131.7C1284.5,1131.6 1285.8,1131.6 1287.1,1131.5C1288.5,1131.5 1289.8,1131.4 1291.1,1131.4C1292.5,1131.3 1293.8,1131.2 1295.1,1131.1C1296.5,1131 1297.8,1130.9 1299.1,1130.8C1300.4,1130.7 1301.8,1130.6 1303.1,1130.4C1304.4,1130.3 1305.8,1130.2 1307.1,1130C1308.4,1129.9 1309.7,1129.7 1311.1,1129.6C1312.4,1129.4 1313.7,1129.2 1315,1129.1C1316.4,1128.9 1317.7,1128.7 1319,1128.5C1320.3,1128.3 1321.7,1128.1 1323,1127.9C1324.3,1127.7 1325.6,1127.5 1326.9,1127.3C1328.3,1127.1 1329.6,1126.9 1330.9,1126.6C1332.2,1126.4 1333.5,1126.2 1334.8,1125.9C1336.1,1125.7 1337.5,1125.4 1338.8,1125.2C1340.1,1124.9 1341.4,1124.7 1342.7,1124.4C1344,1124.2 1345.3,1123.9 1346.6,1123.6C1347.9,1123.4 1349.2,1123.1 1350.6,1122.8C1351.9,1122.5 1353.2,1122.3 1354.5,1122C1355.8,1121.7 1357.1,1121.4 1358.4,1121.1C1359.7,1120.8 1361,1120.5 1362.3,1120.2C1363.6,1119.9 1364.9,1119.6 1366.2,1119.3C1367.5,1119 1368.8,1118.7 1370.1,1118.4C1371.4,1118.1 1372.7,1117.8 1374,1117.5C1375.3,1117.2 1376.6,1116.9 1377.9,1116.6C1379.2,1116.3 1380.5,1116 1381.8,1115.6C1383.1,1115.3 1384.4,1115 1385.7,1114.7C1387,1114.4 1388.3,1114.1 1389.6,1113.7C1390.9,1113.4 1392.2,1113.1 1393.5,1112.8C1394.8,1112.5 1396.1,1112.2 1397.4,1111.9C1398.7,1111.5 1400,1111.2 1401.3,1110.9C1402.6,1110.6 1403.9,1110.3 1405.2,1110C1406.5,1109.7 1407.8,1109.4 1409,1109C1410.3,1108.7 1411.6,1108.4 1413,1108.1C1414.3,1107.8 1415.6,1107.5 1416.9,1107.2C1418.2,1106.9 1419.5,1106.6 1420.8,1106.3C1422.1,1106 1423.4,1105.8 1424.7,1105.5C1426,1105.2 1427.3,1104.9 1428.6,1104.6C1429.9,1104.3 1431.2,1104.1 1432.5,1103.8C1433.8,1103.5 1435.1,1103.3 1436.4,1103C1437.7,1102.7 1439.1,1102.5 1440.4,1102.2C1441.7,1102 1443,1101.7 1444.3,1101.5C1445.6,1101.2 1446.9,1101 1448.2,1100.8C1449.6,1100.5 1450.9,1100.3 1452.2,1100.1C1453.5,1099.9 1454.8,1099.7 1456.1,1099.4C1457.5,1099.2 1458.8,1099 1460.1,1098.8C1461.4,1098.6 1462.8,1098.5 1464.1,1098.3C1465.4,1098.1 1466.7,1097.9 1468,1097.8C1469.4,1097.6 1470.7,1097.4 1472,1097.3C1473.4,1097.1 1474.7,1097 1476,1096.9C1477.3,1096.7 1479.3,1096.6 1480,1096.5" stroke="#b8509f" stroke-width="5.8"/></g><path d="M1342.9,1054.5H1398.4" stroke="#168246" stroke-width="1.0" opacity="0.7"/><rect x="1368.6" y="1052.4" width="4.2" height="4.2" fill="#168246"/><path d="M1342.9,1092.3H1398.4" stroke="#b8509f" stroke-width="1.0" opacity="0.7"/><circle cx="1370.7" cy="1092.3" r="2.2" fill="#b8509f"/><text x="1405" y="1063.5" font-size="25">S</text><text x="1421.9" y="1071.5" font-size="15.5">1</text><text x="1405" y="1101.3" font-size="25">S</text><text x="1421.9" y="1109.3" font-size="15.5">2</text>
<path d="M854,113.4L1141,115.5" stroke="#000" stroke-width="2.2"/>
<circle cx="1103.5" cy="115.5" r="3.5" fill="none" stroke="#e2311a" stroke-width="1.9"/>
<circle cx="1141" cy="115.6" r="3.7" fill="none" stroke="#e2311a" stroke-width="2.1"/>
<path d="M1016.9,79L1082.3,100.4" stroke="#e2311a" stroke-width="2.6"/><path d="M1096.1,104.9L1077.4,109L1083.4,90.6Z" fill="#e2311a"/>
<text x="992.7" y="69.8" font-size="35.5" fill="#c93422">UPA</text>
<path d="M854,1035.7L1184,1033.3" stroke="#000" stroke-width="2.2"/>
<circle cx="1153.9" cy="1032.7" r="3.7" fill="none" stroke="#e2311a" stroke-width="2.1"/>
<circle cx="1184.2" cy="1033.3" r="3.5" fill="none" stroke="#e2311a" stroke-width="1.9"/>
<path d="M1276.9,1066.9L1200.2,1042" stroke="#e2311a" stroke-width="2.6"/><path d="M1186.4,1037.5L1205.1,1033.4L1199.1,1051.8Z" fill="#e2311a"/>
<text x="1240.6" y="1096.9" font-size="35.5" fill="#c93422">UPA</text>
</svg></body></html>
